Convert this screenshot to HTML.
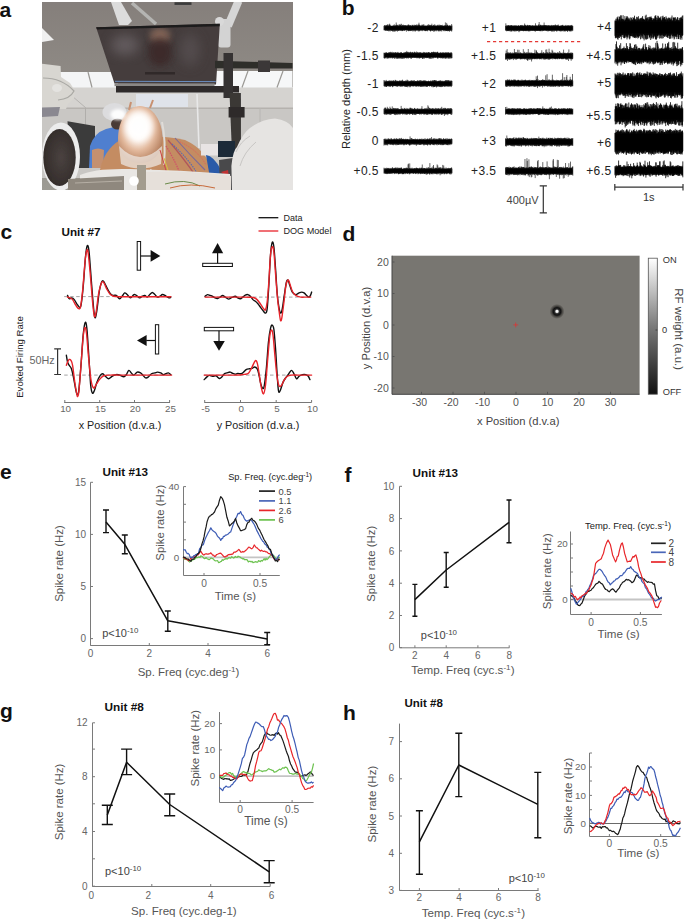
<!DOCTYPE html>
<html><head><meta charset="utf-8"><style>
html,body{margin:0;padding:0;background:#fff;}
body{width:685px;height:920px;overflow:hidden;position:relative;}
svg{position:absolute;left:0;top:0;}
text{font-family:"Liberation Sans", sans-serif;}
</style></head><body>
<svg width="685" height="920" viewBox="0 0 685 920">
<text x="-0.6" y="16.7" font-size="21" text-anchor="start" fill="#111" font-weight="bold" >a</text>
<text x="341.8" y="15" font-size="21" text-anchor="start" fill="#111" font-weight="bold" >b</text>
<text x="0.5" y="239" font-size="21" text-anchor="start" fill="#111" font-weight="bold" >c</text>
<text x="342.5" y="241" font-size="21" text-anchor="start" fill="#111" font-weight="bold" >d</text>
<text x="0" y="479" font-size="21" text-anchor="start" fill="#111" font-weight="bold" >e</text>
<text x="344.5" y="481.7" font-size="21" text-anchor="start" fill="#111" font-weight="bold" >f</text>
<text x="0" y="718" font-size="21" text-anchor="start" fill="#111" font-weight="bold" >g</text>
<text x="343" y="719.5" font-size="21" text-anchor="start" fill="#111" font-weight="bold" >h</text>
<defs>
<clipPath id="phc"><rect x="42" y="2" width="251" height="188"/></clipPath>
<filter id="bl1" x="-10%" y="-10%" width="120%" height="120%"><feGaussianBlur stdDeviation="0.6"/></filter>
<filter id="bl3" x="-50%" y="-50%" width="200%" height="200%"><feGaussianBlur stdDeviation="3"/></filter>
<filter id="bl2" x="-50%" y="-50%" width="200%" height="200%"><feGaussianBlur stdDeviation="1.6"/></filter>
<filter id="bl6" x="-50%" y="-50%" width="200%" height="200%"><feGaussianBlur stdDeviation="6"/></filter>
<linearGradient id="ceil" x1="0" y1="0" x2="0" y2="1">
 <stop offset="0" stop-color="#857f7b"/><stop offset="1" stop-color="#9d9b94"/>
</linearGradient>
<radialGradient id="headg" cx="0.45" cy="0.4" r="0.62">
 <stop offset="0" stop-color="#ffffff"/><stop offset="0.3" stop-color="#fdf6f0"/><stop offset="0.62" stop-color="#e2b89c"/><stop offset="1" stop-color="#b27c5a"/>
</radialGradient>
<radialGradient id="lampg" cx="0.55" cy="0.5" r="0.55">
 <stop offset="0" stop-color="#4a4240"/><stop offset="1" stop-color="#332c2a"/>
</radialGradient>
</defs>
<g clip-path="url(#phc)">
<g filter="url(#bl1)">
<rect x="42" y="2" width="251" height="188" fill="url(#ceil)"/>
<!-- lower ceiling / wall -->
<rect x="42" y="87" width="251" height="22" fill="#d5d3d0"/>
<rect x="42" y="108" width="251" height="70" fill="#c9c7c4"/>
<rect x="42" y="107.5" width="251" height="1.5" fill="#b5b2ae"/>
<line x1="85.5" y1="108" x2="85.5" y2="135" stroke="#b0aeab" stroke-width="1"/>
<line x1="72" y1="96" x2="86" y2="108" stroke="#b5b3b0" stroke-width="1"/>
<line x1="260" y1="108" x2="260" y2="140" stroke="#b8b6b3" stroke-width="1"/>
<!-- light panels -->
<polygon points="57,72 118,72 118,87.5 61,87.5" fill="#f4f5f6"/>
<polygon points="212,71 292.5,71 292.5,87.5 208,87.5" fill="#f6f7f8"/>
<line x1="248" y1="71" x2="242" y2="87.5" stroke="#9a9894" stroke-width="1.2"/>
<line x1="283" y1="71" x2="277" y2="87.5" stroke="#9a9894" stroke-width="1.2"/>
<line x1="88" y1="72" x2="92" y2="87.5" stroke="#9a9894" stroke-width="1.2"/>
<polygon points="42,28 54,40 42,42" fill="#f0f0f0"/>
<!-- ceiling arms -->
<path d="M111,2 L121,2 L132,21 L128,25 L119,25 Z" fill="#dcdcdc"/>
<line x1="132" y1="3" x2="156" y2="24" stroke="#b4b4b2" stroke-width="3.5"/>
<line x1="238.5" y1="1" x2="228" y2="26" stroke="#d6d6d6" stroke-width="8"/>
<rect x="218" y="19" width="12.5" height="28.5" rx="3" fill="#d3d3d3"/>
<circle cx="219.5" cy="21.5" r="4.5" fill="#d9d9d9"/>
<rect x="174.5" y="2.3" width="17" height="2.6" fill="#3a3a3a"/>
<!-- monitor -->
<polygon points="96.1,27.2 219.8,23.7 216,84.4 114.5,83.4" fill="#453d3d"/>
<polygon points="96.1,27.2 219.8,23.7 219.6,26.2 97,29.6" fill="#1d1b1b"/>
<line x1="115" y1="81.3" x2="215.8" y2="81.6" stroke="#6a8ec0" stroke-width="1"/>
<rect x="114.5" y="83.4" width="100" height="2.8" fill="#8a8886"/>
<!-- black arms -->
<rect x="116" y="86" width="123" height="6.5" fill="#2d2b2a"/>
<polygon points="215,60.7 292.5,63 292.5,68.5 215,68.3" fill="#2f2d2c"/>
<rect x="258" y="60.5" width="12" height="11.5" fill="#3a3837"/>
<rect x="223.5" y="53" width="9.5" height="45" fill="#353332"/>
<polygon points="229.5,93 240.9,93 241,153 232,153" fill="#3a3736"/>
<rect x="228.6" y="107" width="16" height="10.5" fill="#2e2c2b"/>
<!-- ceiling white box -->
<rect x="136" y="94" width="52" height="13" fill="#dfe3ea"/>
<line x1="197" y1="94" x2="199" y2="148" stroke="#e8e8e8" stroke-width="1.6"/>
<!-- left device -->
<path d="M42,63.8 L60.6,66 L61,77 L70,83 L75,91 L74,99 L68,104 L66,109 L42,109 Z" fill="#d8d6d1"/>
<path d="M43,78 Q62,78 74,91 Q70,99 58,100" stroke="#a9a8a4" stroke-width="1.2" fill="none"/>
<ellipse cx="57" cy="88" rx="5" ry="4" fill="#e4e3e0"/>
<path d="M42,107.5 L60,107 L58,116 L42,117 Z" fill="#8a8890"/>
<!-- dark panel -->
<polygon points="67.5,121.3 95,126 95,168 70,168" fill="#3b3a3a"/>
<!-- lamp -->
<ellipse cx="61" cy="156.5" rx="19" ry="34" fill="#ececec"/>
<ellipse cx="59.5" cy="157.5" rx="16.2" ry="28.5" fill="url(#lampg)"/>
<!-- blue shirt -->
<path d="M89,168 L90,146 Q94,133 106,129 L114,127 L121,130 L118,168 Z" fill="#4f7fcf"/>
<path d="M92,150 Q98,147 104,150 L103,168 L92,168 Z" fill="#c49070"/>
<!-- face/cap -->
<ellipse cx="114.5" cy="112" rx="12" ry="9" fill="#dcdcde"/>
<ellipse cx="117.5" cy="124" rx="6.5" ry="5.5" fill="#4a3a34"/>
<!-- skin torso -->
<path d="M100,170 Q104,150 120,140 Q155,133 185,140 Q207,150 212,172 L200,178 L100,178 Z" fill="#c48c62"/>
<!-- head -->
<path d="M140,106 C128,106 118,120 118,139 C118,153 126,163 140,163 C154,163 162.5,153 162.5,139 C162.5,120 152,106 140,106 Z" fill="url(#headg)"/>
<path d="M119,146 Q140,168 162,146 L161,164 Q140,173 121,164 Z" fill="#ece6e0" opacity="0.75"/>
<!-- electrodes -->
<path d="M129,110 L131,102 M150,108 L153,100" stroke="#c89070" stroke-width="2" fill="none"/>
<path d="M162,122 Q166,140 164,165" stroke="#e0dcd8" stroke-width="2" fill="none"/>
<path d="M168,140 Q185,160 195,175" stroke="#b0575a" stroke-width="1.3" fill="none"/>
<path d="M166,146 Q178,165 184,185" stroke="#d0506a" stroke-width="1.2" fill="none" stroke-dasharray="1.5,1"/>
<path d="M172,144 Q190,160 200,178" stroke="#5a6ab0" stroke-width="1.1" fill="none" stroke-dasharray="1.5,1"/>
<path d="M164,158 Q168,172 175,188" stroke="#d8c040" stroke-width="1" fill="none"/>
<path d="M180,142 Q198,150 206,165" stroke="#e06060" stroke-width="1" fill="none" stroke-dasharray="1.2,1"/>
<path d="M150,170 Q165,178 180,188" stroke="#e8e4e0" stroke-width="2" fill="none"/>
<path d="M175,138 Q190,155 205,170" stroke="#7a6a9a" stroke-width="1.1" fill="none"/>
<path d="M160,150 Q166,170 170,185" stroke="#c44" stroke-width="1" fill="none"/>
<!-- small monitor & devices -->
<rect x="201" y="144" width="17" height="11.5" fill="#e8e4e4"/>
<rect x="218" y="141" width="17" height="16" fill="#1f2a38"/>
<path d="M206,155 Q214,156 221,170 L220,180 L210,178 Z" fill="#2a5aa8"/>
<path d="M219,160 L233,158 L233,190 L220,190 Z" fill="#4a4a4c"/>
<path d="M221,172 L228,170 L229,178 Z" fill="#c03030"/>
<!-- white bag -->
<path d="M232,190 L231.4,166 Q233,150 237,147 Q243,133 250,128 Q262,119 275,118.5 Q288,120 293,128 L293,190 Z" fill="#e6e4e2"/>
<path d="M236,152 Q240,142 250,136" stroke="#c8c6c4" stroke-width="1" fill="none"/>
<path d="M240,166 Q244,152 256,142" stroke="#c8c6c4" stroke-width="1" fill="none"/>
<!-- table sheet / bottom -->
<path d="M80,175 Q95,168 130,169 Q180,170 230,174 L231,190 L80,190 Z" fill="#e9e7e4"/>
<path d="M145,172 Q190,170 231,176 L231,190 L145,190 Z" fill="#e6e0da"/>
<path d="M68,179 L124,176 L124,190 L68,190 Z" fill="#8f887e"/>
<path d="M75,183 L122,181" stroke="#b5aea4" stroke-width="1.2"/>
<rect x="137" y="165" width="9" height="25" fill="#a39c8e"/>
<circle cx="134" cy="181" r="4.8" fill="#ffffff"/>
<path d="M165,184 Q185,178 200,186" stroke="#6a8a4a" stroke-width="1" fill="none"/>
<path d="M170,188 Q190,182 215,188" stroke="#c86a3a" stroke-width="1" fill="none"/>
</g>
<!-- soft glows -->
<ellipse cx="139" cy="126" rx="14" ry="15" fill="#ffffff" filter="url(#bl3)" opacity="0.9"/>
<ellipse cx="118" cy="114.5" rx="7.5" ry="5.5" fill="#ffffff" filter="url(#bl2)" opacity="0.95"/>
<clipPath id="monc"><polygon points="97.5,29.8 218.5,26.3 215.2,80.8 115.5,80.6"/></clipPath>
<g clip-path="url(#monc)">
<ellipse cx="125" cy="45" rx="14" ry="10" fill="#6a6466" filter="url(#bl6)" opacity="0.8"/>
<ellipse cx="160" cy="36" rx="10" ry="8" fill="#8a6a5c" filter="url(#bl3)" opacity="0.9"/>
<ellipse cx="160" cy="52" rx="12" ry="14" fill="#3a2826" filter="url(#bl3)" opacity="0.8"/>
<ellipse cx="190" cy="50" rx="10" ry="16" fill="#5a5254" filter="url(#bl6)" opacity="0.7"/>
<rect x="145" y="72" width="30" height="2.5" fill="#2a2424" opacity="0.8"/>
</g>
</g>

<text x="378.8" y="32.2" font-size="12" text-anchor="end" fill="#222" font-weight="normal" letter-spacing="0.4">-2</text>
<text x="496.3" y="32.2" font-size="12" text-anchor="end" fill="#222" font-weight="normal" letter-spacing="0.4">+1</text>
<text x="378.8" y="59.5" font-size="12" text-anchor="end" fill="#222" font-weight="normal" letter-spacing="0.4">-1.5</text>
<text x="496.3" y="59.5" font-size="12" text-anchor="end" fill="#222" font-weight="normal" letter-spacing="0.4">+1.5</text>
<text x="378.8" y="87.8" font-size="12" text-anchor="end" fill="#222" font-weight="normal" letter-spacing="0.4">-1</text>
<text x="496.3" y="87.8" font-size="12" text-anchor="end" fill="#222" font-weight="normal" letter-spacing="0.4">+2</text>
<text x="378.8" y="115.60000000000001" font-size="12" text-anchor="end" fill="#222" font-weight="normal" letter-spacing="0.4">-0.5</text>
<text x="496.3" y="115.60000000000001" font-size="12" text-anchor="end" fill="#222" font-weight="normal" letter-spacing="0.4">+2.5</text>
<text x="378.8" y="145.2" font-size="12" text-anchor="end" fill="#222" font-weight="normal" letter-spacing="0.4">0</text>
<text x="496.3" y="145.2" font-size="12" text-anchor="end" fill="#222" font-weight="normal" letter-spacing="0.4">+3</text>
<text x="378.8" y="175.1" font-size="12" text-anchor="end" fill="#222" font-weight="normal" letter-spacing="0.4">+0.5</text>
<text x="496.3" y="175.1" font-size="12" text-anchor="end" fill="#222" font-weight="normal" letter-spacing="0.4">+3.5</text>
<text x="611.5" y="30.5" font-size="12" text-anchor="end" fill="#222" font-weight="normal" letter-spacing="0.4">+4</text>
<text x="611.5" y="60.3" font-size="12" text-anchor="end" fill="#222" font-weight="normal" letter-spacing="0.4">+4.5</text>
<text x="611.5" y="86.7" font-size="12" text-anchor="end" fill="#222" font-weight="normal" letter-spacing="0.4">+5</text>
<text x="611.5" y="119.8" font-size="12" text-anchor="end" fill="#222" font-weight="normal" letter-spacing="0.4">+5.5</text>
<text x="611.5" y="146.70000000000002" font-size="12" text-anchor="end" fill="#222" font-weight="normal" letter-spacing="0.4">+6</text>
<text x="611.5" y="174.8" font-size="12" text-anchor="end" fill="#222" font-weight="normal" letter-spacing="0.4">+6.5</text>
<rect x="384.6" y="26.2" width="66.8" height="3.5" rx="1.5" fill="#000"/><path d="M384.00,25.9V30.3M384.33,25.7V30.1M384.66,25.0V30.0M384.99,25.5V30.5M385.32,26.1V30.9M385.65,25.5V30.2M385.98,25.4V30.6M386.31,24.9V30.5M386.64,25.5V30.5M386.97,25.7V30.5M387.30,25.4V30.9M387.63,24.4V30.8M387.96,24.5V30.6M388.29,25.8V29.9M388.62,26.0V31.1M388.95,24.8V31.4M389.28,24.9V30.5M389.61,23.7V30.4M389.94,24.6V30.7M390.27,25.1V31.4M390.60,25.9V30.2M390.93,25.9V29.8M391.26,26.0V31.0M391.59,25.7V30.9M391.92,25.9V30.1M392.25,26.1V31.0M392.58,25.7V31.5M392.91,25.9V30.8M393.24,25.1V31.5M393.57,25.6V30.4M393.90,25.9V31.5M394.23,24.3V30.2M394.56,25.5V31.4M394.89,25.6V31.4M395.22,25.8V30.6M395.55,25.6V31.3M395.88,25.0V30.4M396.21,22.5V30.2M396.54,24.7V31.1M396.87,25.9V30.5M397.20,25.0V30.4M397.53,24.8V31.6M397.86,26.1V30.4M398.19,25.6V30.7M398.52,25.7V30.8M398.85,24.5V30.7M399.18,25.3V30.6M399.51,24.4V30.5M399.84,26.1V30.1M400.17,24.8V30.5M400.50,25.1V30.6M400.83,24.6V30.5M401.16,23.7V30.8M401.49,26.0V30.7M401.82,24.4V30.0M402.15,26.0V31.2M402.48,25.0V30.9M402.81,25.4V31.0M403.14,25.2V30.8M403.47,24.7V30.0M403.80,26.1V29.9M404.13,25.5V31.0M404.46,25.4V30.3M404.79,25.2V30.5M405.12,25.1V30.7M405.45,25.4V30.0M405.78,25.5V29.9M406.11,25.6V30.1M406.44,25.7V31.7M406.77,25.3V30.0M407.10,25.8V30.1M407.43,25.9V30.0M407.76,25.0V31.0M408.09,24.7V30.7M408.42,24.5V31.0M408.75,25.4V31.3M409.08,24.8V30.4M409.41,25.9V30.9M409.74,25.3V30.7M410.07,25.2V30.6M410.40,25.2V30.7M410.73,25.5V31.1M411.06,26.1V30.8M411.39,26.2V30.7M411.72,25.5V30.5M412.05,24.8V30.5M412.38,25.1V30.1M412.71,25.7V31.4M413.04,24.8V30.4M413.37,26.2V30.5M413.70,25.8V30.4M414.03,25.0V31.4M414.36,24.7V30.5M414.69,26.2V30.6M415.02,25.6V30.2M415.35,25.0V31.6M415.68,25.4V30.9M416.01,25.1V30.3M416.34,24.4V30.6M416.67,25.9V30.0M417.00,25.0V30.9M417.33,25.9V30.0M417.66,24.7V30.4M417.99,26.0V31.2M418.32,24.7V30.1M418.65,24.7V31.4M418.98,22.7V30.7M419.31,24.6V30.6M419.64,25.1V31.3M419.97,25.4V30.7M420.30,25.5V30.0M420.63,26.1V30.7M420.96,25.8V30.4M421.29,25.2V30.1M421.62,26.0V30.8M421.95,24.6V29.9M422.28,25.6V31.2M422.61,25.3V30.5M422.94,24.8V30.2M423.27,24.5V30.2M423.60,26.1V30.1M423.93,24.4V30.7M424.26,25.7V30.6M424.59,26.1V30.2M424.92,25.4V31.0M425.25,25.8V31.2M425.58,25.6V31.0M425.91,26.2V30.6M426.24,25.8V31.1M426.57,25.8V30.6M426.90,25.5V30.4M427.23,25.8V30.5M427.56,24.8V31.3M427.89,25.7V30.4M428.22,26.0V30.3M428.55,24.3V30.0M428.88,25.3V30.3M429.21,24.7V30.3M429.54,25.5V30.4M429.87,25.1V30.4M430.20,25.7V31.0M430.53,24.9V31.5M430.86,26.1V31.1M431.19,25.2V30.8M431.52,25.2V30.2M431.85,23.7V30.4M432.18,25.9V30.8M432.51,25.9V30.8M432.84,25.4V30.2M433.17,25.5V31.1M433.50,25.3V29.9M433.83,25.3V31.9M434.16,24.6V30.5M434.49,25.9V31.3M434.82,24.4V30.0M435.15,25.9V30.8M435.48,25.5V30.5M435.81,25.5V30.2M436.14,26.0V31.4M436.47,25.7V30.4M436.80,25.6V30.6M437.13,25.5V30.4M437.46,24.8V30.2M437.79,25.8V30.2M438.12,25.7V31.2M438.45,25.6V30.5M438.78,24.7V31.2M439.11,25.5V31.5M439.44,25.6V30.6M439.77,24.7V30.1M440.10,26.1V31.0M440.43,25.2V30.3M440.76,25.1V31.3M441.09,25.5V30.5M441.42,25.1V30.2M441.75,25.5V31.5M442.08,26.0V29.9M442.41,24.8V30.0M442.74,26.0V30.1M443.07,25.7V30.6M443.40,26.0V30.5M443.73,25.8V30.4M444.06,25.4V31.3M444.39,25.7V30.2M444.72,25.7V30.5M445.05,25.2V30.5M445.38,22.4V31.1M445.71,25.1V30.2M446.04,26.0V31.1M446.37,25.5V31.0M446.70,22.9V31.0M447.03,24.5V30.6M447.36,24.9V31.0M447.69,24.9V31.3M448.02,25.6V30.5M448.35,26.1V31.0M448.68,26.2V30.9M449.01,25.6V31.0M449.34,25.1V31.6M449.67,26.2V31.3M450.00,25.6V29.9M450.33,25.7V29.9M450.66,25.7V30.9M450.99,25.9V31.0M451.32,25.7V30.4M451.65,24.0V31.6M451.98,25.5V30.4" stroke="#000" stroke-width="0.6" fill="none"/>
<rect x="384.6" y="53.5" width="66.8" height="3.6" rx="1.5" fill="#000"/><path d="M384.00,52.6V58.0M384.33,53.0V58.4M384.66,52.9V58.4M384.99,53.3V58.4M385.32,52.7V57.9M385.65,52.7V57.4M385.98,52.8V58.3M386.31,52.1V57.4M386.64,52.7V57.4M386.97,53.1V58.4M387.30,52.7V58.6M387.63,53.0V57.7M387.96,53.2V58.4M388.29,53.1V57.9M388.62,52.6V58.0M388.95,52.0V58.6M389.28,52.9V57.6M389.61,52.3V57.6M389.94,52.5V57.9M390.27,52.8V57.9M390.60,51.8V57.6M390.93,52.5V58.5M391.26,52.6V57.9M391.59,52.5V57.3M391.92,52.8V57.9M392.25,51.8V57.7M392.58,53.3V58.6M392.91,52.9V58.1M393.24,52.5V57.8M393.57,52.3V57.6M393.90,53.3V57.9M394.23,52.8V58.3M394.56,52.8V58.8M394.89,52.2V57.1M395.22,53.2V57.4M395.55,52.3V57.8M395.88,52.2V58.7M396.21,52.5V58.0M396.54,53.1V57.6M396.87,53.0V58.9M397.20,52.6V58.6M397.53,52.7V58.2M397.86,51.9V58.5M398.19,52.8V58.3M398.52,52.8V58.3M398.85,52.7V58.0M399.18,52.9V58.7M399.51,53.0V57.9M399.84,52.7V58.3M400.17,53.4V58.4M400.50,52.2V58.2M400.83,52.8V58.0M401.16,53.3V58.8M401.49,52.0V57.7M401.82,52.9V58.7M402.15,53.4V58.3M402.48,53.2V58.7M402.81,53.1V57.7M403.14,52.8V58.4M403.47,53.4V57.8M403.80,52.6V58.6M404.13,52.3V58.6M404.46,52.9V57.8M404.79,52.5V58.2M405.12,52.7V58.1M405.45,52.6V57.9M405.78,51.9V57.8M406.11,52.0V57.9M406.44,52.8V58.5M406.77,50.9V57.9M407.10,52.1V57.8M407.43,52.3V58.3M407.76,52.5V57.7M408.09,51.8V57.9M408.42,53.2V58.6M408.75,52.0V57.8M409.08,52.7V57.7M409.41,52.7V57.9M409.74,52.3V57.5M410.07,52.8V57.8M410.40,51.7V58.0M410.73,52.0V58.6M411.06,53.3V57.3M411.39,52.4V58.9M411.72,53.1V58.0M412.05,52.1V57.8M412.38,52.6V57.3M412.71,51.9V58.0M413.04,52.7V58.0M413.37,52.7V57.8M413.70,53.0V57.4M414.03,52.7V57.3M414.36,51.8V57.9M414.69,51.8V58.0M415.02,52.5V57.4M415.35,53.0V58.0M415.68,52.3V57.5M416.01,52.7V57.9M416.34,52.9V57.5M416.67,51.5V57.9M417.00,52.7V58.5M417.33,53.2V58.0M417.66,52.1V57.8M417.99,52.2V57.3M418.32,52.9V57.9M418.65,52.9V57.9M418.98,52.6V58.3M419.31,52.4V58.5M419.64,52.6V58.2M419.97,52.7V57.9M420.30,52.5V58.2M420.63,52.3V58.0M420.96,52.6V57.3M421.29,53.4V57.8M421.62,52.6V57.7M421.95,53.4V57.9M422.28,53.1V58.5M422.61,52.8V58.9M422.94,52.4V58.5M423.27,53.1V58.6M423.60,51.9V57.6M423.93,53.0V57.9M424.26,52.7V57.2M424.59,52.1V58.7M424.92,52.8V57.8M425.25,52.8V57.9M425.58,52.6V57.8M425.91,52.9V57.6M426.24,52.9V57.5M426.57,52.3V58.2M426.90,52.6V58.0M427.23,52.9V58.0M427.56,52.7V58.0M427.89,52.4V57.3M428.22,53.1V58.2M428.55,52.0V57.5M428.88,52.1V58.2M429.21,52.5V58.4M429.54,52.8V58.3M429.87,52.7V58.7M430.20,52.8V57.9M430.53,53.0V58.7M430.86,53.1V57.8M431.19,52.5V58.7M431.52,52.1V57.1M431.85,51.9V58.7M432.18,52.7V57.9M432.51,52.5V57.5M432.84,52.0V58.3M433.17,52.5V58.4M433.50,51.8V57.6M433.83,51.7V58.1M434.16,52.7V57.4M434.49,52.0V57.6M434.82,52.6V57.3M435.15,52.9V58.0M435.48,51.9V57.9M435.81,52.8V57.3M436.14,52.1V57.2M436.47,52.7V57.4M436.80,52.8V57.8M437.13,51.9V58.0M437.46,51.8V58.4M437.79,51.9V58.6M438.12,52.8V58.3M438.45,53.2V57.5M438.78,53.0V57.8M439.11,52.5V57.5M439.44,53.3V57.9M439.77,53.2V57.8M440.10,52.8V58.1M440.43,52.2V57.6M440.76,52.8V58.4M441.09,52.9V57.9M441.42,52.5V58.1M441.75,53.1V58.2M442.08,52.9V57.8M442.41,53.1V57.9M442.74,52.0V58.8M443.07,52.8V57.9M443.40,52.8V58.0M443.73,52.3V58.4M444.06,53.2V57.6M444.39,52.9V58.3M444.72,52.5V57.4M445.05,53.2V58.4M445.38,52.5V58.3M445.71,52.6V58.6M446.04,52.4V58.5M446.37,52.6V57.9M446.70,52.7V57.7M447.03,52.8V58.5M447.36,53.2V57.5M447.69,52.3V57.4M448.02,52.5V58.4M448.35,52.3V58.3M448.68,52.6V58.6M449.01,53.1V57.3M449.34,53.1V57.8M449.67,53.4V58.7M450.00,52.2V57.6M450.33,53.1V58.5M450.66,52.8V57.4M450.99,52.6V57.9M451.32,52.5V58.5M451.65,52.6V57.9M451.98,53.3V58.2" stroke="#000" stroke-width="0.6" fill="none"/>
<rect x="384.6" y="81.8" width="66.8" height="3.6" rx="1.5" fill="#000"/><path d="M384.00,80.0V86.2M384.33,81.3V86.0M384.66,81.7V86.8M384.99,80.3V85.9M385.32,81.2V86.4M385.65,81.5V86.3M385.98,81.5V86.9M386.31,79.9V86.8M386.64,81.1V87.0M386.97,81.3V86.1M387.30,81.4V86.2M387.63,80.9V85.8M387.96,81.3V86.2M388.29,81.2V86.0M388.62,80.8V85.8M388.95,80.6V86.8M389.28,81.2V86.4M389.61,80.5V86.3M389.94,81.5V86.0M390.27,80.4V86.9M390.60,81.0V86.2M390.93,81.1V86.5M391.26,81.2V86.0M391.59,80.4V85.7M391.92,81.3V85.5M392.25,81.2V86.2M392.58,80.7V87.2M392.91,81.2V87.0M393.24,80.5V86.1M393.57,80.5V85.9M393.90,80.5V85.5M394.23,81.0V85.7M394.56,81.4V86.2M394.89,81.4V86.0M395.22,79.8V86.0M395.55,80.6V86.2M395.88,80.0V86.2M396.21,80.8V86.2M396.54,81.3V86.6M396.87,81.3V85.5M397.20,80.9V85.7M397.53,80.8V86.9M397.86,81.3V86.1M398.19,80.8V86.1M398.52,81.4V85.5M398.85,81.3V86.1M399.18,80.9V86.7M399.51,80.9V85.6M399.84,80.2V85.8M400.17,80.8V85.7M400.50,81.1V86.4M400.83,80.7V87.0M401.16,81.0V85.6M401.49,80.8V86.2M401.82,80.7V86.4M402.15,80.4V86.5M402.48,79.7V86.2M402.81,80.9V86.3M403.14,81.7V85.9M403.47,80.8V85.6M403.80,81.6V86.2M404.13,81.0V86.4M404.46,80.9V86.1M404.79,81.2V86.8M405.12,81.5V86.0M405.45,80.6V86.8M405.78,80.7V86.3M406.11,81.3V86.8M406.44,80.9V86.9M406.77,80.7V86.2M407.10,79.6V86.7M407.43,81.2V86.2M407.76,80.3V87.3M408.09,80.5V85.9M408.42,81.7V86.4M408.75,81.3V85.8M409.08,80.8V85.8M409.41,81.4V87.2M409.74,81.5V85.5M410.07,81.1V86.1M410.40,80.7V87.2M410.73,81.2V86.5M411.06,80.5V86.0M411.39,81.0V85.7M411.72,80.1V86.2M412.05,81.1V86.2M412.38,80.8V86.3M412.71,80.8V86.2M413.04,80.9V86.0M413.37,80.7V86.4M413.70,80.6V86.3M414.03,81.5V86.4M414.36,80.1V85.7M414.69,81.6V85.7M415.02,81.0V85.8M415.35,81.0V86.8M415.68,81.0V85.9M416.01,81.7V85.9M416.34,81.3V86.5M416.67,81.0V86.6M417.00,81.4V86.4M417.33,80.4V86.0M417.66,80.5V86.2M417.99,80.9V86.2M418.32,81.2V86.3M418.65,81.1V86.5M418.98,80.5V86.3M419.31,80.5V86.1M419.64,81.1V86.3M419.97,80.5V85.8M420.30,80.1V87.0M420.63,81.4V86.4M420.96,80.6V86.3M421.29,80.6V87.0M421.62,81.3V86.1M421.95,80.6V86.6M422.28,81.1V86.2M422.61,81.0V86.8M422.94,80.7V86.1M423.27,80.8V86.0M423.60,80.5V86.5M423.93,80.7V86.6M424.26,80.9V86.5M424.59,80.4V85.6M424.92,80.9V86.1M425.25,80.6V86.6M425.58,80.7V85.7M425.91,81.3V86.5M426.24,80.8V86.6M426.57,81.2V86.5M426.90,81.3V86.6M427.23,81.5V87.0M427.56,81.2V86.4M427.89,81.5V85.9M428.22,81.0V86.0M428.55,80.6V85.8M428.88,81.2V86.1M429.21,81.6V86.4M429.54,81.3V86.5M429.87,81.3V85.9M430.20,81.4V85.8M430.53,80.7V86.1M430.86,80.6V86.1M431.19,81.6V86.2M431.52,81.2V86.2M431.85,81.6V87.1M432.18,80.4V86.6M432.51,80.7V86.1M432.84,80.5V85.8M433.17,81.4V87.4M433.50,80.6V86.9M433.83,80.4V86.1M434.16,80.5V86.7M434.49,80.0V86.9M434.82,80.5V87.0M435.15,80.3V86.7M435.48,81.0V85.9M435.81,80.4V86.3M436.14,80.2V86.4M436.47,80.9V87.5M436.80,81.7V86.4M437.13,81.4V86.6M437.46,81.5V86.3M437.79,81.0V86.3M438.12,80.8V86.6M438.45,81.0V86.6M438.78,81.1V85.8M439.11,80.6V85.9M439.44,80.7V86.8M439.77,81.1V86.9M440.10,81.0V86.5M440.43,80.3V86.4M440.76,80.6V86.9M441.09,81.5V87.2M441.42,81.3V86.5M441.75,81.0V86.2M442.08,80.5V86.9M442.41,81.5V86.8M442.74,81.2V86.2M443.07,81.5V85.9M443.40,81.4V86.3M443.73,81.5V86.0M444.06,80.6V86.7M444.39,81.5V86.4M444.72,81.0V86.8M445.05,81.1V86.0M445.38,80.4V85.8M445.71,80.5V86.6M446.04,80.1V86.6M446.37,80.3V86.0M446.70,80.7V86.3M447.03,81.4V85.8M447.36,80.7V86.3M447.69,80.2V86.2M448.02,80.1V86.9M448.35,81.0V86.5M448.68,80.4V85.8M449.01,80.1V86.3M449.34,80.9V86.0M449.67,81.4V86.7M450.00,81.6V86.1M450.33,80.8V86.5M450.66,80.9V85.9M450.99,80.5V86.2M451.32,80.6V87.1M451.65,81.0V85.9M451.98,80.9V85.8" stroke="#000" stroke-width="0.6" fill="none"/>
<rect x="384.6" y="109.7" width="66.8" height="3.5" rx="1.5" fill="#000"/><path d="M384.00,108.7V113.9M384.33,109.3V114.3M384.66,107.8V114.5M384.99,108.6V114.3M385.32,107.4V114.1M385.65,108.0V113.5M385.98,108.6V115.0M386.31,109.0V113.8M386.64,109.5V114.6M386.97,108.5V114.4M387.30,106.8V113.9M387.63,109.3V114.3M387.96,108.1V114.2M388.29,108.7V113.8M388.62,108.7V114.4M388.95,109.1V113.8M389.28,108.8V114.1M389.61,109.2V114.6M389.94,106.7V114.5M390.27,109.0V113.3M390.60,108.0V114.8M390.93,108.8V114.5M391.26,109.0V113.6M391.59,109.0V114.3M391.92,108.6V113.8M392.25,106.4V114.0M392.58,109.3V113.8M392.91,108.4V113.5M393.24,109.0V113.6M393.57,107.9V113.7M393.90,108.5V113.9M394.23,108.0V114.6M394.56,109.1V114.7M394.89,108.3V114.3M395.22,109.1V113.6M395.55,108.1V115.1M395.88,109.1V113.3M396.21,108.5V114.8M396.54,108.6V114.0M396.87,108.8V114.2M397.20,108.2V114.9M397.53,108.3V113.3M397.86,109.1V114.4M398.19,109.3V113.9M398.52,108.3V114.3M398.85,109.4V113.2M399.18,109.1V114.6M399.51,109.5V113.7M399.84,109.1V114.1M400.17,108.9V114.7M400.50,109.5V113.9M400.83,109.1V113.3M401.16,105.9V113.3M401.49,108.6V113.8M401.82,108.9V113.4M402.15,108.5V113.4M402.48,108.7V114.6M402.81,108.9V113.5M403.14,109.1V113.7M403.47,109.3V113.5M403.80,109.2V114.2M404.13,107.9V114.4M404.46,108.5V113.3M404.79,108.5V113.6M405.12,108.9V114.5M405.45,109.0V113.5M405.78,109.1V114.1M406.11,107.9V114.7M406.44,109.4V114.7M406.77,109.2V113.4M407.10,108.6V113.7M407.43,108.8V114.3M407.76,108.5V114.6M408.09,108.7V113.7M408.42,109.3V113.8M408.75,108.8V113.8M409.08,108.9V113.7M409.41,109.5V113.9M409.74,108.3V115.0M410.07,107.6V113.9M410.40,107.9V114.0M410.73,108.7V113.4M411.06,107.9V114.0M411.39,109.1V113.8M411.72,108.5V114.0M412.05,108.2V113.6M412.38,109.1V114.8M412.71,108.8V114.7M413.04,108.8V114.5M413.37,109.3V113.2M413.70,109.0V114.4M414.03,109.2V113.5M414.36,108.1V114.7M414.69,107.9V114.2M415.02,108.4V114.9M415.35,109.1V114.6M415.68,109.1V113.5M416.01,109.6V115.1M416.34,109.0V113.9M416.67,109.5V113.9M417.00,108.2V113.9M417.33,109.2V114.0M417.66,108.6V113.8M417.99,108.2V113.9M418.32,109.2V113.9M418.65,109.3V114.0M418.98,109.0V114.0M419.31,108.9V114.1M419.64,108.6V114.6M419.97,109.2V113.7M420.30,109.1V114.4M420.63,109.4V114.0M420.96,108.4V113.3M421.29,108.7V113.5M421.62,108.8V114.6M421.95,106.2V113.8M422.28,109.1V113.8M422.61,108.7V113.5M422.94,109.4V113.8M423.27,109.0V113.9M423.60,109.1V113.4M423.93,108.6V114.9M424.26,109.0V114.3M424.59,108.3V114.2M424.92,109.0V114.0M425.25,108.7V113.5M425.58,108.4V114.0M425.91,108.7V114.7M426.24,109.1V113.5M426.57,108.7V114.7M426.90,107.8V114.5M427.23,108.9V113.8M427.56,108.8V114.8M427.89,105.3V114.3M428.22,109.1V114.6M428.55,106.6V113.5M428.88,109.6V113.8M429.21,107.8V114.0M429.54,108.2V114.4M429.87,108.2V114.0M430.20,109.0V113.7M430.53,108.4V113.8M430.86,109.3V114.5M431.19,108.6V113.9M431.52,109.0V114.8M431.85,108.6V113.8M432.18,108.3V114.4M432.51,108.4V114.8M432.84,109.5V114.6M433.17,108.1V113.6M433.50,108.7V113.5M433.83,109.3V113.4M434.16,109.3V113.6M434.49,108.9V114.5M434.82,108.4V113.9M435.15,109.6V114.5M435.48,107.9V114.3M435.81,109.2V113.8M436.14,109.5V113.9M436.47,108.1V114.7M436.80,109.1V113.3M437.13,109.1V113.7M437.46,108.5V113.6M437.79,108.7V114.2M438.12,108.5V114.9M438.45,108.1V114.3M438.78,108.9V113.3M439.11,109.4V114.0M439.44,108.9V114.5M439.77,108.7V113.9M440.10,108.2V113.7M440.43,108.8V113.3M440.76,109.4V113.4M441.09,107.8V114.7M441.42,109.2V114.7M441.75,106.8V114.9M442.08,108.9V113.7M442.41,108.5V114.2M442.74,109.2V114.6M443.07,109.4V113.5M443.40,108.5V113.6M443.73,108.2V113.9M444.06,107.9V113.6M444.39,109.1V116.0M444.72,108.6V114.4M445.05,107.8V113.8M445.38,108.1V114.7M445.71,108.6V114.0M446.04,109.1V113.9M446.37,108.7V114.7M446.70,108.9V113.8M447.03,108.6V113.9M447.36,109.1V113.8M447.69,108.2V115.2M448.02,108.2V114.5M448.35,109.2V113.8M448.68,108.4V113.8M449.01,108.5V113.6M449.34,109.0V113.9M449.67,108.2V113.4M450.00,109.1V113.5M450.33,108.9V114.0M450.66,108.0V114.1M450.99,108.4V114.5M451.32,108.3V115.0M451.65,108.9V113.3M451.98,109.2V114.4" stroke="#000" stroke-width="0.6" fill="none"/>
<rect x="384.6" y="140.0" width="66.8" height="3.6" rx="1.5" fill="#000"/><path d="M384.00,139.0V145.6M384.33,138.9V144.3M384.66,139.7V144.7M384.99,138.5V144.6M385.32,139.1V145.1M385.65,139.9V144.2M385.98,138.6V145.3M386.31,139.4V144.0M386.64,139.5V145.1M386.97,139.9V144.7M387.30,138.7V144.3M387.63,139.4V145.5M387.96,139.7V144.6M388.29,138.6V144.2M388.62,138.6V143.9M388.95,138.6V144.2M389.28,139.1V143.6M389.61,139.2V144.4M389.94,139.4V144.4M390.27,139.2V145.0M390.60,139.7V144.4M390.93,138.4V143.9M391.26,138.5V144.0M391.59,138.6V144.4M391.92,139.7V145.0M392.25,139.1V145.0M392.58,139.6V144.4M392.91,139.1V144.1M393.24,139.8V145.3M393.57,139.1V144.5M393.90,138.6V144.7M394.23,139.1V144.7M394.56,138.5V143.9M394.89,139.1V144.5M395.22,138.8V143.7M395.55,139.4V145.1M395.88,139.5V143.9M396.21,138.6V145.3M396.54,138.3V144.2M396.87,139.4V144.6M397.20,139.1V144.7M397.53,138.9V145.1M397.86,138.8V144.1M398.19,138.9V144.3M398.52,139.5V145.0M398.85,138.7V144.8M399.18,139.7V144.9M399.51,138.3V144.1M399.84,139.0V144.1M400.17,138.3V144.7M400.50,139.1V143.9M400.83,138.7V144.7M401.16,139.6V144.7M401.49,137.9V144.2M401.82,139.0V144.2M402.15,139.3V144.8M402.48,139.0V143.9M402.81,139.0V143.8M403.14,138.6V145.0M403.47,139.2V143.9M403.80,138.9V145.3M404.13,139.2V145.2M404.46,139.3V144.7M404.79,139.5V143.8M405.12,139.3V144.2M405.45,139.1V144.5M405.78,138.7V144.2M406.11,139.7V144.7M406.44,139.3V144.9M406.77,139.0V144.0M407.10,139.3V144.7M407.43,138.9V143.8M407.76,139.0V144.1M408.09,139.3V144.2M408.42,139.4V144.1M408.75,139.7V144.7M409.08,139.4V144.9M409.41,139.3V145.3M409.74,139.5V145.6M410.07,136.4V144.8M410.40,138.6V145.1M410.73,139.7V143.9M411.06,139.8V144.0M411.39,138.0V144.9M411.72,138.5V143.8M412.05,138.5V144.5M412.38,139.5V144.6M412.71,139.0V144.1M413.04,139.2V144.0M413.37,139.0V144.0M413.70,139.2V144.9M414.03,139.3V144.5M414.36,139.1V144.3M414.69,139.6V144.4M415.02,138.9V144.6M415.35,138.6V144.6M415.68,139.8V144.4M416.01,139.0V143.8M416.34,139.1V145.9M416.67,139.8V144.8M417.00,139.2V144.3M417.33,139.3V144.3M417.66,138.7V144.7M417.99,139.8V143.9M418.32,139.3V144.8M418.65,139.8V143.9M418.98,139.1V144.5M419.31,139.4V144.9M419.64,138.8V144.7M419.97,138.9V144.7M420.30,139.2V144.3M420.63,139.2V144.8M420.96,139.7V145.0M421.29,138.8V144.0M421.62,139.7V144.3M421.95,138.6V144.5M422.28,139.2V144.0M422.61,139.6V144.2M422.94,139.5V144.6M423.27,138.8V143.9M423.60,139.2V144.8M423.93,139.2V145.5M424.26,139.6V145.1M424.59,139.4V144.4M424.92,138.2V144.1M425.25,139.9V144.3M425.58,139.5V144.8M425.91,138.7V144.5M426.24,139.2V144.9M426.57,139.5V144.4M426.90,139.4V144.7M427.23,139.1V144.5M427.56,138.5V145.6M427.89,138.7V145.1M428.22,139.5V144.4M428.55,139.4V144.2M428.88,138.9V144.2M429.21,139.3V144.7M429.54,139.1V144.1M429.87,138.1V145.0M430.20,138.2V145.3M430.53,139.4V144.8M430.86,139.4V144.3M431.19,139.8V144.3M431.52,137.1V144.2M431.85,138.9V143.9M432.18,139.8V144.5M432.51,139.6V144.7M432.84,138.9V144.4M433.17,138.6V144.3M433.50,139.1V145.0M433.83,138.3V144.3M434.16,139.7V145.3M434.49,138.4V144.4M434.82,139.3V144.4M435.15,139.8V144.3M435.48,138.7V144.2M435.81,139.5V144.1M436.14,138.6V144.8M436.47,139.3V144.6M436.80,139.1V143.9M437.13,138.7V145.4M437.46,139.5V144.1M437.79,139.3V144.3M438.12,138.8V144.3M438.45,139.4V145.0M438.78,138.2V144.4M439.11,138.8V144.4M439.44,138.7V144.4M439.77,138.2V144.5M440.10,138.2V143.9M440.43,139.4V145.1M440.76,139.0V144.6M441.09,138.3V144.5M441.42,138.8V144.3M441.75,139.8V145.2M442.08,139.1V144.4M442.41,139.7V144.7M442.74,139.5V145.2M443.07,139.2V144.7M443.40,138.5V145.1M443.73,138.2V144.6M444.06,139.3V144.3M444.39,139.1V144.9M444.72,139.2V143.9M445.05,139.3V144.0M445.38,139.1V144.4M445.71,138.4V144.3M446.04,138.9V145.1M446.37,139.6V144.0M446.70,139.5V145.0M447.03,138.1V144.5M447.36,139.7V144.9M447.69,138.8V144.9M448.02,139.2V145.4M448.35,139.4V144.4M448.68,138.8V144.4M449.01,139.0V144.4M449.34,138.7V144.6M449.67,138.9V144.2M450.00,139.3V145.2M450.33,139.6V144.2M450.66,138.9V144.2M450.99,139.0V144.1M451.32,138.4V144.2M451.65,138.8V144.5M451.98,139.1V143.7" stroke="#000" stroke-width="0.6" fill="none"/>
<rect x="384.6" y="169.2" width="66.8" height="3.5" rx="1.5" fill="#000"/><path d="M384.00,167.7V173.5M384.33,168.6V173.3M384.66,168.7V173.5M384.99,168.5V173.1M385.32,168.9V173.7M385.65,168.3V173.9M385.98,168.3V173.2M386.31,167.7V173.7M386.64,168.8V173.8M386.97,168.8V174.2M387.30,168.4V173.6M387.63,168.1V173.8M387.96,167.8V173.7M388.29,168.4V173.3M388.62,168.4V173.5M388.95,168.1V173.9M389.28,168.8V173.4M389.61,168.8V173.6M389.94,167.9V173.8M390.27,168.5V173.7M390.60,168.5V173.1M390.93,168.8V173.8M391.26,168.2V173.6M391.59,169.0V173.3M391.92,167.9V173.5M392.25,167.8V173.2M392.58,167.2V172.9M392.91,168.8V174.1M393.24,168.1V172.9M393.57,168.3V172.9M393.90,168.8V172.9M394.23,168.3V173.4M394.56,167.8V174.1M394.89,168.0V173.3M395.22,168.0V173.1M395.55,167.4V173.4M395.88,168.5V173.5M396.21,168.1V173.4M396.54,167.6V173.6M396.87,168.9V172.8M397.20,168.7V173.3M397.53,167.6V172.9M397.86,168.2V173.6M398.19,167.6V174.1M398.52,168.4V174.2M398.85,168.0V174.1M399.18,168.7V173.4M399.51,167.8V173.6M399.84,168.0V173.9M400.17,167.9V174.0M400.50,168.4V173.1M400.83,168.1V173.5M401.16,167.2V173.4M401.49,167.8V173.1M401.82,168.1V174.1M402.15,168.9V173.5M402.48,169.1V174.2M402.81,168.9V174.0M403.14,168.7V174.2M403.47,168.8V174.0M403.80,167.9V174.1M404.13,168.4V173.5M404.46,168.6V173.3M404.79,168.1V173.0M405.12,168.1V174.2M405.45,168.3V172.9M405.78,168.8V173.8M406.11,167.7V173.7M406.44,167.8V173.0M406.77,168.4V172.9M407.10,167.8V173.6M407.43,168.1V173.9M407.76,168.5V173.5M408.09,164.4V173.4M408.42,163.6V173.1M408.75,168.5V172.9M409.08,168.8V174.1M409.41,168.0V174.3M409.74,163.4V173.1M410.07,167.8V174.1M410.40,168.5V173.1M410.73,168.9V173.5M411.06,168.4V173.4M411.39,168.3V173.1M411.72,168.9V173.3M412.05,167.6V173.2M412.38,168.5V173.2M412.71,168.9V173.1M413.04,168.4V173.8M413.37,168.3V173.9M413.70,168.9V173.6M414.03,168.6V173.0M414.36,168.4V173.0M414.69,168.0V173.1M415.02,168.0V174.0M415.35,169.1V172.9M415.68,168.3V174.1M416.01,167.9V173.9M416.34,167.8V172.9M416.67,167.7V173.4M417.00,168.4V173.4M417.33,168.3V173.4M417.66,168.0V172.8M417.99,168.3V174.3M418.32,168.5V173.0M418.65,168.8V174.0M418.98,168.2V173.5M419.31,168.7V173.1M419.64,167.9V173.0M419.97,167.6V174.0M420.30,168.9V173.5M420.63,168.3V174.2M420.96,168.2V173.5M421.29,168.1V173.5M421.62,167.5V173.7M421.95,168.0V173.1M422.28,164.5V174.0M422.61,168.2V173.5M422.94,169.0V173.8M423.27,168.4V172.8M423.60,167.9V173.3M423.93,168.4V174.1M424.26,168.1V173.9M424.59,168.2V174.0M424.92,168.0V173.6M425.25,168.1V173.6M425.58,169.1V173.3M425.91,168.8V174.3M426.24,168.3V174.2M426.57,168.5V173.0M426.90,167.4V174.9M427.23,168.6V173.6M427.56,168.1V174.0M427.89,168.9V173.6M428.22,167.5V173.7M428.55,167.3V172.7M428.88,168.7V173.5M429.21,168.8V174.0M429.54,167.9V174.6M429.87,163.1V173.5M430.20,168.4V174.3M430.53,168.0V173.0M430.86,168.3V173.6M431.19,168.4V173.4M431.52,167.5V173.9M431.85,168.6V174.3M432.18,168.2V174.1M432.51,168.6V173.2M432.84,166.4V173.5M433.17,168.9V174.3M433.50,165.0V173.4M433.83,167.4V172.8M434.16,168.6V173.6M434.49,168.7V173.4M434.82,168.4V174.1M435.15,168.4V173.4M435.48,168.1V173.5M435.81,167.6V173.9M436.14,167.9V173.6M436.47,168.1V174.2M436.80,168.4V173.3M437.13,164.4V174.5M437.46,168.6V173.6M437.79,165.4V173.7M438.12,168.0V172.9M438.45,168.2V173.4M438.78,167.3V174.2M439.11,168.1V173.8M439.44,168.0V172.9M439.77,167.3V173.3M440.10,167.7V175.3M440.43,167.5V173.2M440.76,168.9V173.7M441.09,167.4V174.4M441.42,168.4V173.2M441.75,168.8V173.9M442.08,168.3V173.8M442.41,167.9V173.8M442.74,164.9V172.9M443.07,168.6V174.2M443.40,168.4V172.9M443.73,165.5V173.3M444.06,167.7V173.7M444.39,168.9V174.3M444.72,168.3V174.1M445.05,168.7V172.8M445.38,168.6V172.9M445.71,168.8V173.9M446.04,167.4V173.2M446.37,168.3V173.8M446.70,169.1V174.3M447.03,168.5V173.0M447.36,168.2V173.5M447.69,168.7V173.6M448.02,168.3V173.6M448.35,168.5V172.9M448.68,167.8V173.2M449.01,168.7V173.3M449.34,168.4V173.6M449.67,168.5V174.1M450.00,168.0V174.4M450.33,168.4V173.1M450.66,168.4V173.6M450.99,168.1V174.5M451.32,167.5V173.6M451.65,167.6V173.3M451.98,168.7V173.3" stroke="#000" stroke-width="0.6" fill="none"/>
<rect x="506.1" y="26.2" width="66.3" height="3.9" rx="1.5" fill="#000"/><path d="M505.50,25.9V30.3M505.83,23.3V30.5M506.16,25.8V30.9M506.49,26.2V30.5M506.82,25.2V31.4M507.15,25.4V30.9M507.48,25.7V30.9M507.81,25.8V31.0M508.14,25.4V30.9M508.47,25.1V30.9M508.80,25.3V31.2M509.13,25.8V31.0M509.46,25.8V30.6M509.79,25.3V31.3M510.12,25.5V30.4M510.45,25.5V30.6M510.78,25.4V31.7M511.11,25.7V30.9M511.44,25.1V31.1M511.77,25.2V31.6M512.10,25.6V31.2M512.43,26.0V30.2M512.76,25.5V30.5M513.09,25.5V31.0M513.42,26.1V30.8M513.75,25.5V31.4M514.08,25.7V30.4M514.41,25.5V30.9M514.74,25.5V31.5M515.07,25.9V31.2M515.40,25.6V30.3M515.73,25.6V31.3M516.06,25.3V30.9M516.39,25.7V30.7M516.72,25.7V31.3M517.05,25.9V30.9M517.38,25.7V31.0M517.71,26.0V30.7M518.04,25.7V30.8M518.37,25.3V30.3M518.70,25.4V31.3M519.03,25.7V32.2M519.36,25.7V30.9M519.69,26.2V31.1M520.02,26.0V31.2M520.35,25.2V30.8M520.68,25.1V30.5M521.01,25.5V30.8M521.34,25.1V30.9M521.67,25.9V30.6M522.00,24.9V30.9M522.33,25.8V30.8M522.66,25.2V30.9M522.99,25.8V30.8M523.32,25.7V31.2M523.65,26.0V31.2M523.98,25.3V31.0M524.31,25.6V31.0M524.64,23.5V30.8M524.97,24.7V30.8M525.30,25.1V31.2M525.63,25.3V31.0M525.96,25.5V31.0M526.29,26.0V31.0M526.62,25.6V31.2M526.95,25.7V30.4M527.28,24.9V30.6M527.61,24.9V31.0M527.94,25.5V31.2M528.27,25.7V31.1M528.60,25.3V31.3M528.93,25.9V30.8M529.26,25.0V31.4M529.59,25.2V30.8M529.92,25.0V31.2M530.25,25.9V31.1M530.58,25.4V30.8M530.91,25.5V30.3M531.24,25.9V31.0M531.57,25.6V30.6M531.90,25.7V30.7M532.23,25.8V30.9M532.56,25.2V30.6M532.89,25.6V31.0M533.22,25.3V30.9M533.55,26.1V30.7M533.88,25.9V30.4M534.21,25.4V31.0M534.54,25.8V31.2M534.87,25.6V31.1M535.20,26.0V30.7M535.53,23.3V31.6M535.86,25.1V30.9M536.19,25.7V30.9M536.52,25.6V31.0M536.85,25.6V30.5M537.18,26.0V31.0M537.51,26.2V31.0M537.84,25.3V30.8M538.17,25.1V30.6M538.50,25.3V31.0M538.83,24.1V30.6M539.16,22.0V31.0M539.49,25.5V31.1M539.82,25.8V30.8M540.15,25.2V31.1M540.48,24.9V31.2M540.81,24.7V31.0M541.14,25.3V31.1M541.47,25.5V30.4M541.80,25.5V30.4M542.13,25.5V31.4M542.46,25.6V30.8M542.79,25.3V30.5M543.12,24.9V30.8M543.45,25.5V30.7M543.78,25.3V30.7M544.11,22.5V31.0M544.44,25.0V30.3M544.77,25.2V30.3M545.10,25.3V30.6M545.43,25.4V30.6M545.76,25.0V30.7M546.09,25.5V30.6M546.42,25.3V30.9M546.75,25.5V30.8M547.08,25.4V31.2M547.41,25.4V30.7M547.74,26.2V30.5M548.07,25.3V31.6M548.40,25.1V30.7M548.73,25.7V31.0M549.06,25.5V31.0M549.39,25.4V30.7M549.72,25.8V31.1M550.05,25.3V30.5M550.38,25.9V31.0M550.71,25.5V30.6M551.04,25.8V31.0M551.37,25.7V31.5M551.70,24.9V30.8M552.03,25.4V31.5M552.36,25.3V30.9M552.69,26.0V31.5M553.02,25.5V30.7M553.35,25.8V30.3M553.68,25.0V31.0M554.01,25.1V31.9M554.34,25.6V31.1M554.67,25.5V30.6M555.00,25.3V30.5M555.33,24.4V30.6M555.66,25.5V30.8M555.99,25.0V30.9M556.32,25.3V30.7M556.65,25.6V31.5M556.98,25.8V31.4M557.31,25.7V30.9M557.64,25.1V30.5M557.97,24.8V30.4M558.30,24.6V30.4M558.63,26.1V31.0M558.96,25.9V30.3M559.29,25.6V31.3M559.62,26.2V31.0M559.95,26.2V30.7M560.28,25.8V31.0M560.61,25.7V31.5M560.94,25.3V30.7M561.27,25.9V31.4M561.60,25.4V30.8M561.93,25.3V30.8M562.26,25.7V31.2M562.59,24.9V30.7M562.92,24.9V30.5M563.25,25.7V31.4M563.58,25.9V30.2M563.91,25.8V30.9M564.24,26.0V31.4M564.57,25.6V31.0M564.90,26.1V31.3M565.23,25.4V31.4M565.56,26.0V30.6M565.89,24.9V31.2M566.22,25.3V30.8M566.55,26.0V30.7M566.88,26.0V31.0M567.21,25.6V30.7M567.54,25.6V32.0M567.87,25.3V31.0M568.20,25.3V30.6M568.53,25.8V30.5M568.86,25.2V30.6M569.19,25.9V31.3M569.52,25.8V31.2M569.85,25.2V31.1M570.18,26.1V31.2M570.51,25.3V31.4M570.84,25.8V30.6M571.17,25.5V31.2M571.50,25.3V30.4M571.83,24.9V31.4M572.16,26.0V30.2M572.49,25.7V30.6M572.82,25.9V30.7" stroke="#000" stroke-width="0.6" fill="none"/>
<rect x="506.1" y="53.9" width="66.3" height="4.2" rx="1.5" fill="#000"/><path d="M505.50,53.7V59.5M505.83,53.2V59.6M506.16,50.5V58.9M506.49,53.2V59.5M506.82,53.2V58.7M507.15,49.1V58.9M507.48,52.6V61.0M507.81,52.6V58.3M508.14,53.2V59.6M508.47,52.5V58.8M508.80,53.7V59.1M509.13,52.5V59.5M509.46,53.2V58.9M509.79,53.1V60.0M510.12,52.7V58.7M510.45,52.3V59.2M510.78,53.5V59.2M511.11,53.5V58.8M511.44,53.1V59.2M511.77,53.7V58.8M512.10,52.4V59.2M512.43,53.7V58.5M512.76,52.8V58.6M513.09,52.9V58.2M513.42,53.6V60.1M513.75,52.8V58.7M514.08,53.2V58.6M514.41,49.0V58.4M514.74,52.5V59.1M515.07,52.9V59.2M515.40,52.4V58.5M515.73,52.7V59.6M516.06,52.3V58.4M516.39,52.2V59.6M516.72,53.3V58.8M517.05,53.3V59.2M517.38,52.9V58.8M517.71,49.7V58.8M518.04,52.6V58.9M518.37,52.9V58.6M518.70,53.3V58.7M519.03,49.8V58.2M519.36,53.3V58.1M519.69,53.3V59.0M520.02,52.5V59.0M520.35,52.4V59.6M520.68,53.2V59.0M521.01,52.7V59.0M521.34,53.1V59.0M521.67,53.3V59.3M522.00,53.6V58.6M522.33,53.5V58.5M522.66,53.3V59.2M522.99,53.3V59.0M523.32,49.2V58.8M523.65,53.1V58.5M523.98,53.7V59.1M524.31,52.6V59.0M524.64,51.7V59.5M524.97,53.6V58.7M525.30,52.7V58.7M525.63,53.1V59.1M525.96,53.4V58.8M526.29,53.3V59.5M526.62,52.2V58.5M526.95,53.3V59.7M527.28,53.3V59.8M527.61,52.3V60.8M527.94,53.6V60.4M528.27,49.0V59.0M528.60,53.0V59.2M528.93,52.6V59.1M529.26,52.7V59.6M529.59,53.0V58.5M529.92,52.7V59.6M530.25,53.5V59.7M530.58,53.1V58.8M530.91,52.4V59.0M531.24,52.9V58.9M531.57,52.8V61.5M531.90,52.9V59.7M532.23,52.9V59.1M532.56,53.3V58.9M532.89,52.9V59.0M533.22,53.3V59.1M533.55,53.2V58.3M533.88,53.2V59.0M534.21,53.0V58.9M534.54,52.9V58.9M534.87,49.6V59.4M535.20,52.6V59.0M535.53,53.8V58.7M535.86,53.4V58.9M536.19,50.2V58.8M536.52,50.7V58.5M536.85,52.2V59.3M537.18,53.0V59.2M537.51,52.3V58.7M537.84,52.9V58.6M538.17,53.2V58.6M538.50,53.6V58.6M538.83,52.9V58.6M539.16,53.6V59.1M539.49,53.3V59.3M539.82,53.5V58.6M540.15,53.2V58.6M540.48,53.2V59.2M540.81,52.9V59.0M541.14,52.5V58.7M541.47,53.2V58.6M541.80,50.2V59.5M542.13,53.2V58.2M542.46,53.2V58.5M542.79,53.8V58.5M543.12,52.4V58.4M543.45,52.7V59.4M543.78,52.2V59.2M544.11,53.4V58.2M544.44,53.4V59.6M544.77,53.4V59.2M545.10,53.0V58.9M545.43,52.9V59.4M545.76,49.7V59.3M546.09,53.7V58.6M546.42,52.5V59.0M546.75,49.4V59.1M547.08,52.6V59.3M547.41,52.5V58.3M547.74,52.9V58.9M548.07,52.5V59.5M548.40,53.4V58.8M548.73,53.3V59.6M549.06,48.7V59.4M549.39,53.3V58.9M549.72,52.1V59.7M550.05,52.2V58.8M550.38,53.5V58.6M550.71,53.1V59.0M551.04,53.2V59.1M551.37,52.7V58.5M551.70,53.1V58.5M552.03,49.7V58.5M552.36,53.5V58.3M552.69,50.7V59.4M553.02,52.9V58.2M553.35,52.9V58.4M553.68,52.6V58.6M554.01,53.1V59.0M554.34,52.7V58.6M554.67,53.0V58.9M555.00,52.3V58.9M555.33,52.9V59.4M555.66,53.0V59.0M555.99,53.0V58.6M556.32,53.4V58.9M556.65,53.3V58.4M556.98,53.3V59.0M557.31,52.1V59.4M557.64,53.2V58.9M557.97,53.1V58.7M558.30,52.4V58.2M558.63,52.9V58.3M558.96,53.8V59.2M559.29,53.3V58.9M559.62,51.0V59.1M559.95,53.5V58.8M560.28,53.0V58.6M560.61,52.5V58.4M560.94,52.7V58.6M561.27,53.0V59.0M561.60,53.2V58.9M561.93,53.6V59.4M562.26,53.1V58.9M562.59,53.8V59.1M562.92,52.4V58.4M563.25,53.1V58.8M563.58,49.6V59.2M563.91,53.5V58.8M564.24,52.9V58.5M564.57,52.9V58.4M564.90,53.0V58.7M565.23,52.7V58.7M565.56,53.3V59.5M565.89,53.3V59.1M566.22,53.3V59.1M566.55,53.2V59.5M566.88,53.3V59.4M567.21,52.8V59.4M567.54,52.6V59.4M567.87,53.2V59.0M568.20,52.8V58.4M568.53,53.1V61.0M568.86,49.4V58.2M569.19,53.3V58.7M569.52,53.0V58.4M569.85,53.1V59.0M570.18,53.4V59.4M570.51,52.8V58.8M570.84,52.5V58.7M571.17,53.4V60.8M571.50,53.3V59.2M571.83,52.4V58.9M572.16,53.0V59.2M572.49,52.9V59.2M572.82,53.3V58.6" stroke="#000" stroke-width="0.6" fill="none"/>
<rect x="506.1" y="81.1" width="66.3" height="4.2" rx="1.5" fill="#000"/><path d="M505.50,80.4V85.8M505.83,80.4V86.7M506.16,79.8V86.4M506.49,80.8V86.5M506.82,80.2V86.6M507.15,80.7V86.8M507.48,79.3V85.8M507.81,80.3V86.3M508.14,79.9V85.6M508.47,80.2V86.1M508.80,80.4V86.3M509.13,79.4V85.4M509.46,80.1V86.7M509.79,79.6V85.8M510.12,80.8V86.2M510.45,80.5V86.6M510.78,80.7V86.2M511.11,80.4V86.3M511.44,79.7V86.0M511.77,80.3V86.1M512.10,79.9V86.4M512.43,80.2V85.7M512.76,80.8V86.4M513.09,80.1V85.4M513.42,80.4V86.4M513.75,79.4V85.9M514.08,80.0V86.3M514.41,79.6V86.4M514.74,80.2V86.6M515.07,79.8V85.8M515.40,79.7V86.2M515.73,80.3V86.0M516.06,80.4V86.4M516.39,80.7V86.4M516.72,80.9V86.0M517.05,80.1V86.2M517.38,80.5V86.4M517.71,80.3V86.4M518.04,79.7V86.0M518.37,80.0V86.2M518.70,79.9V86.4M519.03,80.0V87.1M519.36,80.7V85.9M519.69,80.9V86.0M520.02,80.3V86.1M520.35,80.6V86.1M520.68,80.6V86.4M521.01,80.6V86.5M521.34,79.6V86.2M521.67,81.0V86.3M522.00,80.2V86.0M522.33,80.7V86.1M522.66,79.7V86.0M522.99,80.9V86.2M523.32,80.4V85.6M523.65,80.1V86.3M523.98,80.9V85.9M524.31,80.4V86.7M524.64,80.1V85.7M524.97,80.1V86.4M525.30,79.5V85.7M525.63,80.2V85.5M525.96,80.2V85.6M526.29,80.5V86.8M526.62,80.7V86.0M526.95,80.4V85.9M527.28,80.3V86.3M527.61,80.5V86.2M527.94,80.4V85.8M528.27,80.7V85.8M528.60,80.1V86.6M528.93,80.4V87.0M529.26,79.8V86.1M529.59,80.6V86.6M529.92,79.9V86.4M530.25,80.8V86.5M530.58,80.9V86.0M530.91,79.9V85.8M531.24,80.3V86.2M531.57,80.5V86.4M531.90,80.2V85.7M532.23,80.5V86.5M532.56,80.3V86.0M532.89,80.2V85.7M533.22,79.9V85.7M533.55,80.4V86.3M533.88,81.1V86.8M534.21,80.9V86.4M534.54,79.9V86.2M534.87,80.6V86.8M535.20,80.1V87.0M535.53,80.2V86.3M535.86,80.4V85.6M536.19,76.3V86.0M536.52,79.3V86.5M536.85,79.5V86.1M537.18,80.8V86.0M537.51,75.6V88.1M537.84,80.1V86.3M538.17,79.3V86.0M538.50,80.8V86.1M538.83,80.9V86.1M539.16,80.2V86.8M539.49,80.3V86.5M539.82,80.2V85.5M540.15,80.7V85.9M540.48,80.4V86.5M540.81,80.7V85.5M541.14,80.3V86.1M541.47,80.0V86.0M541.80,80.2V85.5M542.13,80.0V85.6M542.46,79.4V87.6M542.79,79.7V85.5M543.12,80.7V85.5M543.45,79.9V85.5M543.78,79.9V85.9M544.11,79.9V86.4M544.44,80.0V86.4M544.77,80.0V85.6M545.10,80.6V86.2M545.43,80.4V85.5M545.76,75.3V85.9M546.09,80.2V85.6M546.42,80.7V86.1M546.75,80.1V85.4M547.08,74.2V86.0M547.41,80.9V86.7M547.74,79.8V85.5M548.07,80.9V86.6M548.40,80.3V86.0M548.73,80.0V85.9M549.06,79.2V86.5M549.39,79.8V86.2M549.72,80.8V85.5M550.05,80.0V86.5M550.38,80.9V85.8M550.71,80.1V86.9M551.04,79.9V86.1M551.37,81.0V86.5M551.70,80.4V86.0M552.03,79.7V86.6M552.36,74.7V86.6M552.69,80.2V85.8M553.02,80.2V86.2M553.35,79.6V86.2M553.68,80.7V86.8M554.01,80.4V86.5M554.34,80.6V86.0M554.67,80.7V86.3M555.00,80.0V86.1M555.33,80.4V86.6M555.66,80.9V86.4M555.99,80.6V86.5M556.32,80.8V86.1M556.65,79.7V85.9M556.98,80.4V85.6M557.31,80.7V85.9M557.64,80.1V85.7M557.97,80.3V87.1M558.30,80.3V86.2M558.63,80.6V85.9M558.96,80.1V86.3M559.29,80.9V86.4M559.62,80.7V86.8M559.95,80.6V86.3M560.28,80.2V86.1M560.61,80.3V85.4M560.94,79.7V86.1M561.27,80.5V85.7M561.60,80.1V86.5M561.93,79.3V86.2M562.26,80.8V86.3M562.59,73.2V86.5M562.92,80.4V85.9M563.25,80.2V85.8M563.58,80.7V86.5M563.91,80.5V85.6M564.24,77.1V85.5M564.57,80.0V85.9M564.90,80.5V86.2M565.23,80.6V86.1M565.56,79.9V86.0M565.89,80.2V86.2M566.22,76.9V85.9M566.55,80.8V85.9M566.88,75.0V86.3M567.21,79.8V86.0M567.54,80.4V85.8M567.87,79.8V86.4M568.20,80.8V86.0M568.53,80.8V86.7M568.86,80.4V86.1M569.19,79.5V85.4M569.52,80.1V85.9M569.85,80.2V86.1M570.18,76.8V86.7M570.51,79.2V85.8M570.84,80.6V87.1M571.17,80.5V86.3M571.50,79.9V85.8M571.83,79.6V86.6M572.16,79.7V85.9M572.49,74.0V86.2M572.82,80.6V86.2" stroke="#000" stroke-width="0.6" fill="none"/>
<rect x="506.1" y="109.5" width="66.3" height="4.1" rx="1.5" fill="#000"/><path d="M505.50,107.0V114.7M505.83,109.2V114.1M506.16,109.3V114.2M506.49,108.9V113.9M506.82,106.8V113.6M507.15,109.2V114.4M507.48,108.7V114.4M507.81,108.8V114.0M508.14,108.7V113.8M508.47,108.4V114.8M508.80,108.7V114.2M509.13,108.6V114.1M509.46,109.0V114.5M509.79,108.2V114.7M510.12,108.4V113.6M510.45,109.1V114.5M510.78,109.2V114.3M511.11,109.1V114.3M511.44,109.1V114.5M511.77,108.0V114.8M512.10,108.5V114.4M512.43,108.5V114.0M512.76,108.6V114.8M513.09,108.0V114.8M513.42,109.0V115.1M513.75,108.6V114.2M514.08,108.6V114.2M514.41,108.8V114.5M514.74,108.2V114.8M515.07,109.1V114.7M515.40,108.9V113.7M515.73,108.5V114.3M516.06,108.9V115.0M516.39,109.3V114.5M516.72,108.9V114.3M517.05,108.2V114.5M517.38,108.1V114.4M517.71,109.4V114.2M518.04,108.9V114.5M518.37,108.6V114.4M518.70,108.8V114.2M519.03,108.2V113.7M519.36,108.4V115.2M519.69,108.8V114.3M520.02,108.8V113.9M520.35,108.3V114.7M520.68,108.6V113.8M521.01,109.0V114.6M521.34,108.7V114.1M521.67,109.3V114.1M522.00,109.4V114.5M522.33,108.9V113.7M522.66,109.4V114.1M522.99,109.2V114.5M523.32,108.4V114.5M523.65,108.9V114.5M523.98,108.3V113.9M524.31,108.6V114.6M524.64,108.6V114.1M524.97,108.3V114.5M525.30,108.9V114.3M525.63,109.2V114.8M525.96,109.0V114.8M526.29,109.3V114.3M526.62,108.4V115.0M526.95,109.2V114.4M527.28,108.7V114.3M527.61,109.0V114.1M527.94,109.1V114.1M528.27,108.9V114.5M528.60,108.6V114.2M528.93,108.4V114.3M529.26,109.1V114.3M529.59,108.7V114.5M529.92,108.3V114.5M530.25,108.1V114.0M530.58,108.5V114.6M530.91,109.2V114.1M531.24,108.9V113.8M531.57,108.0V114.0M531.90,108.6V114.2M532.23,109.0V114.5M532.56,108.6V114.1M532.89,109.1V113.7M533.22,109.1V114.3M533.55,108.3V114.3M533.88,108.3V113.8M534.21,108.5V114.1M534.54,108.6V113.8M534.87,109.0V114.2M535.20,109.3V113.6M535.53,108.4V114.2M535.86,109.2V113.7M536.19,109.0V114.0M536.52,108.3V114.0M536.85,109.0V113.7M537.18,108.1V113.8M537.51,108.2V114.2M537.84,108.2V113.7M538.17,108.3V114.5M538.50,109.2V115.1M538.83,108.2V114.5M539.16,108.3V114.4M539.49,108.4V114.5M539.82,108.8V114.9M540.15,108.6V114.4M540.48,108.3V113.6M540.81,108.6V114.0M541.14,109.1V114.3M541.47,108.9V114.2M541.80,109.2V113.7M542.13,108.3V113.8M542.46,108.7V113.8M542.79,106.4V114.3M543.12,108.9V114.1M543.45,108.5V114.2M543.78,108.7V114.7M544.11,108.5V114.2M544.44,108.5V114.5M544.77,108.6V113.6M545.10,108.6V114.5M545.43,109.2V114.7M545.76,109.1V114.3M546.09,108.9V114.9M546.42,108.7V114.4M546.75,108.9V113.9M547.08,108.7V114.3M547.41,108.9V114.6M547.74,108.9V114.9M548.07,109.1V114.7M548.40,109.0V114.8M548.73,109.2V114.8M549.06,108.2V114.5M549.39,108.3V114.2M549.72,109.2V114.3M550.05,107.1V114.0M550.38,108.3V114.1M550.71,108.2V114.2M551.04,108.9V115.0M551.37,106.5V113.9M551.70,109.4V114.2M552.03,109.0V114.0M552.36,108.9V114.4M552.69,108.3V114.3M553.02,108.7V114.5M553.35,109.0V113.5M553.68,109.1V114.6M554.01,109.0V114.5M554.34,108.5V113.6M554.67,108.6V114.6M555.00,108.3V114.5M555.33,108.8V114.2M555.66,108.4V115.2M555.99,108.6V114.0M556.32,108.3V114.2M556.65,109.4V114.2M556.98,109.0V114.3M557.31,109.0V114.3M557.64,109.3V115.1M557.97,109.0V114.9M558.30,108.0V114.1M558.63,108.6V114.3M558.96,109.2V114.6M559.29,108.7V114.4M559.62,109.1V114.2M559.95,108.3V114.1M560.28,109.1V114.3M560.61,108.9V113.9M560.94,109.1V114.4M561.27,108.7V114.1M561.60,108.2V114.0M561.93,109.2V114.5M562.26,108.9V114.3M562.59,108.9V114.4M562.92,108.1V114.4M563.25,108.7V114.0M563.58,108.6V113.9M563.91,108.2V113.8M564.24,108.9V114.4M564.57,108.6V113.6M564.90,108.4V114.4M565.23,108.3V114.5M565.56,109.2V113.9M565.89,109.0V114.2M566.22,108.7V114.4M566.55,108.8V114.4M566.88,109.3V114.6M567.21,108.8V114.2M567.54,108.1V114.5M567.87,108.4V115.1M568.20,109.3V114.1M568.53,108.7V114.5M568.86,108.9V113.8M569.19,108.2V114.1M569.52,108.3V114.6M569.85,108.9V113.8M570.18,108.0V114.0M570.51,108.9V114.2M570.84,108.9V114.7M571.17,108.5V114.4M571.50,108.5V114.2M571.83,108.8V114.0M572.16,108.9V114.4M572.49,109.3V114.4M572.82,108.7V114.3" stroke="#000" stroke-width="0.6" fill="none"/>
<rect x="506.1" y="139.5" width="66.3" height="5.0" rx="1.5" fill="#000"/><path d="M505.50,138.3V146.3M505.83,138.7V146.0M506.16,139.0V144.9M506.49,139.0V146.6M506.82,135.5V145.3M507.15,138.4V145.7M507.48,137.9V145.1M507.81,138.9V145.4M508.14,138.6V145.5M508.47,139.1V144.8M508.80,138.2V145.7M509.13,138.3V144.8M509.46,138.3V145.1M509.79,138.4V144.9M510.12,137.9V145.3M510.45,138.4V145.5M510.78,138.5V145.6M511.11,138.7V145.3M511.44,138.9V145.9M511.77,138.3V145.3M512.10,138.1V146.3M512.43,139.3V145.9M512.76,138.4V145.0M513.09,138.0V146.1M513.42,137.6V146.3M513.75,138.7V145.2M514.08,137.3V145.2M514.41,139.2V146.5M514.74,138.9V145.5M515.07,138.8V145.7M515.40,138.9V145.1M515.73,137.6V145.4M516.06,138.0V144.9M516.39,138.5V145.5M516.72,137.6V145.5M517.05,138.9V145.5M517.38,138.1V145.7M517.71,139.1V145.6M518.04,138.2V145.2M518.37,138.4V146.1M518.70,137.7V145.2M519.03,137.4V146.1M519.36,138.7V144.6M519.69,138.0V146.0M520.02,138.8V146.2M520.35,138.6V145.6M520.68,137.8V144.8M521.01,137.7V145.1M521.34,138.2V146.7M521.67,137.9V146.1M522.00,138.9V145.5M522.33,138.9V145.0M522.66,138.5V144.6M522.99,137.3V145.8M523.32,137.3V145.1M523.65,137.5V145.2M523.98,138.0V145.6M524.31,138.1V145.2M524.64,138.9V145.3M524.97,138.2V144.9M525.30,138.0V145.7M525.63,138.8V146.5M525.96,138.7V145.8M526.29,138.9V144.7M526.62,139.3V145.7M526.95,137.8V145.4M527.28,138.3V145.5M527.61,138.5V145.1M527.94,138.3V145.4M528.27,138.7V145.3M528.60,139.3V146.4M528.93,139.3V144.5M529.26,139.4V144.9M529.59,138.6V145.3M529.92,138.1V145.2M530.25,138.8V145.9M530.58,138.6V145.6M530.91,138.9V145.4M531.24,138.9V144.7M531.57,137.8V145.9M531.90,138.5V145.1M532.23,138.7V146.5M532.56,138.5V145.2M532.89,138.6V145.9M533.22,138.9V144.8M533.55,138.3V144.9M533.88,137.9V145.8M534.21,138.9V145.6M534.54,138.1V145.7M534.87,139.1V146.1M535.20,138.0V145.9M535.53,138.6V145.8M535.86,138.0V145.0M536.19,138.1V146.2M536.52,138.3V145.8M536.85,138.7V146.2M537.18,138.7V145.4M537.51,138.3V144.6M537.84,139.1V146.0M538.17,138.8V145.7M538.50,138.6V146.1M538.83,136.6V146.0M539.16,139.0V145.9M539.49,138.2V146.2M539.82,139.1V145.1M540.15,138.3V145.0M540.48,138.5V145.3M540.81,138.0V144.6M541.14,138.6V145.6M541.47,138.8V144.7M541.80,139.1V145.3M542.13,137.8V146.3M542.46,138.8V146.2M542.79,138.2V145.2M543.12,137.7V146.0M543.45,138.7V145.7M543.78,139.1V145.5M544.11,138.7V147.2M544.44,138.2V145.6M544.77,139.0V145.7M545.10,139.0V145.4M545.43,138.7V146.4M545.76,139.1V145.0M546.09,138.1V145.4M546.42,139.2V145.5M546.75,137.5V146.4M547.08,139.3V144.7M547.41,139.2V145.6M547.74,138.7V145.1M548.07,138.2V145.8M548.40,138.0V144.7M548.73,138.1V145.2M549.06,137.7V145.7M549.39,138.8V145.1M549.72,138.7V144.8M550.05,139.0V146.3M550.38,138.2V145.6M550.71,137.8V145.4M551.04,138.1V145.8M551.37,138.0V146.1M551.70,138.6V145.0M552.03,139.2V146.6M552.36,137.8V146.0M552.69,138.3V144.9M553.02,138.6V144.9M553.35,139.1V145.1M553.68,138.8V144.9M554.01,138.8V144.8M554.34,138.9V146.1M554.67,137.6V145.7M555.00,139.3V144.9M555.33,138.3V145.4M555.66,138.4V145.8M555.99,138.4V144.9M556.32,138.8V145.3M556.65,138.5V146.6M556.98,138.5V146.1M557.31,138.3V146.3M557.64,137.8V145.3M557.97,138.8V145.3M558.30,138.2V145.7M558.63,137.8V145.3M558.96,138.8V146.5M559.29,138.2V146.6M559.62,138.0V145.3M559.95,138.4V145.6M560.28,138.7V144.9M560.61,137.8V145.3M560.94,138.6V146.1M561.27,138.5V144.9M561.60,137.9V145.9M561.93,138.8V145.9M562.26,138.8V145.3M562.59,138.2V145.5M562.92,139.3V145.2M563.25,138.0V144.7M563.58,138.6V145.9M563.91,138.2V144.7M564.24,138.5V145.3M564.57,137.7V145.4M564.90,138.3V145.8M565.23,137.9V145.4M565.56,139.0V145.3M565.89,138.3V145.5M566.22,137.7V145.9M566.55,139.2V144.6M566.88,138.7V145.3M567.21,138.9V145.5M567.54,138.9V145.2M567.87,137.5V146.3M568.20,139.1V146.7M568.53,138.5V145.3M568.86,137.9V146.0M569.19,139.2V146.1M569.52,138.3V146.3M569.85,139.3V145.8M570.18,138.5V145.6M570.51,139.0V145.2M570.84,139.1V145.4M571.17,138.5V145.8M571.50,138.2V144.6M571.83,138.9V145.2M572.16,138.8V145.6M572.49,138.4V145.5M572.82,138.1V145.8" stroke="#000" stroke-width="0.6" fill="none"/>
<rect x="506.1" y="168.5" width="66.3" height="5.0" rx="1.5" fill="#000"/><path d="M505.50,168.0V174.3M505.83,167.1V174.9M506.16,166.9V173.9M506.49,167.8V174.9M506.82,167.4V175.0M507.15,167.1V173.9M507.48,167.0V175.2M507.81,168.0V173.5M508.14,167.7V174.1M508.47,167.3V174.2M508.80,167.7V175.5M509.13,166.6V174.8M509.46,167.7V174.1M509.79,168.1V175.2M510.12,168.0V174.0M510.45,167.2V174.3M510.78,167.2V173.7M511.11,167.5V174.9M511.44,168.1V174.0M511.77,167.9V174.3M512.10,167.8V174.4M512.43,167.7V173.6M512.76,166.9V173.9M513.09,167.1V174.7M513.42,168.4V174.4M513.75,167.0V175.1M514.08,166.3V174.5M514.41,168.0V174.6M514.74,168.4V174.6M515.07,167.7V174.9M515.40,167.4V174.7M515.73,168.3V174.3M516.06,167.8V174.6M516.39,167.7V174.5M516.72,168.0V175.0M517.05,167.2V173.9M517.38,168.4V174.4M517.71,168.0V175.5M518.04,168.2V174.7M518.37,167.0V174.8M518.70,166.9V173.9M519.03,167.4V174.9M519.36,167.8V174.2M519.69,166.4V173.6M520.02,168.1V175.3M520.35,168.1V174.3M520.68,167.5V173.9M521.01,166.5V173.7M521.34,167.3V174.8M521.67,166.6V174.9M522.00,167.3V174.5M522.33,167.5V174.4M522.66,167.3V175.1M522.99,167.1V173.9M523.32,166.9V174.1M523.65,167.1V174.8M523.98,167.8V175.4M524.31,167.1V174.6M524.64,168.0V174.5M524.97,159.0V175.1M525.30,168.4V175.3M525.63,168.2V175.3M525.96,167.2V174.2M526.29,167.4V174.2M526.62,168.0V174.1M526.95,158.2V173.9M527.28,160.9V174.0M527.61,168.0V173.7M527.94,167.2V175.6M528.27,167.9V175.0M528.60,167.6V175.4M528.93,159.3V173.9M529.26,167.1V177.1M529.59,167.2V174.2M529.92,166.9V175.2M530.25,166.8V174.1M530.58,167.9V175.1M530.91,167.2V174.4M531.24,166.5V177.4M531.57,166.5V173.7M531.90,167.4V176.9M532.23,167.4V173.7M532.56,167.2V174.6M532.89,167.6V174.5M533.22,167.9V174.6M533.55,168.1V174.0M533.88,166.8V174.1M534.21,167.9V175.2M534.54,167.1V174.8M534.87,167.7V174.1M535.20,168.0V178.1M535.53,167.0V173.9M535.86,167.2V174.4M536.19,168.3V173.8M536.52,167.3V174.8M536.85,168.2V174.6M537.18,167.1V175.6M537.51,161.2V174.3M537.84,167.2V175.6M538.17,160.0V175.2M538.50,168.1V174.2M538.83,168.0V174.7M539.16,167.6V174.6M539.49,166.9V174.4M539.82,167.5V174.8M540.15,168.0V174.6M540.48,166.5V174.5M540.81,167.1V175.2M541.14,167.3V174.9M541.47,167.4V175.2M541.80,167.3V173.9M542.13,167.8V175.0M542.46,167.1V173.8M542.79,162.1V174.5M543.12,167.9V174.0M543.45,167.5V173.7M543.78,167.3V174.5M544.11,167.2V174.3M544.44,167.9V174.8M544.77,167.9V174.7M545.10,167.2V174.4M545.43,167.2V174.8M545.76,167.5V174.5M546.09,167.0V174.6M546.42,167.1V175.2M546.75,167.7V174.4M547.08,161.4V174.5M547.41,167.9V174.1M547.74,167.4V174.3M548.07,168.1V174.5M548.40,166.5V174.4M548.73,168.0V174.2M549.06,167.1V175.2M549.39,167.1V179.2M549.72,167.8V174.4M550.05,167.4V174.8M550.38,167.4V174.2M550.71,168.0V174.3M551.04,167.8V175.2M551.37,167.8V173.6M551.70,167.6V173.6M552.03,167.6V174.3M552.36,168.0V174.0M552.69,167.5V174.1M553.02,160.4V174.9M553.35,159.0V174.8M553.68,166.4V174.4M554.01,168.0V173.9M554.34,167.4V174.4M554.67,166.5V173.9M555.00,167.1V173.7M555.33,167.4V174.4M555.66,166.9V174.3M555.99,167.4V174.1M556.32,167.2V177.0M556.65,167.5V174.2M556.98,167.5V174.6M557.31,159.8V174.5M557.64,166.5V174.3M557.97,167.9V174.9M558.30,160.1V174.1M558.63,168.0V173.9M558.96,168.0V175.3M559.29,167.2V175.0M559.62,167.1V178.7M559.95,167.0V174.7M560.28,168.4V173.8M560.61,166.9V174.9M560.94,167.5V175.0M561.27,167.9V174.0M561.60,167.3V175.3M561.93,166.9V174.2M562.26,167.4V174.9M562.59,167.9V174.9M562.92,168.0V174.0M563.25,167.7V178.5M563.58,166.6V174.7M563.91,168.3V174.3M564.24,168.2V178.1M564.57,167.8V174.2M564.90,167.6V174.8M565.23,167.4V175.1M565.56,163.0V174.3M565.89,167.8V174.4M566.22,167.3V175.5M566.55,167.6V174.2M566.88,167.5V173.6M567.21,167.1V173.8M567.54,167.1V174.5M567.87,168.2V174.9M568.20,167.9V176.8M568.53,168.3V174.3M568.86,163.2V175.1M569.19,168.1V175.3M569.52,167.5V174.4M569.85,167.7V174.8M570.18,167.6V174.8M570.51,161.6V174.1M570.84,168.0V175.1M571.17,167.9V174.7M571.50,168.0V174.3M571.83,167.1V175.0M572.16,168.0V175.0M572.49,166.6V174.2M572.82,166.5V175.7" stroke="#000" stroke-width="0.6" fill="none"/>
<rect x="615.6" y="21.9" width="66.8" height="11.2" rx="1.5" fill="#000"/><path d="M615.00,20.4V35.8M615.30,21.3V37.8M615.60,20.7V38.3M615.90,18.7V36.9M616.20,21.0V35.2M616.50,20.8V37.6M616.80,19.2V38.1M617.10,17.3V35.3M617.40,17.6V37.2M617.70,18.9V39.0M618.00,16.4V39.8M618.30,19.6V37.6M618.60,21.0V37.6M618.90,20.3V36.1M619.20,19.0V35.2M619.50,16.7V38.0M619.80,19.2V35.5M620.10,16.6V36.6M620.40,20.5V36.1M620.70,15.3V36.8M621.00,20.2V35.7M621.30,15.4V39.4M621.60,19.0V34.8M621.90,18.3V34.8M622.20,19.2V36.8M622.50,19.2V35.0M622.80,21.1V34.4M623.10,15.2V34.5M623.40,20.1V34.7M623.70,19.2V38.0M624.00,19.5V36.8M624.30,20.6V38.3M624.60,20.9V37.8M624.90,16.1V37.6M625.20,20.3V37.5M625.50,19.8V34.6M625.80,19.2V35.7M626.10,17.9V35.7M626.40,17.9V37.3M626.70,16.3V35.4M627.00,18.9V39.4M627.30,16.3V35.5M627.60,19.5V37.7M627.90,17.3V36.9M628.20,17.9V35.5M628.50,19.3V34.5M628.80,19.7V34.4M629.10,19.9V38.4M629.40,18.4V35.2M629.70,21.1V39.4M630.00,19.8V38.3M630.30,17.4V36.2M630.60,20.8V36.0M630.90,20.8V35.7M631.20,21.3V36.1M631.50,17.7V36.2M631.80,19.8V33.9M632.10,19.3V33.2M632.40,20.2V36.4M632.70,19.6V36.1M633.00,17.0V37.3M633.30,20.7V37.5M633.60,18.1V35.5M633.90,18.0V36.9M634.20,19.2V36.2M634.50,15.7V38.0M634.80,19.7V37.4M635.10,19.8V34.6M635.40,20.4V37.0M635.70,19.2V38.2M636.00,18.6V36.7M636.30,20.6V37.9M636.60,16.8V34.6M636.90,20.7V35.7M637.20,20.7V36.8M637.50,17.3V36.3M637.80,19.6V38.5M638.10,20.1V36.9M638.40,16.2V36.4M638.70,18.9V38.0M639.00,21.0V37.1M639.30,18.5V35.8M639.60,20.0V36.0M639.90,19.3V33.6M640.20,20.8V34.8M640.50,18.6V39.3M640.80,18.2V34.0M641.10,17.9V35.5M641.40,20.3V34.9M641.70,18.4V36.7M642.00,17.4V38.7M642.30,18.9V37.8M642.60,16.1V35.8M642.90,18.7V33.9M643.20,19.6V34.5M643.50,18.8V34.2M643.80,19.8V38.9M644.10,19.5V40.4M644.40,19.9V35.0M644.70,19.9V35.0M645.00,19.2V35.9M645.30,15.6V37.8M645.60,20.9V39.3M645.90,18.2V34.8M646.20,14.7V39.5M646.50,19.1V34.9M646.80,17.9V39.4M647.10,18.3V38.8M647.40,21.0V35.1M647.70,17.3V38.8M648.00,18.9V35.1M648.30,17.1V35.3M648.60,20.4V34.0M648.90,20.2V35.3M649.20,19.4V38.4M649.50,16.8V37.0M649.80,19.2V37.3M650.10,18.1V36.2M650.40,17.4V35.3M650.70,17.2V40.0M651.00,16.3V34.5M651.30,18.1V38.1M651.60,17.7V36.5M651.90,18.0V38.6M652.20,19.8V33.3M652.50,20.2V34.5M652.80,20.3V37.2M653.10,18.4V38.5M653.40,18.6V36.9M653.70,19.2V38.5M654.00,20.6V34.8M654.30,18.3V35.0M654.60,19.3V36.0M654.90,16.4V36.9M655.20,15.7V37.4M655.50,16.5V39.4M655.80,15.2V39.2M656.10,20.1V34.6M656.40,17.5V39.7M656.70,20.3V38.7M657.00,20.5V35.1M657.30,18.1V35.6M657.60,19.6V36.3M657.90,15.7V37.8M658.20,16.1V35.8M658.50,19.2V34.8M658.80,17.1V33.8M659.10,18.1V34.5M659.40,17.8V34.8M659.70,19.3V38.7M660.00,18.0V35.7M660.30,18.6V38.2M660.60,16.6V34.9M660.90,18.8V36.2M661.20,20.1V35.0M661.50,20.5V34.6M661.80,20.9V38.4M662.10,16.1V38.5M662.40,19.3V34.2M662.70,17.8V35.1M663.00,15.7V35.7M663.30,17.4V38.2M663.60,18.2V36.1M663.90,20.6V35.4M664.20,18.7V34.0M664.50,17.0V36.8M664.80,17.5V35.7M665.10,19.2V36.8M665.40,19.5V35.7M665.70,19.7V34.8M666.00,16.3V35.4M666.30,21.5V34.0M666.60,17.7V37.1M666.90,19.8V34.3M667.20,20.4V36.2M667.50,18.4V37.6M667.80,20.3V37.7M668.10,19.1V35.5M668.40,17.5V35.7M668.70,21.0V34.3M669.00,18.0V38.1M669.30,18.6V36.0M669.60,17.7V39.0M669.90,20.3V35.5M670.20,20.1V34.0M670.50,19.5V38.7M670.80,18.4V36.2M671.10,17.3V35.2M671.40,19.3V34.6M671.70,21.2V33.7M672.00,15.5V38.5M672.30,20.4V34.2M672.60,20.6V36.2M672.90,20.7V36.2M673.20,17.6V37.5M673.50,17.9V35.0M673.80,17.4V36.1M674.10,20.6V39.5M674.40,17.6V35.9M674.70,18.2V38.7M675.00,21.0V35.4M675.30,17.1V35.6M675.60,21.0V36.3M675.90,18.3V37.0M676.20,19.8V36.7M676.50,19.4V35.2M676.80,20.8V39.1M677.10,19.8V37.1M677.40,17.4V33.9M677.70,17.2V34.3M678.00,20.5V35.2M678.30,20.3V39.0M678.60,20.6V38.8M678.90,19.9V39.2M679.20,17.9V34.9M679.50,21.3V35.1M679.80,19.7V34.5M680.10,17.9V36.9M680.40,20.1V39.6M680.70,17.6V37.4M681.00,17.3V35.4M681.30,18.5V35.5M681.60,17.4V37.8M681.90,19.1V39.7M682.20,15.9V34.9M682.50,19.0V35.9M682.80,15.4V35.2" stroke="#000" stroke-width="0.8" fill="none"/>
<rect x="615.6" y="51.1" width="66.8" height="8.7" rx="1.5" fill="#000"/><path d="M615.00,49.2V63.3M615.30,49.7V61.9M615.60,49.9V60.8M615.90,44.1V61.3M616.20,50.3V64.3M616.50,41.4V61.7M616.80,46.4V62.3M617.10,47.0V63.2M617.40,50.0V63.4M617.70,48.3V65.7M618.00,49.3V62.2M618.30,49.1V60.7M618.60,48.1V62.2M618.90,50.5V63.3M619.20,48.9V60.5M619.50,45.3V61.5M619.80,49.7V62.3M620.10,48.6V62.1M620.40,49.8V61.2M620.70,43.2V61.3M621.00,49.3V65.3M621.30,48.7V61.3M621.60,50.0V61.8M621.90,48.8V63.5M622.20,49.0V62.3M622.50,48.9V60.7M622.80,48.0V62.0M623.10,48.7V62.9M623.40,47.9V61.0M623.70,49.6V60.9M624.00,46.5V62.1M624.30,47.9V64.0M624.60,50.0V63.9M624.90,49.3V62.4M625.20,48.5V62.0M625.50,48.1V61.7M625.80,48.9V60.1M626.10,48.7V61.9M626.40,43.2V63.2M626.70,50.0V61.4M627.00,48.6V62.3M627.30,46.0V60.5M627.60,47.7V61.1M627.90,49.2V60.4M628.20,49.4V62.6M628.50,50.6V61.0M628.80,49.3V60.5M629.10,48.9V62.2M629.40,47.0V61.9M629.70,49.1V61.3M630.00,43.0V61.2M630.30,43.8V62.0M630.60,50.8V62.1M630.90,46.4V61.8M631.20,47.9V60.9M631.50,50.2V62.1M631.80,47.8V60.9M632.10,48.2V63.3M632.40,50.6V63.3M632.70,48.3V61.8M633.00,48.6V62.7M633.30,49.4V62.6M633.60,47.4V63.9M633.90,49.0V64.2M634.20,50.7V64.0M634.50,45.0V62.8M634.80,48.9V61.8M635.10,44.3V64.8M635.40,49.1V60.3M635.70,49.2V65.1M636.00,44.4V61.5M636.30,50.0V62.7M636.60,46.9V61.6M636.90,46.2V60.3M637.20,49.5V61.6M637.50,50.4V64.0M637.80,49.2V60.9M638.10,48.2V63.1M638.40,50.7V62.9M638.70,47.9V63.4M639.00,49.5V60.8M639.30,47.9V61.8M639.60,48.3V63.4M639.90,50.9V64.1M640.20,48.8V63.2M640.50,50.4V61.4M640.80,50.3V61.9M641.10,48.5V61.9M641.40,50.4V62.6M641.70,49.2V64.2M642.00,48.3V61.3M642.30,49.0V60.2M642.60,47.4V62.3M642.90,50.9V61.6M643.20,45.6V63.1M643.50,47.7V61.9M643.80,44.1V62.9M644.10,49.2V61.2M644.40,50.7V60.9M644.70,49.5V61.6M645.00,49.1V61.9M645.30,50.2V61.3M645.60,43.6V62.3M645.90,46.9V61.2M646.20,48.5V60.5M646.50,47.1V61.4M646.80,49.2V62.6M647.10,49.7V63.5M647.40,50.4V61.8M647.70,49.8V62.4M648.00,50.1V63.1M648.30,47.1V62.3M648.60,48.7V60.8M648.90,45.1V61.6M649.20,49.4V64.3M649.50,47.9V60.5M649.80,48.5V61.8M650.10,45.8V63.3M650.40,49.0V63.4M650.70,50.2V60.8M651.00,47.8V60.4M651.30,50.0V61.8M651.60,49.1V61.4M651.90,48.8V61.5M652.20,50.3V63.8M652.50,50.3V62.5M652.80,48.0V60.6M653.10,47.5V62.0M653.40,49.2V64.5M653.70,49.7V62.7M654.00,47.5V64.2M654.30,48.2V61.2M654.60,49.0V63.8M654.90,49.4V61.5M655.20,47.5V62.4M655.50,48.3V63.5M655.80,42.8V62.4M656.10,50.5V62.3M656.40,50.9V60.8M656.70,48.7V61.1M657.00,40.9V61.9M657.30,49.9V62.5M657.60,43.0V62.7M657.90,44.4V63.4M658.20,46.6V60.6M658.50,49.4V62.2M658.80,50.2V62.7M659.10,48.7V62.3M659.40,50.4V62.2M659.70,48.4V61.3M660.00,49.2V65.1M660.30,49.2V61.1M660.60,48.3V63.1M660.90,49.5V64.9M661.20,49.0V63.3M661.50,47.8V62.0M661.80,48.6V63.0M662.10,48.8V62.4M662.40,49.3V64.8M662.70,43.4V61.0M663.00,48.9V60.8M663.30,48.6V60.2M663.60,48.8V61.0M663.90,50.3V62.6M664.20,50.6V63.3M664.50,48.9V63.7M664.80,47.6V60.2M665.10,47.8V60.4M665.40,43.8V62.5M665.70,48.4V62.9M666.00,49.7V62.6M666.30,48.8V60.9M666.60,47.9V61.5M666.90,46.6V62.7M667.20,46.4V61.8M667.50,43.3V63.5M667.80,49.7V64.3M668.10,43.3V63.4M668.40,47.4V62.3M668.70,41.8V63.3M669.00,48.2V61.6M669.30,47.6V63.7M669.60,50.0V62.5M669.90,49.9V61.5M670.20,48.5V63.3M670.50,47.8V61.8M670.80,50.1V60.9M671.10,50.0V62.6M671.40,49.0V64.5M671.70,47.2V61.2M672.00,48.6V62.4M672.30,51.0V62.3M672.60,49.1V61.2M672.90,42.3V63.8M673.20,48.9V65.6M673.50,48.4V61.8M673.80,41.9V64.3M674.10,50.3V62.3M674.40,48.2V63.2M674.70,42.5V63.0M675.00,49.6V60.7M675.30,46.0V61.7M675.60,47.4V61.4M675.90,47.7V61.2M676.20,47.9V63.9M676.50,48.9V61.2M676.80,50.4V66.2M677.10,48.8V63.9M677.40,49.1V61.4M677.70,42.7V65.8M678.00,48.8V62.6M678.30,48.9V61.8M678.60,49.7V65.0M678.90,50.4V64.1M679.20,49.2V61.0M679.50,50.9V60.9M679.80,48.3V60.2M680.10,49.3V61.0M680.40,49.8V64.2M680.70,48.5V66.4M681.00,49.2V61.8M681.30,48.5V64.3M681.60,50.0V62.6M681.90,49.1V65.1M682.20,47.5V63.0M682.50,47.1V61.9M682.80,50.2V63.0" stroke="#000" stroke-width="0.8" fill="none"/>
<rect x="615.6" y="78.0" width="66.8" height="14.0" rx="1.5" fill="#000"/><path d="M615.00,73.5V93.7M615.30,77.8V95.4M615.60,74.8V93.9M615.90,73.8V97.7M616.20,75.5V94.2M616.50,75.7V98.3M616.80,74.6V93.0M617.10,77.3V97.7M617.40,72.8V95.6M617.70,74.9V94.2M618.00,76.5V95.3M618.30,75.6V98.2M618.60,73.4V94.5M618.90,76.2V93.9M619.20,72.6V93.2M619.50,73.7V94.6M619.80,75.9V95.2M620.10,77.1V95.3M620.40,73.0V93.9M620.70,74.1V94.5M621.00,74.8V94.0M621.30,77.4V92.3M621.60,74.3V92.9M621.90,74.4V94.5M622.20,76.2V93.3M622.50,75.5V94.5M622.80,73.6V94.1M623.10,72.4V96.0M623.40,75.4V93.4M623.70,75.6V95.2M624.00,75.8V95.9M624.30,75.6V94.4M624.60,74.8V95.2M624.90,74.6V95.3M625.20,73.4V98.0M625.50,74.7V94.0M625.80,76.1V96.4M626.10,75.4V93.9M626.40,76.8V93.7M626.70,75.1V94.2M627.00,74.8V96.1M627.30,74.7V95.3M627.60,73.3V93.8M627.90,73.1V96.4M628.20,76.7V93.8M628.50,73.0V93.0M628.80,73.8V96.9M629.10,75.6V95.2M629.40,75.9V94.6M629.70,76.0V92.8M630.00,73.3V95.2M630.30,75.2V93.4M630.60,73.7V95.0M630.90,73.3V96.6M631.20,73.2V92.6M631.50,74.1V94.2M631.80,76.3V94.1M632.10,75.6V97.2M632.40,76.2V96.6M632.70,72.3V97.7M633.00,73.4V95.9M633.30,75.9V95.6M633.60,76.5V94.5M633.90,77.1V98.1M634.20,76.3V92.7M634.50,76.3V95.1M634.80,73.6V96.6M635.10,75.6V94.2M635.40,75.4V96.4M635.70,76.7V93.3M636.00,76.2V96.8M636.30,74.4V95.5M636.60,72.9V94.7M636.90,73.1V93.2M637.20,76.0V94.8M637.50,72.4V92.4M637.80,75.3V94.5M638.10,72.9V93.2M638.40,74.6V96.9M638.70,77.6V96.8M639.00,76.7V93.5M639.30,72.9V97.0M639.60,73.8V93.8M639.90,72.3V94.4M640.20,74.5V94.3M640.50,74.8V92.7M640.80,75.0V97.0M641.10,75.2V94.0M641.40,74.7V94.4M641.70,73.2V97.3M642.00,75.9V94.7M642.30,75.5V96.1M642.60,75.0V94.0M642.90,74.8V96.2M643.20,75.0V94.2M643.50,73.6V94.5M643.80,73.9V94.1M644.10,75.5V94.9M644.40,73.2V93.7M644.70,74.9V95.2M645.00,73.8V94.7M645.30,74.3V96.7M645.60,73.4V94.0M645.90,74.1V95.4M646.20,76.2V93.6M646.50,73.8V94.0M646.80,76.4V97.4M647.10,71.5V96.8M647.40,74.6V95.4M647.70,74.4V92.5M648.00,72.3V95.0M648.30,77.7V97.1M648.60,76.0V96.9M648.90,76.2V92.6M649.20,74.9V94.0M649.50,72.9V95.4M649.80,74.3V95.0M650.10,72.2V94.1M650.40,73.4V95.0M650.70,76.8V97.1M651.00,73.2V93.2M651.30,76.6V95.9M651.60,74.1V97.4M651.90,75.5V92.7M652.20,74.6V95.7M652.50,75.0V93.4M652.80,77.1V95.2M653.10,72.3V95.6M653.40,74.8V96.1M653.70,73.6V94.9M654.00,75.7V93.6M654.30,73.6V95.4M654.60,74.8V96.3M654.90,75.2V94.5M655.20,73.3V95.0M655.50,76.2V93.7M655.80,73.7V97.4M656.10,74.3V98.4M656.40,76.8V92.9M656.70,73.9V96.3M657.00,74.1V95.9M657.30,74.3V96.3M657.60,77.0V96.8M657.90,76.0V97.2M658.20,75.0V96.2M658.50,74.7V97.9M658.80,75.9V96.8M659.10,75.1V92.1M659.40,74.5V93.2M659.70,73.2V96.8M660.00,75.9V94.9M660.30,73.7V95.3M660.60,75.8V96.6M660.90,76.4V96.6M661.20,75.9V94.4M661.50,74.1V96.2M661.80,75.8V95.3M662.10,74.0V94.6M662.40,74.8V94.6M662.70,74.5V95.8M663.00,75.3V93.4M663.30,76.5V95.0M663.60,75.9V94.1M663.90,75.4V94.0M664.20,74.9V96.7M664.50,74.3V95.0M664.80,74.3V97.9M665.10,74.7V97.0M665.40,72.9V94.6M665.70,76.6V94.5M666.00,76.3V95.9M666.30,74.0V94.3M666.60,75.9V93.6M666.90,76.0V94.9M667.20,76.4V96.0M667.50,75.1V92.6M667.80,74.1V94.9M668.10,75.1V97.4M668.40,76.0V96.0M668.70,73.1V93.6M669.00,73.1V95.7M669.30,75.0V96.0M669.60,74.3V95.7M669.90,72.9V95.0M670.20,76.7V92.6M670.50,72.5V97.9M670.80,77.1V94.7M671.10,74.6V96.5M671.40,75.3V98.4M671.70,76.1V94.3M672.00,76.9V96.1M672.30,74.2V96.6M672.60,76.0V95.7M672.90,75.5V94.9M673.20,73.2V95.8M673.50,76.3V96.1M673.80,74.4V96.0M674.10,73.5V92.7M674.40,73.3V97.6M674.70,74.8V93.9M675.00,77.7V92.4M675.30,76.0V97.7M675.60,75.8V95.3M675.90,75.9V94.4M676.20,77.0V93.1M676.50,72.2V94.6M676.80,77.4V95.4M677.10,77.0V97.8M677.40,75.9V95.8M677.70,76.2V97.0M678.00,77.1V95.1M678.30,74.0V94.9M678.60,75.1V93.0M678.90,74.4V94.3M679.20,74.6V94.3M679.50,76.2V95.5M679.80,73.6V94.9M680.10,73.9V92.9M680.40,73.4V94.9M680.70,77.5V94.2M681.00,73.3V96.6M681.30,71.6V98.9M681.60,74.5V95.7M681.90,74.9V98.0M682.20,76.3V95.9M682.50,76.6V98.4M682.80,73.3V96.1" stroke="#000" stroke-width="0.8" fill="none"/>
<rect x="615.6" y="109.6" width="66.8" height="9.8" rx="1.5" fill="#000"/><path d="M615.00,109.2V121.4M615.30,106.1V124.4M615.60,106.5V120.9M615.90,103.7V124.1M616.20,107.6V121.8M616.50,106.2V122.5M616.80,106.1V124.2M617.10,107.5V121.2M617.40,108.3V121.7M617.70,103.1V122.7M618.00,104.2V121.9M618.30,107.6V121.3M618.60,103.5V120.8M618.90,104.1V121.9M619.20,107.2V124.2M619.50,107.2V124.3M619.80,106.7V122.0M620.10,109.2V120.0M620.40,103.6V123.5M620.70,104.9V123.8M621.00,103.4V121.4M621.30,104.9V122.0M621.60,104.9V120.7M621.90,108.5V120.5M622.20,109.0V124.9M622.50,104.7V121.9M622.80,107.9V122.6M623.10,108.2V120.1M623.40,105.5V122.0M623.70,107.7V122.4M624.00,105.5V121.7M624.30,107.7V123.9M624.60,107.6V121.4M624.90,105.4V120.8M625.20,104.4V127.4M625.50,103.4V120.5M625.80,108.6V125.9M626.10,103.4V121.4M626.40,107.0V125.8M626.70,107.6V123.4M627.00,103.7V123.2M627.30,106.8V120.4M627.60,107.4V124.8M627.90,109.2V121.9M628.20,106.5V124.2M628.50,107.7V122.5M628.80,102.5V121.6M629.10,108.5V120.2M629.40,107.3V120.9M629.70,108.4V122.6M630.00,108.1V123.7M630.30,106.7V121.4M630.60,104.9V123.5M630.90,109.4V119.9M631.20,104.1V120.2M631.50,103.2V120.7M631.80,108.5V120.8M632.10,105.3V120.6M632.40,107.8V120.7M632.70,104.4V124.3M633.00,104.7V125.7M633.30,106.7V121.6M633.60,107.7V121.0M633.90,108.6V121.2M634.20,104.6V124.9M634.50,109.5V124.7M634.80,104.7V126.2M635.10,104.2V123.2M635.40,105.7V120.6M635.70,105.0V121.0M636.00,107.3V123.2M636.30,108.5V122.5M636.60,107.9V121.9M636.90,103.0V124.5M637.20,109.0V123.0M637.50,104.1V124.3M637.80,105.7V122.0M638.10,106.0V122.9M638.40,109.4V126.0M638.70,108.4V123.3M639.00,104.6V123.0M639.30,107.3V122.8M639.60,106.1V120.7M639.90,105.0V120.5M640.20,108.0V121.3M640.50,107.5V124.2M640.80,106.8V125.3M641.10,107.4V121.9M641.40,109.2V121.0M641.70,106.9V121.5M642.00,105.1V121.9M642.30,108.4V124.9M642.60,108.2V121.7M642.90,107.1V123.0M643.20,107.3V123.1M643.50,108.0V121.4M643.80,104.3V121.1M644.10,109.5V125.8M644.40,105.5V125.6M644.70,108.5V123.7M645.00,105.3V122.3M645.30,103.2V123.0M645.60,103.3V121.6M645.90,106.0V122.8M646.20,104.0V124.8M646.50,109.1V122.6M646.80,102.5V125.7M647.10,107.5V121.1M647.40,108.1V123.5M647.70,102.3V121.4M648.00,105.2V121.3M648.30,106.8V121.5M648.60,106.6V122.6M648.90,104.3V121.8M649.20,107.5V120.2M649.50,106.3V121.9M649.80,107.5V120.6M650.10,107.6V124.2M650.40,109.0V125.5M650.70,104.0V122.5M651.00,106.7V125.9M651.30,104.8V120.9M651.60,106.4V121.2M651.90,107.8V124.4M652.20,104.0V125.2M652.50,106.5V122.1M652.80,105.4V121.3M653.10,108.0V124.5M653.40,102.9V120.1M653.70,104.1V121.6M654.00,105.7V121.3M654.30,104.0V125.9M654.60,108.5V120.3M654.90,105.9V122.9M655.20,109.3V123.1M655.50,104.8V121.3M655.80,108.3V122.4M656.10,106.3V123.2M656.40,102.1V120.9M656.70,105.5V124.0M657.00,106.5V122.0M657.30,108.3V125.3M657.60,107.4V123.0M657.90,103.6V123.1M658.20,109.0V120.0M658.50,108.4V119.5M658.80,108.3V121.6M659.10,105.8V124.9M659.40,105.2V123.1M659.70,105.0V121.6M660.00,107.6V124.6M660.30,103.7V120.4M660.60,103.4V121.7M660.90,106.8V123.7M661.20,105.2V121.2M661.50,104.6V120.8M661.80,105.1V121.3M662.10,108.3V124.7M662.40,107.4V120.8M662.70,108.2V123.3M663.00,106.5V123.4M663.30,108.7V121.4M663.60,108.7V121.1M663.90,104.5V121.4M664.20,105.0V122.5M664.50,109.2V121.2M664.80,106.0V123.4M665.10,107.1V120.2M665.40,104.9V122.8M665.70,104.7V126.1M666.00,104.7V123.0M666.30,102.6V122.0M666.60,104.7V121.2M666.90,107.0V122.3M667.20,105.3V121.4M667.50,108.1V124.7M667.80,106.3V124.5M668.10,105.8V122.9M668.40,107.7V125.7M668.70,108.5V122.3M669.00,108.2V122.6M669.30,106.1V124.1M669.60,104.6V124.1M669.90,107.7V120.8M670.20,106.1V121.5M670.50,102.2V123.5M670.80,105.5V124.1M671.10,105.3V121.8M671.40,106.1V124.4M671.70,108.7V121.3M672.00,104.6V119.9M672.30,106.6V123.1M672.60,108.2V124.0M672.90,106.5V121.3M673.20,107.6V124.0M673.50,108.2V121.5M673.80,108.3V120.8M674.10,107.5V120.2M674.40,104.4V124.2M674.70,104.7V122.9M675.00,105.9V124.6M675.30,108.4V122.0M675.60,103.8V124.5M675.90,103.8V125.0M676.20,107.6V123.8M676.50,105.8V119.9M676.80,107.6V120.3M677.10,103.7V123.4M677.40,107.8V122.2M677.70,106.8V120.1M678.00,108.2V122.0M678.30,105.7V121.3M678.60,107.4V125.3M678.90,108.3V121.3M679.20,105.1V125.7M679.50,106.5V121.5M679.80,107.7V125.4M680.10,106.2V122.0M680.40,108.9V122.5M680.70,108.2V122.2M681.00,108.3V125.5M681.30,104.8V120.2M681.60,108.4V122.2M681.90,101.2V125.0M682.20,107.4V126.7M682.50,109.0V125.3M682.80,108.3V121.6" stroke="#000" stroke-width="0.8" fill="none"/>
<rect x="615.6" y="133.9" width="66.8" height="16.1" rx="1.5" fill="#000"/><path d="M615.00,133.0V152.2M615.30,132.6V150.7M615.60,133.1V153.6M615.90,129.6V151.9M616.20,132.4V151.1M616.50,132.0V154.5M616.80,133.5V151.3M617.10,130.0V153.3M617.40,131.3V153.6M617.70,131.3V151.7M618.00,130.8V154.2M618.30,129.8V154.5M618.60,132.2V151.4M618.90,130.8V151.4M619.20,132.4V153.2M619.50,131.6V151.3M619.80,131.6V152.9M620.10,131.8V151.3M620.40,130.7V151.6M620.70,130.5V151.2M621.00,131.9V151.8M621.30,130.1V153.4M621.60,131.3V151.1M621.90,133.8V151.8M622.20,129.2V151.7M622.50,132.6V153.0M622.80,130.3V152.5M623.10,132.2V152.4M623.40,132.9V153.7M623.70,130.0V153.4M624.00,131.2V152.1M624.30,131.7V151.9M624.60,132.9V150.6M624.90,132.0V153.1M625.20,133.4V151.6M625.50,132.7V150.8M625.80,130.6V151.6M626.10,131.5V154.5M626.40,130.1V154.9M626.70,129.1V152.4M627.00,129.4V152.9M627.30,130.7V152.2M627.60,132.4V151.7M627.90,132.1V153.2M628.20,130.5V153.2M628.50,131.9V152.8M628.80,131.6V152.5M629.10,132.2V154.0M629.40,133.5V152.6M629.70,129.4V151.4M630.00,133.2V150.9M630.30,133.2V153.6M630.60,132.1V152.4M630.90,133.2V151.5M631.20,132.3V153.8M631.50,130.8V154.6M631.80,130.5V151.6M632.10,133.1V153.6M632.40,131.3V153.1M632.70,132.3V153.9M633.00,132.0V152.0M633.30,130.0V152.3M633.60,130.0V150.5M633.90,130.9V153.4M634.20,128.9V154.3M634.50,131.0V151.2M634.80,132.1V152.7M635.10,132.5V152.3M635.40,130.8V152.3M635.70,131.9V152.1M636.00,131.6V151.3M636.30,133.7V151.4M636.60,129.7V153.3M636.90,132.7V152.4M637.20,131.4V154.0M637.50,131.5V154.0M637.80,133.5V153.9M638.10,130.5V153.8M638.40,132.2V151.1M638.70,130.7V153.1M639.00,129.9V150.9M639.30,130.8V152.0M639.60,130.1V155.0M639.90,131.3V152.9M640.20,129.5V152.3M640.50,130.2V151.9M640.80,131.8V151.0M641.10,132.2V151.6M641.40,129.9V153.3M641.70,131.0V153.4M642.00,132.7V151.5M642.30,131.4V152.8M642.60,132.6V154.0M642.90,131.2V151.9M643.20,133.0V152.3M643.50,129.9V153.3M643.80,128.7V152.5M644.10,132.1V153.6M644.40,129.3V151.7M644.70,130.5V151.0M645.00,130.5V152.9M645.30,132.4V154.0M645.60,133.3V150.9M645.90,132.6V150.2M646.20,130.4V151.7M646.50,130.6V152.7M646.80,131.8V152.0M647.10,132.6V151.4M647.40,131.9V152.3M647.70,130.6V152.1M648.00,130.3V152.2M648.30,130.8V151.6M648.60,130.8V154.2M648.90,133.6V153.1M649.20,132.1V154.3M649.50,129.8V152.1M649.80,130.5V152.6M650.10,133.2V151.9M650.40,130.1V153.0M650.70,131.6V154.0M651.00,131.3V151.0M651.30,132.0V155.2M651.60,132.0V152.7M651.90,131.2V153.6M652.20,132.2V152.5M652.50,131.7V153.8M652.80,129.7V154.0M653.10,133.2V152.6M653.40,129.3V154.5M653.70,131.8V151.5M654.00,131.5V151.2M654.30,131.1V154.5M654.60,131.0V152.5M654.90,130.0V151.1M655.20,129.0V153.6M655.50,131.6V151.9M655.80,131.5V153.8M656.10,133.6V153.2M656.40,129.7V150.4M656.70,133.4V152.1M657.00,130.6V150.3M657.30,133.4V153.1M657.60,133.1V152.4M657.90,130.4V152.1M658.20,131.7V153.8M658.50,132.2V151.4M658.80,132.6V151.9M659.10,132.2V153.3M659.40,130.1V151.5M659.70,128.8V150.6M660.00,132.3V151.9M660.30,129.3V153.6M660.60,133.0V152.2M660.90,132.1V152.2M661.20,130.8V152.2M661.50,131.0V153.0M661.80,129.0V152.9M662.10,131.7V153.1M662.40,131.4V152.0M662.70,129.6V150.9M663.00,132.1V153.4M663.30,130.3V153.5M663.60,132.8V154.4M663.90,132.1V151.7M664.20,132.2V153.2M664.50,132.0V153.6M664.80,131.8V154.0M665.10,131.7V152.8M665.40,133.5V152.8M665.70,129.5V153.7M666.00,132.5V152.7M666.30,130.8V153.5M666.60,130.7V152.1M666.90,131.7V153.0M667.20,133.6V151.4M667.50,129.8V151.8M667.80,131.9V153.6M668.10,130.1V154.1M668.40,130.9V153.0M668.70,130.6V151.9M669.00,130.9V150.9M669.30,130.3V151.8M669.60,129.8V151.0M669.90,129.2V151.1M670.20,130.2V151.8M670.50,129.3V154.4M670.80,133.1V151.7M671.10,132.1V152.3M671.40,130.0V155.0M671.70,132.2V152.4M672.00,133.6V152.5M672.30,130.6V150.4M672.60,131.0V154.9M672.90,132.0V150.9M673.20,132.5V152.4M673.50,130.4V153.9M673.80,132.9V154.1M674.10,130.6V152.5M674.40,130.6V150.4M674.70,130.6V152.0M675.00,131.3V153.2M675.30,128.9V153.0M675.60,133.0V151.6M675.90,130.9V151.4M676.20,132.5V151.7M676.50,130.3V153.8M676.80,129.7V151.4M677.10,130.6V154.5M677.40,130.8V154.1M677.70,132.6V150.6M678.00,133.0V151.4M678.30,130.2V153.6M678.60,131.7V150.5M678.90,132.2V153.8M679.20,133.0V152.1M679.50,130.0V154.0M679.80,132.1V152.5M680.10,129.3V152.3M680.40,132.8V153.1M680.70,129.8V154.3M681.00,131.7V154.3M681.30,132.0V153.7M681.60,131.5V152.7M681.90,131.3V152.8M682.20,130.7V154.5M682.50,130.7V152.1M682.80,132.4V151.2" stroke="#000" stroke-width="0.8" fill="none"/>
<rect x="615.6" y="167.8" width="66.8" height="5.3" rx="1.5" fill="#000"/><path d="M615.00,166.4V175.3M615.30,166.0V174.6M615.60,167.6V177.8M615.90,167.5V173.3M616.20,165.2V174.4M616.50,166.8V175.6M616.80,165.8V175.4M617.10,166.1V174.1M617.40,166.4V175.2M617.70,167.0V174.7M618.00,165.9V174.3M618.30,165.3V175.3M618.60,160.5V175.0M618.90,165.6V175.3M619.20,166.1V174.5M619.50,166.1V174.1M619.80,165.0V175.0M620.10,164.9V175.2M620.40,166.9V173.9M620.70,165.2V174.0M621.00,166.7V173.9M621.30,167.3V174.6M621.60,167.2V175.1M621.90,166.8V175.3M622.20,166.6V174.2M622.50,167.1V174.9M622.80,166.8V174.9M623.10,166.7V176.2M623.40,167.4V175.3M623.70,165.1V174.0M624.00,166.3V175.6M624.30,167.0V173.8M624.60,165.4V175.1M624.90,167.0V175.1M625.20,165.7V174.5M625.50,166.8V175.0M625.80,166.8V175.3M626.10,167.1V174.1M626.40,166.8V175.5M626.70,166.2V174.7M627.00,161.5V174.1M627.30,166.6V175.8M627.60,166.1V173.8M627.90,166.7V173.8M628.20,164.0V176.2M628.50,166.3V173.6M628.80,167.1V174.1M629.10,166.3V173.7M629.40,166.4V173.7M629.70,166.0V177.5M630.00,166.2V175.6M630.30,166.4V175.3M630.60,163.8V174.9M630.90,167.2V174.2M631.20,167.3V174.1M631.50,166.2V175.3M631.80,166.6V178.3M632.10,166.5V174.9M632.40,167.1V175.8M632.70,167.1V175.5M633.00,166.7V174.6M633.30,166.0V173.8M633.60,163.1V173.4M633.90,166.6V175.1M634.20,167.2V174.4M634.50,165.7V174.4M634.80,165.6V176.0M635.10,166.9V173.8M635.40,167.2V174.2M635.70,167.1V175.9M636.00,166.1V173.9M636.30,166.7V173.6M636.60,165.7V175.1M636.90,167.2V174.8M637.20,162.6V175.1M637.50,165.1V173.7M637.80,165.5V174.4M638.10,166.7V174.2M638.40,166.5V173.4M638.70,167.3V173.2M639.00,166.8V175.4M639.30,165.9V173.4M639.60,166.7V174.4M639.90,161.8V174.1M640.20,166.7V176.1M640.50,162.8V174.8M640.80,165.5V175.5M641.10,166.6V175.0M641.40,165.5V174.0M641.70,167.1V173.7M642.00,165.8V175.6M642.30,166.8V173.9M642.60,166.5V174.6M642.90,167.5V174.8M643.20,167.0V173.6M643.50,167.4V176.5M643.80,164.1V174.7M644.10,165.5V175.4M644.40,165.4V174.1M644.70,165.5V173.9M645.00,160.7V175.0M645.30,166.2V175.0M645.60,165.6V175.1M645.90,167.6V177.6M646.20,167.0V175.0M646.50,166.9V175.2M646.80,167.6V174.3M647.10,166.7V174.6M647.40,165.7V175.1M647.70,162.3V174.3M648.00,166.7V174.2M648.30,165.3V173.6M648.60,165.2V175.1M648.90,166.0V174.2M649.20,165.4V175.9M649.50,161.3V174.7M649.80,166.4V174.8M650.10,165.8V176.9M650.40,165.2V173.2M650.70,166.9V174.3M651.00,165.8V175.5M651.30,166.1V173.9M651.60,165.8V174.3M651.90,167.5V173.9M652.20,166.4V175.6M652.50,167.0V174.7M652.80,167.3V175.3M653.10,166.2V174.1M653.40,167.1V174.9M653.70,166.6V174.5M654.00,166.3V174.5M654.30,165.8V174.0M654.60,167.8V175.1M654.90,166.7V174.2M655.20,166.5V173.5M655.50,166.5V174.6M655.80,162.3V175.4M656.10,162.5V176.7M656.40,167.4V174.7M656.70,166.7V174.9M657.00,166.9V174.4M657.30,165.3V174.2M657.60,165.3V173.8M657.90,166.1V174.9M658.20,165.6V174.8M658.50,165.1V175.6M658.80,167.0V175.1M659.10,165.8V173.3M659.40,165.4V175.2M659.70,161.5V174.5M660.00,161.3V174.1M660.30,166.5V174.6M660.60,166.9V174.7M660.90,167.5V173.6M661.20,167.0V175.0M661.50,167.5V174.6M661.80,167.6V173.9M662.10,166.3V174.9M662.40,167.1V174.3M662.70,165.2V175.6M663.00,167.2V175.8M663.30,161.3V174.5M663.60,166.9V174.0M663.90,166.5V173.3M664.20,160.4V174.4M664.50,167.6V175.5M664.80,164.8V174.3M665.10,165.5V174.5M665.40,164.8V174.9M665.70,167.2V178.2M666.00,166.3V175.3M666.30,166.0V174.8M666.60,167.4V174.4M666.90,166.6V176.5M667.20,166.5V173.7M667.50,166.6V175.1M667.80,165.8V174.6M668.10,166.1V177.2M668.40,167.2V174.2M668.70,166.0V173.2M669.00,167.4V173.9M669.30,167.3V175.1M669.60,166.7V174.8M669.90,165.7V173.9M670.20,161.3V175.9M670.50,167.2V175.0M670.80,162.3V174.1M671.10,166.2V174.2M671.40,166.5V174.8M671.70,167.3V173.6M672.00,165.8V175.5M672.30,165.7V176.0M672.60,166.2V175.8M672.90,166.6V174.1M673.20,165.3V175.7M673.50,166.5V175.8M673.80,167.4V174.9M674.10,166.8V175.2M674.40,166.6V175.2M674.70,166.4V173.7M675.00,166.8V174.1M675.30,167.7V174.3M675.60,165.8V174.6M675.90,167.3V173.6M676.20,166.2V175.1M676.50,166.2V174.3M676.80,166.2V175.0M677.10,165.3V174.6M677.40,166.9V174.1M677.70,165.3V175.6M678.00,166.2V174.7M678.30,166.9V175.9M678.60,165.3V174.1M678.90,167.6V175.7M679.20,167.2V175.7M679.50,166.0V175.3M679.80,165.8V173.4M680.10,166.4V175.6M680.40,166.2V173.8M680.70,166.8V173.5M681.00,166.7V174.0M681.30,166.9V173.9M681.60,166.3V175.4M681.90,166.9V174.3M682.20,165.7V175.4M682.50,166.8V175.5M682.80,161.4V177.3" stroke="#000" stroke-width="0.8" fill="none"/>
<line x1="487" y1="41.7" x2="580.6" y2="41.7" stroke="#e53935" stroke-width="1.2" stroke-dasharray="3.2,2.8"/>
<path d="M539.7,185.8H546.9M543.3,185.8V212.8M539.7,212.8H546.9" stroke="#333" stroke-width="1.2" fill="none"/>
<text x="538.6" y="204.3" font-size="11" text-anchor="end" fill="#444" font-weight="normal" >400µV</text>
<path d="M614.8,187.2H683M614.8,184V190.6M683,184V190.6" stroke="#333" stroke-width="1.2" fill="none"/>
<text x="648.8" y="200.5" font-size="11" text-anchor="middle" fill="#333" font-weight="normal" >1s</text>
<text x="0" y="0" font-size="11.1" text-anchor="middle" fill="#222" transform="translate(349.6,99.1) rotate(-90)">Relative depth (mm)</text>
<text x="61.5" y="236.3" font-size="11.7" text-anchor="start" fill="#111" font-weight="bold" >Unit #7</text>
<line x1="258.5" y1="217.7" x2="278.3" y2="217.7" stroke="#111" stroke-width="1.3"/>
<line x1="258.5" y1="231" x2="278.3" y2="231" stroke="#e8232a" stroke-width="1.3"/>
<text x="283.4" y="220.8" font-size="9" text-anchor="start" fill="#222" font-weight="normal" >Data</text>
<text x="283.4" y="233.8" font-size="9.1" text-anchor="start" fill="#222" font-weight="normal" >DOG Model</text>
<line x1="64.2" y1="296.6" x2="171.5" y2="296.6" stroke="#999" stroke-width="0.9" stroke-dasharray="3.5,2.5"/>
<line x1="64.2" y1="375.1" x2="171.5" y2="375.1" stroke="#999" stroke-width="0.9" stroke-dasharray="3.5,2.5"/>
<line x1="205" y1="297.1" x2="312.5" y2="297.1" stroke="#999" stroke-width="0.9" stroke-dasharray="3.5,2.5"/>
<line x1="204" y1="375.1" x2="311.6" y2="375.1" stroke="#999" stroke-width="0.9" stroke-dasharray="3.5,2.5"/>
<path d="M67.55,295.40 C67.83,295.96 68.53,298.33 69.23,298.75 C69.93,299.17 70.91,297.78 71.75,297.92 C72.59,298.05 73.43,298.61 74.27,299.59 C75.11,300.57 75.95,302.53 76.79,303.79 C77.63,305.05 78.61,306.87 79.31,307.15 C80.00,307.43 80.34,308.83 80.98,305.47 C81.63,302.11 82.41,295.12 83.17,287.00 C83.92,278.89 84.84,263.64 85.52,256.79 C86.19,249.93 86.64,246.99 87.19,245.88 C87.75,244.76 88.31,246.02 88.87,250.07 C89.43,254.13 89.88,261.82 90.55,270.22 C91.22,278.61 92.20,292.60 92.90,300.43 C93.60,308.27 94.13,315.26 94.75,317.22 C95.36,319.18 95.81,316.66 96.60,312.18 C97.38,307.71 98.61,295.40 99.45,290.36 C100.29,285.32 100.99,283.51 101.63,281.97 C102.28,280.43 102.69,280.71 103.31,281.13 C103.93,281.55 104.43,282.81 105.32,284.49 C106.22,286.16 107.70,289.52 108.68,291.20 C109.66,292.88 110.36,293.86 111.20,294.56 C112.04,295.26 112.88,295.26 113.72,295.40 C114.56,295.54 115.26,294.84 116.24,295.40 C117.22,295.96 118.61,298.61 119.59,298.75 C120.57,298.89 121.27,297.22 122.11,296.24 C122.95,295.26 123.79,293.16 124.63,292.88 C125.47,292.60 126.17,293.72 127.15,294.56 C128.13,295.40 129.39,297.92 130.51,297.92 C131.62,297.92 132.88,294.98 133.86,294.56 C134.84,294.14 135.40,294.84 136.38,295.40 C137.36,295.96 138.76,297.78 139.74,297.92 C140.72,298.05 141.42,296.66 142.26,296.24 C143.10,295.82 143.93,295.26 144.77,295.40 C145.61,295.54 146.45,297.22 147.29,297.08 C148.13,296.94 148.97,295.31 149.81,294.56 C150.65,293.80 151.49,292.54 152.33,292.54 C153.17,292.54 154.01,293.80 154.85,294.56 C155.69,295.31 156.53,296.80 157.36,297.08 C158.20,297.36 159.04,296.66 159.88,296.24 C160.72,295.82 161.56,294.70 162.40,294.56 C163.24,294.42 164.08,294.98 164.92,295.40 C165.76,295.82 166.60,296.66 167.44,297.08 C168.28,297.50 169.40,297.92 169.95,297.92 C170.51,297.92 170.65,297.22 170.79,297.08" stroke="#111" stroke-width="1.4" fill="none" stroke-linejoin="round" stroke-linecap="round"/>
<path d="M67.55,297.08 C67.97,297.22 69.23,297.50 70.07,297.92 C70.91,298.33 71.61,298.33 72.59,299.59 C73.57,300.85 74.97,303.99 75.95,305.47 C76.93,306.95 77.71,308.27 78.47,308.49 C79.22,308.71 79.78,309.83 80.48,306.81 C81.18,303.79 81.88,298.14 82.66,290.36 C83.45,282.58 84.48,266.86 85.18,260.14 C85.88,253.43 86.36,251.19 86.86,250.07 C87.36,248.95 87.64,249.51 88.20,253.43 C88.76,257.35 89.46,265.18 90.22,273.57 C90.97,281.97 92.04,296.66 92.73,303.79 C93.43,310.92 93.85,314.98 94.41,316.38 C94.97,317.78 95.39,315.96 96.09,312.18 C96.79,308.41 97.77,298.47 98.61,293.72 C99.45,288.96 100.43,285.66 101.13,283.65 C101.83,281.63 102.25,281.58 102.81,281.63 C103.37,281.69 103.79,282.67 104.49,283.98 C105.18,285.30 106.02,287.76 107.00,289.52 C107.98,291.28 109.24,293.44 110.36,294.56 C111.48,295.68 112.32,295.87 113.72,296.24 C115.12,296.60 116.52,296.66 118.75,296.74 C120.99,296.82 123.51,296.74 127.15,296.74 C130.79,296.74 136.10,296.74 140.58,296.74 C145.05,296.74 148.97,296.74 154.01,296.74 C159.04,296.74 168.00,296.74 170.79,296.74" stroke="#e8232a" stroke-width="1.4" fill="none" stroke-linejoin="round" stroke-linecap="round"/>
<path d="M66.38,355.29 C66.57,356.41 67.08,360.32 67.55,362.00 C68.03,363.68 68.59,364.24 69.23,365.36 C69.88,366.48 70.72,366.76 71.42,368.72 C72.11,370.68 72.67,373.47 73.43,377.11 C74.18,380.75 75.30,387.60 75.95,390.54 C76.59,393.48 76.81,394.74 77.29,394.74 C77.77,394.74 78.19,395.44 78.80,390.54 C79.42,385.65 80.26,374.59 80.98,365.36 C81.71,356.13 82.47,342.28 83.17,335.14 C83.87,328.01 84.56,323.67 85.18,322.55 C85.80,321.44 86.24,322.69 86.86,328.43 C87.47,334.17 88.23,347.45 88.87,356.97 C89.52,366.48 90.13,379.49 90.72,385.51 C91.31,391.52 91.78,392.22 92.40,393.06 C93.01,393.90 93.66,392.36 94.41,390.54 C95.17,388.72 95.95,384.67 96.93,382.15 C97.91,379.63 99.31,376.83 100.29,375.43 C101.27,374.03 101.97,373.61 102.81,373.75 C103.65,373.89 104.35,375.43 105.32,376.27 C106.30,377.11 107.56,378.79 108.68,378.79 C109.80,378.79 110.78,376.97 112.04,376.27 C113.30,375.57 114.98,374.79 116.24,374.59 C117.50,374.40 118.33,374.73 119.59,375.10 C120.85,375.46 122.67,376.86 123.79,376.78 C124.91,376.69 125.47,375.66 126.31,374.59 C127.15,373.53 127.99,370.68 128.83,370.40 C129.67,370.12 130.51,372.13 131.34,372.92 C132.18,373.70 132.88,375.24 133.86,375.10 C134.84,374.96 136.10,372.44 137.22,372.08 C138.34,371.71 139.60,372.36 140.58,372.92 C141.56,373.47 142.26,374.59 143.10,375.43 C143.93,376.27 144.77,377.67 145.61,377.95 C146.45,378.23 147.15,377.81 148.13,377.11 C149.11,376.41 150.37,374.45 151.49,373.75 C152.61,373.05 153.87,373.19 154.85,372.92 C155.83,372.64 156.39,372.08 157.36,372.08 C158.34,372.08 159.74,372.50 160.72,372.92 C161.70,373.33 162.40,374.45 163.24,374.59 C164.08,374.73 164.92,374.03 165.76,373.75 C166.60,373.47 167.44,372.78 168.28,372.92 C169.12,373.05 170.37,374.31 170.79,374.59" stroke="#111" stroke-width="1.4" fill="none" stroke-linejoin="round" stroke-linecap="round"/>
<path d="M66.38,365.36 C66.57,364.80 67.08,362.98 67.55,362.00 C68.03,361.02 68.67,359.77 69.23,359.49 C69.79,359.21 70.35,359.35 70.91,360.32 C71.47,361.30 71.95,361.72 72.59,365.36 C73.23,369.00 74.07,377.39 74.77,382.15 C75.47,386.90 76.31,391.52 76.79,393.90 C77.26,396.28 77.29,396.70 77.63,396.42 C77.96,396.14 78.24,397.40 78.80,392.22 C79.36,387.04 80.26,374.59 80.98,365.36 C81.71,356.13 82.52,343.12 83.17,336.82 C83.81,330.53 84.29,328.15 84.84,327.59 C85.40,327.03 85.91,328.57 86.52,333.47 C87.14,338.36 87.78,349.13 88.54,356.97 C89.29,364.80 90.22,375.29 91.06,380.47 C91.90,385.65 92.73,387.32 93.57,388.02 C94.41,388.72 95.11,386.06 96.09,384.67 C97.07,383.27 98.19,381.11 99.45,379.63 C100.71,378.15 101.83,376.52 103.65,375.77 C105.46,375.01 107.84,375.21 110.36,375.10 C112.88,374.99 115.40,375.10 118.75,375.10 C122.11,375.10 126.31,375.10 130.51,375.10 C134.70,375.10 139.46,375.10 143.93,375.10 C148.41,375.10 152.75,375.10 157.36,375.10 C161.98,375.10 169.26,375.10 171.63,375.10" stroke="#e8232a" stroke-width="1.4" fill="none" stroke-linejoin="round" stroke-linecap="round"/>
<path d="M205.04,296.27 C205.46,295.99 206.71,294.73 207.55,294.59 C208.39,294.45 209.23,295.15 210.07,295.43 C210.91,295.71 211.75,295.85 212.59,296.27 C213.43,296.69 214.27,297.59 215.11,297.95 C215.95,298.31 216.79,298.59 217.63,298.45 C218.47,298.31 219.31,297.62 220.14,297.11 C220.98,296.61 221.82,295.43 222.66,295.43 C223.50,295.43 224.20,296.50 225.18,297.11 C226.16,297.73 227.42,299.07 228.54,299.13 C229.66,299.18 230.78,297.92 231.90,297.45 C233.01,296.97 234.27,296.19 235.25,296.27 C236.23,296.36 236.93,297.53 237.77,297.95 C238.61,298.37 239.45,298.93 240.29,298.79 C241.13,298.65 241.97,297.73 242.81,297.11 C243.65,296.50 244.49,295.52 245.32,295.10 C246.16,294.68 247.00,294.40 247.84,294.59 C248.68,294.79 249.52,295.43 250.36,296.27 C251.20,297.11 252.04,298.79 252.88,299.63 C253.72,300.47 254.56,300.61 255.40,301.31 C256.24,302.01 257.08,302.85 257.92,303.83 C258.75,304.81 259.59,306.06 260.43,307.18 C261.27,308.30 262.11,309.56 262.95,310.54 C263.79,311.52 264.77,313.34 265.47,313.06 C266.17,312.78 266.59,313.48 267.15,308.86 C267.71,304.25 268.27,294.31 268.83,285.36 C269.39,276.41 269.95,262.28 270.51,255.14 C271.06,248.01 271.62,243.95 272.18,242.55 C272.74,241.16 273.30,242.41 273.86,246.75 C274.42,251.09 274.98,260.74 275.54,268.57 C276.10,276.41 276.66,287.32 277.22,293.75 C277.78,300.19 278.34,303.97 278.90,307.18 C279.46,310.40 280.02,312.78 280.58,313.06 C281.14,313.34 281.64,311.80 282.26,308.86 C282.87,305.92 283.57,299.91 284.27,295.43 C284.97,290.96 285.81,284.52 286.45,282.00 C287.10,279.49 287.57,279.77 288.13,280.32 C288.69,280.88 289.11,283.40 289.81,285.36 C290.51,287.32 291.35,290.54 292.33,292.08 C293.31,293.61 294.57,294.45 295.69,294.59 C296.80,294.73 298.06,293.33 299.04,292.92 C300.02,292.50 300.72,292.08 301.56,292.08 C302.40,292.08 303.24,292.36 304.08,292.92 C304.92,293.47 305.76,294.73 306.60,295.43 C307.44,296.13 308.42,297.25 309.12,297.11 C309.81,296.97 310.37,295.43 310.79,294.59 C311.21,293.75 311.49,292.50 311.63,292.08" stroke="#111" stroke-width="1.4" fill="none" stroke-linejoin="round" stroke-linecap="round"/>
<path d="M205.04,297.11 C206.99,297.11 212.59,297.11 216.79,297.11 C220.98,297.11 226.02,297.11 230.22,297.11 C234.41,297.11 238.61,297.08 241.97,297.11 C245.32,297.14 248.35,297.17 250.36,297.28 C252.38,297.39 252.93,297.39 254.05,297.78 C255.17,298.17 256.01,298.62 257.08,299.63 C258.14,300.64 259.31,302.29 260.43,303.83 C261.55,305.37 262.95,307.88 263.79,308.86 C264.63,309.84 264.91,310.82 265.47,309.70 C266.03,308.58 266.59,306.76 267.15,302.15 C267.71,297.53 268.27,289.84 268.83,282.00 C269.39,274.17 269.95,261.02 270.51,255.14 C271.06,249.27 271.62,247.31 272.18,246.75 C272.74,246.19 273.30,247.31 273.86,251.79 C274.42,256.26 274.93,265.78 275.54,273.61 C276.16,281.44 276.94,292.36 277.56,298.79 C278.17,305.23 278.73,308.58 279.23,312.22 C279.74,315.86 280.13,319.77 280.58,320.61 C281.03,321.45 281.36,320.33 281.92,317.26 C282.48,314.18 283.26,307.46 283.93,302.15 C284.61,296.83 285.25,289.05 285.95,285.36 C286.65,281.67 287.49,280.27 288.13,279.99 C288.78,279.71 289.11,281.81 289.81,283.68 C290.51,285.56 291.35,289.28 292.33,291.24 C293.31,293.19 294.29,294.45 295.69,295.43 C297.08,296.41 299.04,296.83 300.72,297.11 C302.40,297.39 304.08,297.11 305.76,297.11 C307.44,297.11 309.95,297.11 310.79,297.11" stroke="#e8232a" stroke-width="1.4" fill="none" stroke-linejoin="round" stroke-linecap="round"/>
<path d="M204.20,379.63 C204.62,379.21 205.88,377.81 206.71,377.11 C207.55,376.41 208.25,375.57 209.23,375.43 C210.21,375.29 211.47,376.22 212.59,376.27 C213.71,376.33 214.83,375.41 215.95,375.77 C217.07,376.13 218.33,378.23 219.31,378.45 C220.28,378.68 220.98,377.90 221.82,377.11 C222.66,376.33 223.50,374.45 224.34,373.75 C225.18,373.05 225.88,373.19 226.86,372.92 C227.84,372.64 229.24,371.99 230.22,372.08 C231.20,372.16 231.90,373.08 232.73,373.42 C233.57,373.75 234.41,374.09 235.25,374.09 C236.09,374.09 236.79,373.47 237.77,373.42 C238.75,373.36 240.15,373.98 241.13,373.75 C242.11,373.53 242.81,372.78 243.65,372.08 C244.49,371.38 245.18,370.12 246.16,369.56 C247.14,369.00 248.54,368.91 249.52,368.72 C250.50,368.52 251.20,368.66 252.04,368.38 C252.88,368.10 253.72,366.98 254.56,367.04 C255.40,367.10 256.38,367.60 257.08,368.72 C257.78,369.84 258.14,371.24 258.75,373.75 C259.37,376.27 260.15,381.45 260.77,383.83 C261.38,386.20 261.89,387.60 262.45,388.02 C263.01,388.44 263.48,389.56 264.13,386.34 C264.77,383.13 265.58,376.13 266.31,368.72 C267.04,361.30 267.79,348.57 268.49,341.86 C269.19,335.14 269.89,331.23 270.51,328.43 C271.12,325.63 271.62,324.93 272.18,325.07 C272.74,325.21 273.30,325.35 273.86,329.27 C274.42,333.19 275.04,341.72 275.54,348.57 C276.04,355.43 276.46,363.96 276.88,370.40 C277.30,376.83 277.72,383.55 278.06,387.18 C278.40,390.82 278.48,391.80 278.90,392.22 C279.32,392.64 279.88,391.38 280.58,389.70 C281.28,388.02 282.26,384.11 283.10,382.15 C283.93,380.19 284.77,379.21 285.61,377.95 C286.45,376.69 287.15,375.85 288.13,374.59 C289.11,373.33 290.51,370.54 291.49,370.40 C292.47,370.26 293.17,372.36 294.01,373.75 C294.85,375.15 295.69,378.37 296.53,378.79 C297.36,379.21 298.06,376.97 299.04,376.27 C300.02,375.57 301.28,374.87 302.40,374.59 C303.52,374.31 304.78,374.31 305.76,374.59 C306.74,374.87 307.58,375.43 308.28,376.27 C308.98,377.11 309.67,379.07 309.95,379.63" stroke="#111" stroke-width="1.4" fill="none" stroke-linejoin="round" stroke-linecap="round"/>
<path d="M204.20,375.10 C206.30,375.10 212.45,375.10 216.79,375.10 C221.12,375.10 226.30,375.13 230.22,375.10 C234.13,375.07 237.91,375.04 240.29,374.93 C242.67,374.82 243.09,374.76 244.49,374.43 C245.88,374.09 247.42,374.15 248.68,372.92 C249.94,371.68 250.92,369.08 252.04,367.04 C253.16,365.00 254.50,361.22 255.40,360.66 C256.29,360.10 256.80,361.50 257.41,363.68 C258.03,365.86 258.45,369.84 259.09,373.75 C259.73,377.67 260.55,383.83 261.27,387.18 C262.00,390.54 262.76,394.18 263.45,393.90 C264.15,393.62 264.80,390.82 265.47,385.51 C266.14,380.19 266.78,370.12 267.48,362.00 C268.18,353.89 269.02,342.14 269.67,336.82 C270.31,331.51 270.79,330.39 271.34,330.11 C271.90,329.83 272.41,330.67 273.02,335.14 C273.64,339.62 274.39,350.25 275.04,356.97 C275.68,363.68 276.24,370.68 276.88,375.43 C277.53,380.19 278.14,383.83 278.90,385.51 C279.65,387.18 280.58,386.34 281.42,385.51 C282.26,384.67 282.96,382.01 283.93,380.47 C284.91,378.93 286.03,377.17 287.29,376.27 C288.55,375.38 289.81,375.29 291.49,375.10 C293.17,374.90 295.27,375.10 297.36,375.10 C299.46,375.10 301.70,375.10 304.08,375.10 C306.46,375.10 310.37,375.10 311.63,375.10" stroke="#e8232a" stroke-width="1.4" fill="none" stroke-linejoin="round" stroke-linecap="round"/>
<rect x="137.2" y="241.5" width="3.4" height="28.7" fill="#fff" stroke="#111" stroke-width="1"/><line x1="140.6" y1="256" x2="151" y2="256" stroke="#111" stroke-width="1.2"/><polygon points="150.6,250 150.6,261.8 160.3,256" fill="#111"/>
<rect x="202.7" y="263.3" width="29.7" height="3.2" fill="#fff" stroke="#111" stroke-width="1"/><line x1="217.6" y1="253" x2="217.6" y2="263.3" stroke="#111" stroke-width="1.2"/><polygon points="212,253.3 223.2,253.3 217.6,243" fill="#111"/>
<rect x="155.4" y="324.7" width="3.3" height="29.3" fill="#fff" stroke="#111" stroke-width="1"/><line x1="146.2" y1="340.5" x2="155.4" y2="340.5" stroke="#111" stroke-width="1.2"/><polygon points="137,340.5 146.6,335 146.6,346.1" fill="#111"/>
<rect x="204.3" y="327.4" width="29.3" height="3.4" fill="#fff" stroke="#111" stroke-width="1"/><line x1="219" y1="330.8" x2="219" y2="341.2" stroke="#111" stroke-width="1.2"/><polygon points="213.3,341 224.8,341 219,350.7" fill="#111"/>
<line x1="64.2" y1="402.5" x2="170" y2="402.5" stroke="#777" stroke-width="1"/><line x1="64.8" y1="402.5" x2="64.8" y2="400.0" stroke="#777" stroke-width="1"/><text x="65.6" y="411.8" font-size="9.8" text-anchor="middle" fill="#666" font-weight="normal" >10</text><line x1="99.7" y1="402.5" x2="99.7" y2="400.0" stroke="#777" stroke-width="1"/><text x="100.5" y="411.8" font-size="9.8" text-anchor="middle" fill="#666" font-weight="normal" >15</text><line x1="134.5" y1="402.5" x2="134.5" y2="400.0" stroke="#777" stroke-width="1"/><text x="135.3" y="411.8" font-size="9.8" text-anchor="middle" fill="#666" font-weight="normal" >20</text><line x1="169.6" y1="402.5" x2="169.6" y2="400.0" stroke="#777" stroke-width="1"/><text x="170.4" y="411.8" font-size="9.8" text-anchor="middle" fill="#666" font-weight="normal" >25</text>
<line x1="204.3" y1="402.5" x2="311.6" y2="402.5" stroke="#777" stroke-width="1"/><line x1="204.7" y1="402.5" x2="204.7" y2="400.0" stroke="#777" stroke-width="1"/><text x="205.5" y="411.8" font-size="9.8" text-anchor="middle" fill="#666" font-weight="normal" >-5</text><line x1="240.5" y1="402.5" x2="240.5" y2="400.0" stroke="#777" stroke-width="1"/><text x="241.3" y="411.8" font-size="9.8" text-anchor="middle" fill="#666" font-weight="normal" >0</text><line x1="276.2" y1="402.5" x2="276.2" y2="400.0" stroke="#777" stroke-width="1"/><text x="277.0" y="411.8" font-size="9.8" text-anchor="middle" fill="#666" font-weight="normal" >5</text><line x1="311.6" y1="402.5" x2="311.6" y2="400.0" stroke="#777" stroke-width="1"/><text x="312.40000000000003" y="411.8" font-size="9.8" text-anchor="middle" fill="#666" font-weight="normal" >10</text>
<text x="120" y="428.6" font-size="10.8" text-anchor="middle" fill="#222" font-weight="normal" >x Position (d.v.a.)</text>
<text x="258" y="428.6" font-size="10.8" text-anchor="middle" fill="#222" font-weight="normal" >y Position (d.v.a.)</text>
<text x="0" y="0" font-size="9.6" text-anchor="middle" fill="#222" transform="translate(22.8,357) rotate(-90)">Evoked Firing Rate</text>
<path d="M54.2,348.8H61M57.6,348.8V374.5M54.2,374.5H61" stroke="#333" stroke-width="1.2" fill="none"/>
<text x="54.6" y="364.4" font-size="10.8" text-anchor="end" fill="#666" font-weight="normal" >50Hz</text>
<defs>
<radialGradient id="rfspot" cx="0.5" cy="0.5" r="0.5">
 <stop offset="0" stop-color="#ffffff"/>
 <stop offset="0.14" stop-color="#f4f4f4"/>
 <stop offset="0.3" stop-color="#303030"/>
 <stop offset="0.5" stop-color="#111111"/>
 <stop offset="0.72" stop-color="#4a4844"/>
 <stop offset="1" stop-color="#787671"/>
</radialGradient>
<linearGradient id="cbar" x1="0" y1="0" x2="0" y2="1">
 <stop offset="0" stop-color="#ffffff"/>
 <stop offset="0.5" stop-color="#7a7a7a"/>
 <stop offset="1" stop-color="#111111"/>
</linearGradient>
</defs>
<rect x="392" y="255.7" width="247.6" height="138.6" fill="#787671"/>
<circle cx="557" cy="311.4" r="7.5" fill="url(#rfspot)"/>
<path d="M513.3,324.9H518.1M515.7,322.5V327.3" stroke="#d33" stroke-width="0.8"/>
<line x1="392" y1="255.7" x2="392" y2="394.3" stroke="#444" stroke-width="1"/>
<line x1="392" y1="394.3" x2="639.6" y2="394.3" stroke="#444" stroke-width="1"/>
<line x1="392" y1="262" x2="394.5" y2="262" stroke="#555" stroke-width="1"/>
<text x="388.8" y="265.8" font-size="10.5" text-anchor="end" fill="#555" font-weight="normal" >20</text>
<line x1="392" y1="293.5" x2="394.5" y2="293.5" stroke="#555" stroke-width="1"/>
<text x="388.8" y="297.3" font-size="10.5" text-anchor="end" fill="#555" font-weight="normal" >10</text>
<line x1="392" y1="325" x2="394.5" y2="325" stroke="#555" stroke-width="1"/>
<text x="388.8" y="328.8" font-size="10.5" text-anchor="end" fill="#555" font-weight="normal" >0</text>
<line x1="392" y1="356.5" x2="394.5" y2="356.5" stroke="#555" stroke-width="1"/>
<text x="388.8" y="360.3" font-size="10.5" text-anchor="end" fill="#555" font-weight="normal" >-10</text>
<line x1="392" y1="388" x2="394.5" y2="388" stroke="#555" stroke-width="1"/>
<text x="388.8" y="391.8" font-size="10.5" text-anchor="end" fill="#555" font-weight="normal" >-20</text>
<line x1="421.5" y1="394.3" x2="421.5" y2="391.8" stroke="#555" stroke-width="1"/>
<text x="419.5" y="406.2" font-size="10.5" text-anchor="middle" fill="#555" font-weight="normal" >-30</text>
<line x1="453" y1="394.3" x2="453" y2="391.8" stroke="#555" stroke-width="1"/>
<text x="451" y="406.2" font-size="10.5" text-anchor="middle" fill="#555" font-weight="normal" >-20</text>
<line x1="484.5" y1="394.3" x2="484.5" y2="391.8" stroke="#555" stroke-width="1"/>
<text x="482.5" y="406.2" font-size="10.5" text-anchor="middle" fill="#555" font-weight="normal" >-10</text>
<line x1="516" y1="394.3" x2="516" y2="391.8" stroke="#555" stroke-width="1"/>
<text x="516" y="406.2" font-size="10.5" text-anchor="middle" fill="#555" font-weight="normal" >0</text>
<line x1="547.5" y1="394.3" x2="547.5" y2="391.8" stroke="#555" stroke-width="1"/>
<text x="547.5" y="406.2" font-size="10.5" text-anchor="middle" fill="#555" font-weight="normal" >10</text>
<line x1="579" y1="394.3" x2="579" y2="391.8" stroke="#555" stroke-width="1"/>
<text x="579" y="406.2" font-size="10.5" text-anchor="middle" fill="#555" font-weight="normal" >20</text>
<line x1="610.5" y1="394.3" x2="610.5" y2="391.8" stroke="#555" stroke-width="1"/>
<text x="610.5" y="406.2" font-size="10.5" text-anchor="middle" fill="#555" font-weight="normal" >30</text>
<text x="0" y="0" font-size="11.2" text-anchor="middle" fill="#444" transform="translate(369.5,328) rotate(-90)">y Position (d.v.a)</text>
<text x="518.2" y="424.5" font-size="11.2" text-anchor="middle" fill="#444" font-weight="normal" >x Position (d.v.a)</text>
<rect x="648.3" y="258.2" width="9" height="136" fill="url(#cbar)" stroke="#555" stroke-width="0.8"/>
<line x1="655.5" y1="330" x2="657.3" y2="330" stroke="#333" stroke-width="0.8"/>
<text x="662.7" y="263.2" font-size="9.3" text-anchor="start" fill="#333" font-weight="normal" >ON</text>
<text x="662" y="333.2" font-size="9.3" text-anchor="start" fill="#333" font-weight="normal" >0</text>
<text x="662.7" y="394.6" font-size="9.3" text-anchor="start" fill="#333" font-weight="normal" >OFF</text>
<text x="0" y="0" font-size="11.5" text-anchor="middle" fill="#444" transform="translate(675.2,329.2) rotate(90)">RF weight (a.u.)</text>
<text x="102.5" y="476" font-size="11.7" text-anchor="start" fill="#111" font-weight="bold" >Unit #13</text>
<line x1="90.5" y1="482.3" x2="90.5" y2="645.5" stroke="#7a7a7a" stroke-width="1"/><line x1="90.5" y1="482.3" x2="93.0" y2="482.3" stroke="#7a7a7a" stroke-width="1"/><text x="86" y="485.90000000000003" font-size="10" text-anchor="end" fill="#666" font-weight="normal" >15</text><line x1="90.5" y1="534.4" x2="93.0" y2="534.4" stroke="#7a7a7a" stroke-width="1"/><text x="86" y="538.0" font-size="10" text-anchor="end" fill="#666" font-weight="normal" >10</text><line x1="90.5" y1="586.5" x2="93.0" y2="586.5" stroke="#7a7a7a" stroke-width="1"/><text x="86" y="590.1" font-size="10" text-anchor="end" fill="#666" font-weight="normal" >5</text><line x1="90.5" y1="638.6" x2="93.0" y2="638.6" stroke="#7a7a7a" stroke-width="1"/><text x="86" y="642.2" font-size="10" text-anchor="end" fill="#666" font-weight="normal" >0</text>
<line x1="90.5" y1="645.5" x2="269.9" y2="645.5" stroke="#7a7a7a" stroke-width="1"/><line x1="90.5" y1="645.5" x2="90.5" y2="643.0" stroke="#7a7a7a" stroke-width="1"/><text x="90.5" y="657.4" font-size="10" text-anchor="middle" fill="#666" font-weight="normal" >0</text><line x1="149.3" y1="645.5" x2="149.3" y2="643.0" stroke="#7a7a7a" stroke-width="1"/><text x="149.3" y="657.4" font-size="10" text-anchor="middle" fill="#666" font-weight="normal" >2</text><line x1="208" y1="645.5" x2="208" y2="643.0" stroke="#7a7a7a" stroke-width="1"/><text x="208" y="657.4" font-size="10" text-anchor="middle" fill="#666" font-weight="normal" >4</text><line x1="267.2" y1="645.5" x2="267.2" y2="643.0" stroke="#7a7a7a" stroke-width="1"/><text x="267.2" y="657.4" font-size="10" text-anchor="middle" fill="#666" font-weight="normal" >6</text>
<path d="M106.00,522.00 L124.80,544.30 L167.80,620.80 L267.20,638.90" stroke="#111" stroke-width="1.5" fill="none" stroke-linejoin="round"/>
<path d="M106,510V532.6M103.0,510H109.0M103.0,532.6H109.0" stroke="#111" stroke-width="1.4" fill="none"/>
<path d="M124.8,535V553.7M121.8,535H127.8M121.8,553.7H127.8" stroke="#111" stroke-width="1.4" fill="none"/>
<path d="M167.8,611V631.2M164.8,611H170.8M164.8,631.2H170.8" stroke="#111" stroke-width="1.4" fill="none"/>
<path d="M267.2,632.5V644.6M264.2,632.5H270.2M264.2,644.6H270.2" stroke="#111" stroke-width="1.4" fill="none"/>
<text x="102.2" y="636.7" font-size="11" fill="#444">p&lt;10<tspan font-size="7.9" dy="-4">-10</tspan></text>
<text x="0" y="0" font-size="11.5" text-anchor="middle" fill="#555" transform="translate(62.5,563.5) rotate(-90)">Spike rate (Hz)</text>
<text x="188.5" y="676" font-size="11.5" text-anchor="middle" fill="#555">Sp. Freq (cyc.deg<tspan font-size="8.0" dy="-4">-1</tspan><tspan dy="4">)</tspan></text>
<line x1="183.3" y1="557.4" x2="279.6" y2="557.4" stroke="#c4c4c4" stroke-width="1.8"/>
<line x1="183.5" y1="486.6" x2="183.5" y2="575.5" stroke="#7a7a7a" stroke-width="1"/><line x1="183.5" y1="486.6" x2="186.0" y2="486.6" stroke="#7a7a7a" stroke-width="1"/><text x="179.3" y="490.0" font-size="9.8" text-anchor="end" fill="#666" font-weight="normal" >40</text><line x1="183.5" y1="504.3" x2="186.0" y2="504.3" stroke="#7a7a7a" stroke-width="1"/><line x1="183.5" y1="522.1" x2="186.0" y2="522.1" stroke="#7a7a7a" stroke-width="1"/><line x1="183.5" y1="539.8" x2="186.0" y2="539.8" stroke="#7a7a7a" stroke-width="1"/><line x1="183.5" y1="557.4" x2="186.0" y2="557.4" stroke="#7a7a7a" stroke-width="1"/><text x="179.3" y="560.8" font-size="9.8" text-anchor="end" fill="#666" font-weight="normal" >0</text>
<line x1="183.5" y1="575.5" x2="279.8" y2="575.5" stroke="#7a7a7a" stroke-width="1"/><line x1="204" y1="575.5" x2="204" y2="573.0" stroke="#7a7a7a" stroke-width="1"/><text x="204" y="586.6" font-size="10.2" text-anchor="middle" fill="#666" font-weight="normal" >0</text><line x1="260" y1="575.5" x2="260" y2="573.0" stroke="#7a7a7a" stroke-width="1"/><text x="260" y="586.6" font-size="10.2" text-anchor="middle" fill="#666" font-weight="normal" >0.5</text>
<text x="235.3" y="600.4" font-size="11.4" text-anchor="middle" fill="#555" font-weight="normal" >Time (s)</text>
<text x="0" y="0" font-size="11.4" text-anchor="middle" fill="#555" transform="translate(163.8,522.7) rotate(-90)">Spike rate (Hz)</text>
<text x="228.2" y="479.9" font-size="9.2" fill="#222">Sp. Freq. (cyc.deg<tspan font-size="6.5" dy="-3">-1</tspan><tspan dy="3">)</tspan></text>
<line x1="259" y1="491.1" x2="275" y2="491.1" stroke="#222" stroke-width="1.7"/>
<text x="278.6" y="494.5" font-size="9.3" text-anchor="start" fill="#444" font-weight="normal" >0.5</text>
<line x1="259" y1="500.9" x2="275" y2="500.9" stroke="#4a66b8" stroke-width="1.7"/>
<text x="278.6" y="504.29999999999995" font-size="9.3" text-anchor="start" fill="#444" font-weight="normal" >1.1</text>
<line x1="259" y1="510.4" x2="275" y2="510.4" stroke="#e8262a" stroke-width="1.7"/>
<text x="278.6" y="513.8" font-size="9.3" text-anchor="start" fill="#444" font-weight="normal" >2.6</text>
<line x1="259" y1="519.9" x2="275" y2="519.9" stroke="#6cc24f" stroke-width="1.7"/>
<text x="278.6" y="523.3" font-size="9.3" text-anchor="start" fill="#444" font-weight="normal" >6</text>
<path d="M183.01,557.61 L184.00,558.66 L184.99,559.51 L185.99,559.25 L186.92,559.67 L187.85,560.29 L188.78,561.38 L189.71,562.02 L190.64,560.72 L191.57,560.98 L192.50,559.57 L193.43,559.68 L194.36,559.53 L195.29,558.57 L196.22,557.39 L197.15,557.75 L198.08,557.30 L199.01,556.93 L199.95,557.34 L200.88,555.67 L202.12,556.43 L203.36,557.61 L204.29,558.60 L205.22,558.45 L206.15,557.53 L207.08,558.71 L208.07,559.08 L209.07,559.75 L210.06,558.93 L211.05,557.99 L212.04,558.59 L212.97,558.66 L213.91,559.72 L214.84,560.66 L215.77,560.88 L216.70,560.75 L217.63,560.71 L218.56,562.60 L219.49,562.47 L220.42,561.56 L221.35,561.42 L222.28,559.62 L223.21,560.39 L224.14,559.41 L225.07,559.21 L226.00,558.31 L226.93,559.18 L227.86,558.57 L228.80,557.55 L229.73,557.92 L230.66,558.24 L231.59,556.72 L232.52,557.36 L233.45,558.04 L234.38,557.59 L235.31,556.42 L236.24,557.22 L237.17,557.31 L238.10,556.18 L239.03,556.81 L239.96,556.88 L240.89,557.91 L241.82,558.20 L242.76,558.94 L243.69,558.65 L244.62,559.76 L245.55,559.67 L246.48,559.56 L247.41,560.13 L248.34,561.95 L249.27,561.34 L250.20,561.31 L251.13,561.97 L252.06,561.32 L252.99,562.69 L253.92,562.21 L254.85,562.05 L255.78,561.61 L256.72,562.27 L257.65,562.11 L258.58,560.60 L259.51,561.16 L260.44,561.60 L261.37,560.44 L262.30,561.02 L263.23,559.90 L264.16,558.68 L265.09,560.19 L266.02,558.28 L266.95,559.66 L267.88,558.82 L268.81,557.48 L269.74,556.29 L270.68,555.60 L271.61,554.15 L272.85,555.01 L274.09,556.02 L275.33,557.98 L276.57,558.98 L277.64,558.33 L278.72,557.34 L279.80,557.32" stroke="#6cc24f" stroke-width="1.2" fill="none" stroke-linejoin="round"/>
<path d="M183.01,557.33 L184.00,557.89 L184.99,558.43 L185.99,559.02 L186.92,559.41 L187.85,560.03 L188.78,560.80 L189.71,560.13 L190.64,558.34 L191.57,558.17 L192.50,557.10 L193.43,557.26 L194.36,556.99 L195.29,556.35 L196.22,555.76 L197.15,554.70 L198.08,554.86 L199.01,553.68 L199.95,551.99 L200.88,551.21 L202.12,553.52 L203.36,554.92 L204.29,554.80 L205.22,554.07 L206.15,553.68 L207.08,554.10 L208.01,554.14 L208.94,553.81 L209.87,553.77 L210.80,552.78 L211.73,553.80 L212.66,555.23 L213.59,555.20 L214.53,556.43 L215.52,556.07 L216.51,554.55 L217.50,554.28 L218.58,553.82 L219.65,553.38 L220.73,553.13 L221.66,554.10 L222.59,555.09 L223.52,556.31 L224.45,556.86 L225.38,556.84 L226.31,555.92 L227.24,556.06 L228.18,554.53 L229.11,554.81 L230.04,554.23 L230.97,554.63 L231.90,554.09 L232.83,554.09 L233.76,552.35 L234.69,552.04 L235.62,552.03 L236.70,551.26 L237.77,550.42 L238.85,549.35 L239.84,550.70 L240.83,552.10 L241.82,552.21 L242.76,551.48 L243.69,552.06 L244.62,551.49 L245.55,550.45 L246.62,549.68 L247.70,548.47 L248.77,547.00 L249.77,547.49 L250.76,548.25 L251.75,548.85 L252.99,547.64 L254.23,544.94 L255.23,546.25 L256.22,547.59 L257.21,547.87 L258.29,549.13 L259.36,550.00 L260.44,551.08 L261.51,550.22 L262.59,550.99 L263.66,551.52 L264.66,551.02 L265.65,551.86 L266.64,551.81 L267.88,552.89 L269.12,553.70 L270.12,553.85 L271.11,554.74 L272.10,555.55 L273.18,557.32 L274.25,559.30 L275.33,559.72 L276.57,559.81 L277.81,559.08 L278.80,559.75 L279.80,559.80" stroke="#e8262a" stroke-width="1.2" fill="none" stroke-linejoin="round"/>
<path d="M183.01,549.64 L184.12,549.89 L185.24,549.78 L186.23,552.24 L187.23,553.58 L188.16,553.37 L189.09,554.30 L190.02,556.73 L190.95,557.72 L191.88,557.02 L192.81,557.43 L193.74,555.69 L194.67,555.60 L195.60,554.65 L196.53,554.45 L197.46,553.87 L198.39,553.32 L199.64,548.67 L200.88,547.40 L202.12,545.07 L203.36,544.64 L204.60,540.50 L205.84,537.44 L207.08,534.98 L208.32,532.45 L209.56,530.52 L210.80,527.75 L212.04,529.84 L213.28,531.03 L215.02,532.14 L216.26,533.67 L217.50,536.32 L218.58,537.30 L219.65,538.26 L220.73,540.35 L221.66,538.61 L222.59,538.53 L223.52,536.36 L224.45,536.35 L225.38,535.22 L226.31,535.14 L227.24,534.44 L228.18,534.02 L229.42,532.57 L230.66,531.98 L231.90,528.42 L233.14,524.80 L234.38,521.51 L235.62,518.48 L236.86,516.33 L238.10,513.31 L239.34,513.69 L240.58,511.60 L241.82,514.44 L243.07,515.50 L244.31,518.51 L245.55,520.29 L246.79,521.25 L248.03,520.56 L249.27,519.99 L250.51,519.49 L251.75,520.56 L252.99,522.56 L254.23,524.47 L255.47,527.30 L256.72,530.39 L257.96,532.62 L258.89,534.52 L259.82,536.14 L260.75,538.24 L261.68,539.56 L262.61,541.25 L263.54,541.73 L264.47,543.48 L265.40,544.54 L266.33,545.28 L267.26,547.30 L268.19,547.60 L269.12,548.79 L270.36,550.81 L271.61,554.78 L272.85,554.87 L274.09,558.23 L275.33,559.03 L276.57,559.62 L277.64,557.62 L278.72,555.55 L279.80,554.84" stroke="#3d5cb5" stroke-width="1.2" fill="none" stroke-linejoin="round"/>
<path d="M183.01,556.75 L184.06,557.45 L185.12,557.66 L186.17,558.47 L187.23,559.00 L188.16,558.93 L189.09,560.04 L190.02,560.60 L190.95,561.34 L191.88,559.32 L192.81,559.11 L193.74,559.14 L194.67,557.49 L195.66,556.93 L196.66,555.46 L197.65,553.93 L198.64,553.20 L199.64,552.00 L200.75,548.77 L201.87,544.08 L202.99,540.96 L204.10,536.71 L205.09,531.23 L206.09,526.98 L207.08,521.74 L208.32,518.15 L209.56,516.00 L210.49,516.00 L211.42,514.67 L212.35,514.35 L213.28,513.47 L214.53,511.99 L215.77,508.88 L217.01,506.94 L218.25,505.12 L219.49,500.19 L220.73,496.57 L222.47,498.70 L223.46,501.32 L224.45,504.67 L225.69,510.78 L226.93,517.27 L228.18,520.97 L229.42,525.92 L230.49,525.04 L231.57,523.83 L232.64,523.04 L233.64,522.00 L234.63,520.62 L235.62,518.50 L236.86,523.33 L238.10,525.89 L239.34,528.09 L240.58,530.67 L241.82,530.56 L243.07,529.93 L244.31,529.56 L245.55,528.83 L246.79,524.64 L248.03,522.31 L248.96,522.12 L249.89,520.31 L250.82,519.19 L251.75,518.27 L252.99,520.20 L254.23,520.88 L255.47,522.22 L256.72,524.37 L257.65,526.61 L258.58,528.74 L259.51,529.70 L260.44,531.84 L261.37,533.72 L262.30,535.54 L263.23,537.85 L264.16,539.78 L265.40,541.62 L266.64,543.78 L267.88,545.82 L269.12,548.93 L270.36,549.30 L271.61,553.06 L272.85,556.31 L274.09,558.25 L275.33,560.91 L276.57,560.46 L277.64,561.51 L278.72,559.08 L279.80,559.31" stroke="#1a1a1a" stroke-width="1.2" fill="none" stroke-linejoin="round"/>
<text x="412.6" y="476.6" font-size="11.7" text-anchor="start" fill="#111" font-weight="bold" >Unit #13</text>
<line x1="399.5" y1="486.3" x2="399.5" y2="647.8" stroke="#7a7a7a" stroke-width="1"/><line x1="399.5" y1="486.3" x2="402.0" y2="486.3" stroke="#7a7a7a" stroke-width="1"/><text x="394.3" y="489.90000000000003" font-size="10" text-anchor="end" fill="#666" font-weight="normal" >10</text><line x1="399.5" y1="518.6" x2="402.0" y2="518.6" stroke="#7a7a7a" stroke-width="1"/><text x="394.3" y="522.2" font-size="10" text-anchor="end" fill="#666" font-weight="normal" >8</text><line x1="399.5" y1="550.9" x2="402.0" y2="550.9" stroke="#7a7a7a" stroke-width="1"/><text x="394.3" y="554.5" font-size="10" text-anchor="end" fill="#666" font-weight="normal" >6</text><line x1="399.5" y1="583.2" x2="402.0" y2="583.2" stroke="#7a7a7a" stroke-width="1"/><text x="394.3" y="586.8000000000001" font-size="10" text-anchor="end" fill="#666" font-weight="normal" >4</text><line x1="399.5" y1="615.5" x2="402.0" y2="615.5" stroke="#7a7a7a" stroke-width="1"/><text x="394.3" y="619.1" font-size="10" text-anchor="end" fill="#666" font-weight="normal" >2</text><line x1="399.5" y1="647.6" x2="402.0" y2="647.6" stroke="#7a7a7a" stroke-width="1"/><text x="394.3" y="651.2" font-size="10" text-anchor="end" fill="#666" font-weight="normal" >0</text>
<line x1="399.5" y1="647.8" x2="509.4" y2="647.8" stroke="#7a7a7a" stroke-width="1"/><line x1="414.9" y1="647.8" x2="414.9" y2="645.3" stroke="#7a7a7a" stroke-width="1"/><text x="414.9" y="658.7" font-size="10" text-anchor="middle" fill="#666" font-weight="normal" >2</text><line x1="446.2" y1="647.8" x2="446.2" y2="645.3" stroke="#7a7a7a" stroke-width="1"/><text x="446.2" y="658.7" font-size="10" text-anchor="middle" fill="#666" font-weight="normal" >4</text><line x1="477.9" y1="647.8" x2="477.9" y2="645.3" stroke="#7a7a7a" stroke-width="1"/><text x="477.9" y="658.7" font-size="10" text-anchor="middle" fill="#666" font-weight="normal" >6</text><line x1="509.2" y1="647.8" x2="509.2" y2="645.3" stroke="#7a7a7a" stroke-width="1"/><text x="509.2" y="658.7" font-size="10" text-anchor="middle" fill="#666" font-weight="normal" >8</text>
<path d="M414.90,599.60 L446.20,570.00 L509.00,522.30" stroke="#111" stroke-width="1.5" fill="none" stroke-linejoin="round"/>
<path d="M414.9,584.4V616.3M412.4,584.4H417.4M412.4,616.3H417.4" stroke="#111" stroke-width="1.4" fill="none"/>
<path d="M446.2,552.5V587.2M443.7,552.5H448.7M443.7,587.2H448.7" stroke="#111" stroke-width="1.4" fill="none"/>
<path d="M509,500V542.7M506.5,500H511.5M506.5,542.7H511.5" stroke="#111" stroke-width="1.4" fill="none"/>
<text x="420.8" y="638.8" font-size="11" fill="#444">p&lt;10<tspan font-size="7.9" dy="-4">-10</tspan></text>
<text x="0" y="0" font-size="11.4" text-anchor="middle" fill="#555" transform="translate(375,563.8) rotate(-90)">Spike rate (Hz)</text>
<text x="462.9" y="674" font-size="11.6" text-anchor="middle" fill="#555">Temp. Freq (cyc.s<tspan font-size="8.1" dy="-4">-1</tspan><tspan dy="4">)</tspan></text>
<line x1="570.7" y1="599.5" x2="661.9" y2="599.5" stroke="#c4c4c4" stroke-width="1.8"/>
<line x1="570.5" y1="531.5" x2="570.5" y2="614.5" stroke="#7a7a7a" stroke-width="1"/><line x1="570.5" y1="544" x2="573.0" y2="544" stroke="#7a7a7a" stroke-width="1"/><text x="567.8" y="547.4" font-size="9.8" text-anchor="end" fill="#666" font-weight="normal" >20</text><line x1="570.5" y1="558" x2="573.0" y2="558" stroke="#7a7a7a" stroke-width="1"/><line x1="570.5" y1="572" x2="573.0" y2="572" stroke="#7a7a7a" stroke-width="1"/><line x1="570.5" y1="586" x2="573.0" y2="586" stroke="#7a7a7a" stroke-width="1"/><line x1="570.5" y1="599.5" x2="573.0" y2="599.5" stroke="#7a7a7a" stroke-width="1"/><text x="567.8" y="602.9" font-size="9.8" text-anchor="end" fill="#666" font-weight="normal" >0</text>
<line x1="570.5" y1="614.5" x2="661.9" y2="614.5" stroke="#7a7a7a" stroke-width="1"/><line x1="591.1" y1="614.5" x2="591.1" y2="612.0" stroke="#7a7a7a" stroke-width="1"/><text x="591.1" y="625.7" font-size="10.2" text-anchor="middle" fill="#666" font-weight="normal" >0</text><line x1="640.4" y1="614.5" x2="640.4" y2="612.0" stroke="#7a7a7a" stroke-width="1"/><text x="640.4" y="625.7" font-size="10.2" text-anchor="middle" fill="#666" font-weight="normal" >0.5</text>
<text x="618.6" y="637.8" font-size="11.6" text-anchor="middle" fill="#555" font-weight="normal" >Time (s)</text>
<text x="0" y="0" font-size="11.4" text-anchor="middle" fill="#555" transform="translate(551.3,571.2) rotate(-90)">Spike rate (Hz)</text>
<text x="585" y="529.3" font-size="9.4" fill="#222">Temp. Freq. (cyc.s<tspan font-size="6.5" dy="-3">-1</tspan><tspan dy="3">)</tspan></text>
<line x1="651" y1="543.3" x2="665.8" y2="543.3" stroke="#222" stroke-width="1.7"/>
<text x="668.5" y="546.9" font-size="10" text-anchor="start" fill="#444" font-weight="normal" >2</text>
<line x1="651" y1="552.3" x2="665.8" y2="552.3" stroke="#4a66b8" stroke-width="1.7"/>
<text x="668.5" y="555.9" font-size="10" text-anchor="start" fill="#444" font-weight="normal" >4</text>
<line x1="651" y1="562" x2="665.8" y2="562" stroke="#e8262a" stroke-width="1.7"/>
<text x="668.5" y="565.6" font-size="10" text-anchor="start" fill="#444" font-weight="normal" >8</text>
<path d="M570.73,595.03 L571.86,596.14 L572.99,596.89 L574.12,598.09 L575.03,600.17 L575.93,601.79 L576.84,602.73 L577.74,604.74 L578.65,605.50 L579.78,605.58 L580.91,604.10 L582.04,602.99 L583.18,600.08 L584.31,596.80 L585.44,594.80 L586.57,593.32 L587.70,590.93 L588.83,591.57 L589.96,590.62 L591.09,590.28 L592.23,588.51 L593.36,587.66 L594.49,585.99 L595.62,584.37 L596.75,583.61 L597.88,583.08 L599.01,581.33 L600.15,582.46 L601.28,583.62 L602.41,584.04 L603.54,586.15 L604.67,588.23 L605.80,589.50 L606.93,589.76 L608.07,591.04 L609.20,591.79 L610.33,590.54 L611.46,589.57 L612.59,588.81 L613.72,589.73 L614.85,591.23 L615.99,592.18 L617.12,590.46 L618.25,589.06 L619.38,587.82 L620.51,585.16 L621.64,583.77 L622.77,582.17 L623.91,581.64 L625.04,580.82 L626.17,579.27 L627.30,580.03 L628.43,579.67 L629.56,580.20 L630.69,581.22 L631.82,582.60 L632.96,582.11 L634.09,580.75 L635.22,577.92 L636.35,575.17 L637.48,575.48 L638.61,577.13 L639.74,577.80 L640.88,577.72 L642.01,578.17 L643.14,578.88 L644.27,579.17 L645.40,580.82 L646.53,581.31 L647.44,582.40 L648.34,581.64 L649.25,582.27 L650.15,582.26 L651.06,582.39 L652.19,582.69 L653.32,584.23 L654.45,583.88 L655.58,590.64 L656.72,595.74 L657.85,596.27 L658.98,598.79 L660.11,598.28 L661.01,597.97 L661.92,598.25" stroke="#1a1a1a" stroke-width="1.2" fill="none" stroke-linejoin="round"/>
<path d="M570.73,588.06 L571.86,591.72 L572.99,596.15 L574.12,599.21 L575.26,602.00 L576.39,604.18 L577.52,602.79 L578.65,601.51 L579.78,600.29 L580.69,598.89 L581.59,597.51 L582.50,596.28 L583.40,596.45 L584.31,594.82 L585.21,593.94 L586.12,591.48 L587.02,590.89 L587.93,589.40 L588.83,588.36 L589.74,585.68 L590.64,583.96 L591.55,581.72 L592.45,579.61 L593.36,575.80 L594.49,574.31 L595.62,573.62 L596.75,572.26 L597.88,570.57 L599.01,569.43 L600.15,569.37 L601.28,570.44 L602.41,571.94 L603.54,573.97 L604.67,575.65 L605.80,577.12 L606.93,579.84 L608.07,581.93 L609.20,582.78 L610.33,584.84 L611.46,583.29 L612.59,582.66 L613.72,581.04 L614.63,581.01 L615.53,579.76 L616.44,578.75 L617.34,578.80 L618.25,578.05 L619.15,577.27 L620.06,575.84 L620.96,575.65 L621.87,575.61 L622.77,574.62 L623.68,572.82 L624.58,572.80 L625.49,571.29 L626.39,569.95 L627.30,568.63 L628.43,568.40 L629.56,568.30 L630.69,566.65 L631.82,568.67 L632.96,569.39 L634.09,571.29 L635.22,571.90 L636.35,572.62 L637.48,573.54 L638.61,576.00 L639.74,577.98 L640.88,578.45 L642.01,581.70 L643.14,582.84 L644.27,583.90 L645.40,587.53 L646.53,588.83 L647.66,591.17 L648.57,593.23 L649.47,594.09 L650.38,595.61 L651.28,597.45 L652.19,598.41 L653.32,598.19 L654.45,600.34 L655.58,601.04 L656.72,600.32 L657.85,599.55 L658.98,599.47 L659.96,598.67 L660.94,597.76 L661.92,597.12" stroke="#3d5cb5" stroke-width="1.2" fill="none" stroke-linejoin="round"/>
<path d="M570.73,592.87 L571.86,593.87 L572.99,594.54 L574.12,596.90 L575.26,596.40 L576.39,598.27 L577.52,599.81 L578.42,599.02 L579.33,598.32 L580.23,596.89 L581.14,597.54 L582.04,595.67 L582.95,595.29 L583.85,594.64 L584.76,593.96 L585.66,593.04 L586.57,593.32 L587.70,591.13 L588.83,590.05 L589.96,587.35 L591.09,584.96 L592.23,581.19 L593.36,578.08 L594.49,570.64 L595.62,563.39 L596.75,562.01 L597.88,560.96 L599.01,560.23 L600.15,559.52 L601.28,558.69 L602.41,555.66 L603.54,553.21 L604.67,548.09 L605.80,544.90 L606.93,542.09 L608.07,540.13 L609.20,542.20 L610.33,544.49 L611.46,549.48 L612.59,554.90 L613.57,557.24 L614.55,559.61 L615.53,561.88 L616.44,560.08 L617.34,556.44 L618.25,556.03 L619.38,550.58 L620.51,546.28 L621.42,543.69 L622.32,542.93 L623.45,547.24 L624.58,553.23 L625.49,556.15 L626.39,559.11 L627.30,561.97 L628.43,561.55 L629.56,561.15 L630.69,561.33 L631.82,558.69 L632.96,556.50 L633.94,557.12 L634.92,555.68 L635.90,554.84 L636.80,558.00 L637.71,561.68 L638.61,566.63 L639.74,570.75 L640.88,573.64 L642.01,577.35 L643.14,580.06 L644.27,582.48 L645.40,585.10 L646.53,586.88 L647.66,588.90 L648.80,591.78 L649.93,592.91 L651.06,594.57 L652.19,596.61 L653.32,600.36 L654.45,603.71 L655.58,607.30 L656.56,606.94 L657.55,607.64 L658.53,606.36 L659.43,603.29 L660.34,601.74 L661.24,600.51" stroke="#e8262a" stroke-width="1.2" fill="none" stroke-linejoin="round"/>
<text x="104.6" y="711" font-size="11.8" text-anchor="start" fill="#111" font-weight="bold" >Unit #8</text>
<line x1="92.5" y1="722.8" x2="92.5" y2="886.5" stroke="#7a7a7a" stroke-width="1"/><line x1="92.5" y1="722.8" x2="95.0" y2="722.8" stroke="#7a7a7a" stroke-width="1"/><text x="87.6" y="726.4" font-size="10" text-anchor="end" fill="#666" font-weight="normal" >12</text><line x1="92.5" y1="749.1" x2="95.0" y2="749.1" stroke="#7a7a7a" stroke-width="1"/><line x1="92.5" y1="776.7" x2="95.0" y2="776.7" stroke="#7a7a7a" stroke-width="1"/><text x="87.6" y="780.3000000000001" font-size="10" text-anchor="end" fill="#666" font-weight="normal" >8</text><line x1="92.5" y1="803.8" x2="95.0" y2="803.8" stroke="#7a7a7a" stroke-width="1"/><line x1="92.5" y1="831.5" x2="95.0" y2="831.5" stroke="#7a7a7a" stroke-width="1"/><text x="87.6" y="835.1" font-size="10" text-anchor="end" fill="#666" font-weight="normal" >4</text><line x1="92.5" y1="858.8" x2="95.0" y2="858.8" stroke="#7a7a7a" stroke-width="1"/><line x1="92.5" y1="886.2" x2="95.0" y2="886.2" stroke="#7a7a7a" stroke-width="1"/><text x="87.6" y="889.8000000000001" font-size="10" text-anchor="end" fill="#666" font-weight="normal" >0</text>
<line x1="92.5" y1="886.5" x2="270.2" y2="886.5" stroke="#7a7a7a" stroke-width="1"/><line x1="92.5" y1="886.5" x2="92.5" y2="884.0" stroke="#7a7a7a" stroke-width="1"/><line x1="151.8" y1="886.5" x2="151.8" y2="884.0" stroke="#7a7a7a" stroke-width="1"/><line x1="210.7" y1="886.5" x2="210.7" y2="884.0" stroke="#7a7a7a" stroke-width="1"/><line x1="270.2" y1="886.5" x2="270.2" y2="884.0" stroke="#7a7a7a" stroke-width="1"/>
<text x="91.4" y="899" font-size="10" text-anchor="middle" fill="#666" font-weight="normal" >0</text>
<text x="148.3" y="899" font-size="10" text-anchor="middle" fill="#666" font-weight="normal" >2</text>
<text x="210.8" y="899" font-size="10" text-anchor="middle" fill="#666" font-weight="normal" >4</text>
<text x="271.5" y="899" font-size="10" text-anchor="middle" fill="#666" font-weight="normal" >6</text>
<path d="M107.30,815.00 L126.60,762.30 L169.70,804.50 L269.20,871.80" stroke="#111" stroke-width="1.5" fill="none" stroke-linejoin="round"/>
<path d="M107.3,805.2V824.5M101.8,805.2H112.8M101.8,824.5H112.8" stroke="#111" stroke-width="1.4" fill="none"/>
<path d="M126.6,749.1V774.6M121.1,749.1H132.1M121.1,774.6H132.1" stroke="#111" stroke-width="1.4" fill="none"/>
<path d="M169.7,794V815.7M164.2,794H175.2M164.2,815.7H175.2" stroke="#111" stroke-width="1.4" fill="none"/>
<path d="M269.2,860.6V882.7M263.7,860.6H274.7M263.7,882.7H274.7" stroke="#111" stroke-width="1.4" fill="none"/>
<text x="105" y="875.4" font-size="11" fill="#444">p&lt;10<tspan font-size="7.9" dy="-4">-10</tspan></text>
<text x="0" y="0" font-size="11.5" text-anchor="middle" fill="#555" transform="translate(63.2,801.9) rotate(-90)">Spike rate (Hz)</text>
<text x="183.9" y="914.5" font-size="11.6" text-anchor="middle" fill="#555" font-weight="normal" >Sp. Freq (cyc.deg-1)</text>
<line x1="219.4" y1="776.2" x2="313.6" y2="776.2" stroke="#c4c4c4" stroke-width="1.8"/>
<line x1="219.5" y1="712" x2="219.5" y2="802.5" stroke="#7a7a7a" stroke-width="1"/><line x1="219.5" y1="723.6" x2="222.0" y2="723.6" stroke="#7a7a7a" stroke-width="1"/><text x="215.2" y="727.0" font-size="9.8" text-anchor="end" fill="#666" font-weight="normal" >20</text><line x1="219.5" y1="749.9" x2="222.0" y2="749.9" stroke="#7a7a7a" stroke-width="1"/><text x="215.2" y="753.3" font-size="9.8" text-anchor="end" fill="#666" font-weight="normal" >10</text><line x1="219.5" y1="775.5" x2="222.0" y2="775.5" stroke="#7a7a7a" stroke-width="1"/><text x="215.2" y="778.9" font-size="9.8" text-anchor="end" fill="#666" font-weight="normal" >0</text>
<line x1="219.5" y1="802.5" x2="313.6" y2="802.5" stroke="#7a7a7a" stroke-width="1"/><line x1="240.2" y1="802.5" x2="240.2" y2="800.0" stroke="#7a7a7a" stroke-width="1"/><text x="240.2" y="813" font-size="10.2" text-anchor="middle" fill="#666" font-weight="normal" >0</text><line x1="292.1" y1="802.5" x2="292.1" y2="800.0" stroke="#7a7a7a" stroke-width="1"/><text x="292.1" y="813" font-size="10.2" text-anchor="middle" fill="#666" font-weight="normal" >0.5</text>
<text x="266" y="825" font-size="12" text-anchor="middle" fill="#555" font-weight="normal" >Time (s)</text>
<text x="0" y="0" font-size="11.5" text-anchor="middle" fill="#555" transform="translate(198.8,748.2) rotate(-90)">Spike rate (Hz)</text>
<path d="M219.42,775.75 L220.51,777.61 L221.61,778.46 L222.70,778.90 L223.80,779.37 L224.89,778.46 L225.99,778.79 L227.08,778.69 L228.18,779.13 L229.27,778.83 L230.36,780.49 L231.46,780.10 L232.55,779.82 L233.65,779.30 L234.74,777.92 L235.84,777.40 L236.93,777.74 L238.03,777.12 L239.12,776.74 L240.22,776.51 L241.31,776.52 L242.41,775.86 L243.50,774.70 L244.60,775.11 L245.69,774.97 L246.79,774.32 L247.88,771.79 L248.98,767.28 L250.07,763.20 L251.17,759.82 L252.26,755.88 L253.36,752.81 L254.45,751.66 L255.55,750.69 L256.64,750.05 L257.74,748.83 L258.83,748.03 L259.93,744.82 L261.02,743.37 L262.12,742.07 L263.21,738.87 L264.31,735.27 L265.40,733.48 L266.50,732.47 L267.59,733.92 L268.69,734.27 L269.78,734.96 L270.88,735.23 L271.97,734.84 L273.07,734.72 L274.16,735.38 L275.26,733.80 L276.35,733.07 L277.45,734.11 L278.54,732.73 L279.64,735.03 L280.73,735.42 L281.82,737.97 L282.92,740.62 L284.01,743.85 L285.11,747.34 L286.20,750.72 L287.30,753.86 L288.39,756.24 L289.49,760.79 L290.58,763.96 L291.68,766.09 L292.77,768.70 L293.87,770.19 L294.96,771.66 L296.06,772.30 L297.15,771.99 L298.25,773.45 L299.34,774.17 L300.44,776.16 L301.53,776.50 L302.63,775.42 L303.72,775.30 L304.82,774.78 L305.91,775.48 L307.01,774.72 L308.10,773.82 L309.20,773.10 L310.29,771.95 L311.39,772.94 L312.48,774.68 L313.58,775.55" stroke="#1a1a1a" stroke-width="1.2" fill="none" stroke-linejoin="round"/>
<path d="M219.42,776.34 L220.51,776.64 L221.61,777.35 L222.70,777.57 L223.80,776.87 L224.89,775.86 L225.99,775.33 L227.08,774.28 L228.18,773.16 L229.27,772.56 L230.36,772.65 L231.46,774.36 L232.55,773.31 L233.65,775.74 L234.74,776.36 L235.84,777.58 L236.93,776.22 L238.03,775.19 L239.12,774.80 L240.22,774.15 L241.31,773.43 L242.41,772.29 L243.50,771.60 L244.60,772.11 L245.69,772.86 L246.79,772.47 L247.88,773.50 L248.98,773.44 L250.07,773.72 L251.17,774.83 L252.26,774.60 L253.36,773.60 L254.45,773.04 L255.55,771.89 L256.64,771.74 L257.74,771.25 L258.83,769.75 L259.93,770.62 L261.02,770.76 L262.12,771.65 L263.21,771.07 L264.31,770.92 L265.40,770.94 L266.50,770.68 L267.59,769.66 L268.69,768.64 L269.78,769.34 L270.88,769.60 L271.97,770.37 L273.07,770.43 L274.16,772.27 L275.26,771.94 L276.35,771.59 L277.45,770.71 L278.54,770.07 L279.64,769.16 L280.73,769.78 L281.82,768.60 L282.92,767.69 L284.01,768.32 L285.11,767.11 L286.20,767.33 L287.30,768.18 L288.39,771.01 L289.49,773.21 L290.58,773.50 L291.68,773.60 L292.77,774.16 L293.87,774.16 L294.96,773.48 L296.06,773.70 L297.15,774.14 L298.25,774.10 L299.34,773.85 L300.44,775.53 L301.53,776.29 L302.63,778.41 L303.72,778.97 L304.82,779.86 L305.91,780.94 L307.01,779.79 L308.10,777.73 L309.20,775.39 L310.29,773.64 L311.39,772.23 L312.48,768.35 L313.58,763.50" stroke="#6cc24f" stroke-width="1.2" fill="none" stroke-linejoin="round"/>
<path d="M219.42,775.31 L220.51,775.40 L221.61,775.32 L222.70,775.31 L223.80,773.48 L224.89,773.40 L225.99,772.94 L227.08,773.94 L228.18,774.75 L229.27,774.96 L230.36,776.22 L231.46,775.99 L232.55,777.45 L233.65,777.33 L234.74,778.25 L235.84,778.68 L236.93,778.79 L238.03,777.19 L239.12,775.74 L240.22,774.21 L241.31,774.09 L242.41,773.92 L243.50,774.79 L244.60,774.36 L245.69,774.62 L246.79,776.38 L247.88,778.72 L248.98,780.30 L250.07,781.13 L251.17,780.77 L252.26,780.64 L253.36,776.79 L254.45,771.79 L255.55,765.62 L256.64,761.69 L257.74,757.06 L258.83,752.11 L259.93,751.04 L261.02,750.75 L262.12,748.30 L263.21,744.74 L264.31,741.29 L265.40,737.63 L266.50,733.38 L267.59,729.01 L268.69,726.64 L269.78,723.09 L270.88,720.82 L271.97,718.31 L273.07,715.36 L274.16,713.53 L275.26,713.33 L276.35,715.76 L277.45,720.04 L278.54,719.90 L279.64,721.67 L280.73,722.77 L281.82,723.76 L282.92,725.29 L284.01,726.95 L285.11,729.34 L286.20,733.07 L287.30,737.76 L288.39,740.34 L289.49,745.04 L290.58,748.59 L291.68,752.48 L292.77,756.15 L293.87,758.70 L294.96,761.42 L296.06,764.60 L297.15,767.59 L298.25,772.20 L299.34,774.25 L300.44,778.86 L301.53,782.60 L302.63,785.33 L303.72,786.92 L304.82,789.36 L305.91,789.50 L307.01,789.04 L308.10,788.25 L309.20,788.12 L310.29,788.26 L311.39,786.70 L312.48,787.08 L313.58,785.40" stroke="#e8262a" stroke-width="1.2" fill="none" stroke-linejoin="round"/>
<path d="M219.42,787.35 L220.51,788.54 L221.61,789.55 L222.70,790.64 L223.80,788.08 L224.89,787.27 L225.99,786.08 L227.08,786.72 L228.18,787.16 L229.27,787.01 L230.36,786.63 L231.46,784.75 L232.55,784.56 L233.65,782.44 L234.74,781.53 L235.84,780.14 L236.93,777.14 L238.03,774.18 L239.12,770.81 L240.22,767.37 L241.31,763.69 L242.41,758.32 L243.50,757.27 L244.60,754.93 L245.69,749.99 L246.79,744.63 L247.88,741.86 L248.98,738.33 L250.07,736.61 L251.17,733.32 L252.26,730.27 L253.36,726.98 L254.45,724.35 L255.55,722.19 L256.64,722.27 L257.74,723.12 L258.83,723.64 L259.93,724.76 L261.02,725.94 L262.12,726.77 L263.21,726.49 L264.31,729.25 L265.40,733.25 L266.50,736.11 L267.59,737.77 L268.69,739.42 L269.78,739.33 L270.88,740.53 L271.97,740.02 L273.07,739.08 L274.16,737.62 L275.26,736.32 L276.35,733.28 L277.45,732.09 L278.54,727.57 L279.64,724.95 L280.73,721.68 L281.82,719.38 L282.92,717.62 L284.01,715.46 L285.11,716.20 L286.20,715.55 L287.30,715.86 L288.39,717.53 L289.49,721.31 L290.58,726.15 L291.68,731.31 L292.77,735.71 L293.87,739.00 L294.96,743.18 L296.06,747.81 L297.15,752.26 L298.25,757.60 L299.34,760.38 L300.44,765.72 L301.53,770.55 L302.63,774.38 L303.72,777.06 L304.82,780.61 L305.91,782.01 L307.01,782.84 L308.10,783.14 L309.20,782.83 L310.29,782.78 L311.39,781.95 L312.48,783.06 L313.58,782.12" stroke="#3d5cb5" stroke-width="1.2" fill="none" stroke-linejoin="round"/>
<text x="404.5" y="707" font-size="11.5" text-anchor="start" fill="#111" font-weight="bold" >Unit #8</text>
<line x1="399.5" y1="723.6" x2="399.5" y2="890.5" stroke="#7a7a7a" stroke-width="1"/><line x1="399.5" y1="741.6" x2="402.0" y2="741.6" stroke="#7a7a7a" stroke-width="1"/><text x="394" y="745.2" font-size="10" text-anchor="end" fill="#666" font-weight="normal" >7</text><line x1="399.5" y1="778.8" x2="402.0" y2="778.8" stroke="#7a7a7a" stroke-width="1"/><text x="394" y="782.4" font-size="10" text-anchor="end" fill="#666" font-weight="normal" >6</text><line x1="399.5" y1="816" x2="402.0" y2="816" stroke="#7a7a7a" stroke-width="1"/><text x="394" y="819.6" font-size="10" text-anchor="end" fill="#666" font-weight="normal" >5</text><line x1="399.5" y1="853.3" x2="402.0" y2="853.3" stroke="#7a7a7a" stroke-width="1"/><text x="394" y="856.9" font-size="10" text-anchor="end" fill="#666" font-weight="normal" >4</text><line x1="399.5" y1="890.4" x2="402.0" y2="890.4" stroke="#7a7a7a" stroke-width="1"/><text x="394" y="894.0" font-size="10" text-anchor="end" fill="#666" font-weight="normal" >3</text>
<line x1="399.5" y1="890.5" x2="538.5" y2="890.5" stroke="#7a7a7a" stroke-width="1"/><line x1="419.4" y1="890.5" x2="419.4" y2="888.0" stroke="#7a7a7a" stroke-width="1"/><text x="419.4" y="901" font-size="10" text-anchor="middle" fill="#666" font-weight="normal" >2</text><line x1="459.1" y1="890.5" x2="459.1" y2="888.0" stroke="#7a7a7a" stroke-width="1"/><text x="459.1" y="901" font-size="10" text-anchor="middle" fill="#666" font-weight="normal" >4</text><line x1="498.5" y1="890.5" x2="498.5" y2="888.0" stroke="#7a7a7a" stroke-width="1"/><text x="498.5" y="901" font-size="10" text-anchor="middle" fill="#666" font-weight="normal" >6</text><line x1="538" y1="890.5" x2="538" y2="888.0" stroke="#7a7a7a" stroke-width="1"/><text x="538" y="901" font-size="10" text-anchor="middle" fill="#666" font-weight="normal" >8</text>
<path d="M419.40,841.90 L458.80,765.00 L537.80,804.30" stroke="#111" stroke-width="1.5" fill="none" stroke-linejoin="round"/>
<path d="M419.4,810.7V874.3M415.9,810.7H422.9M415.9,874.3H422.9" stroke="#111" stroke-width="1.4" fill="none"/>
<path d="M458.8,733.2V796.6M455.3,733.2H462.3M455.3,796.6H462.3" stroke="#111" stroke-width="1.4" fill="none"/>
<path d="M537.8,772.4V837.8M534.3,772.4H541.3M534.3,837.8H541.3" stroke="#111" stroke-width="1.4" fill="none"/>
<text x="508.7" y="881.8" font-size="11" fill="#444">p&lt;10<tspan font-size="7.9" dy="-4">-10</tspan></text>
<text x="0" y="0" font-size="11.5" text-anchor="middle" fill="#555" transform="translate(375.5,804.1) rotate(-90)">Spike rate (Hz)</text>
<text x="473.4" y="916.6" font-size="11.6" text-anchor="middle" fill="#555">Temp. Freq (cyc.s<tspan font-size="8.1" dy="-4">-1</tspan><tspan dy="4">)</tspan></text>
<line x1="589.7" y1="823.5" x2="680.4" y2="823.5" stroke="#444" stroke-width="0.8"/>
<line x1="589.5" y1="753" x2="589.5" y2="836.5" stroke="#7a7a7a" stroke-width="1"/><line x1="589.5" y1="753" x2="592.0" y2="753" stroke="#7a7a7a" stroke-width="1"/><line x1="589.5" y1="767" x2="592.0" y2="767" stroke="#7a7a7a" stroke-width="1"/><text x="586" y="770.4" font-size="9.8" text-anchor="end" fill="#666" font-weight="normal" >20</text><line x1="589.5" y1="781" x2="592.0" y2="781" stroke="#7a7a7a" stroke-width="1"/><line x1="589.5" y1="795.4" x2="592.0" y2="795.4" stroke="#7a7a7a" stroke-width="1"/><text x="586" y="798.8" font-size="9.8" text-anchor="end" fill="#666" font-weight="normal" >10</text><line x1="589.5" y1="809.7" x2="592.0" y2="809.7" stroke="#7a7a7a" stroke-width="1"/><line x1="589.5" y1="823.2" x2="592.0" y2="823.2" stroke="#7a7a7a" stroke-width="1"/><text x="586" y="826.6" font-size="9.8" text-anchor="end" fill="#666" font-weight="normal" >0</text>
<line x1="589.5" y1="836.5" x2="680.4" y2="836.5" stroke="#7a7a7a" stroke-width="1"/><line x1="609.4" y1="836.5" x2="609.4" y2="834.0" stroke="#7a7a7a" stroke-width="1"/><text x="609.4" y="846.8" font-size="10.2" text-anchor="middle" fill="#666" font-weight="normal" >0</text><line x1="660.7" y1="836.5" x2="660.7" y2="834.0" stroke="#7a7a7a" stroke-width="1"/><text x="660.7" y="846.8" font-size="10.2" text-anchor="middle" fill="#666" font-weight="normal" >0.5</text>
<text x="638.4" y="856.5" font-size="11.6" text-anchor="middle" fill="#555" font-weight="normal" >Time (s)</text>
<text x="0" y="0" font-size="11.5" text-anchor="middle" fill="#555" transform="translate(572,796) rotate(-90)">Spike rate (Hz)</text>
<path d="M589.66,825.75 L590.83,826.14 L592.00,827.18 L593.18,828.17 L594.19,827.06 L595.20,826.39 L596.21,826.26 L597.23,826.58 L598.24,827.24 L599.25,827.16 L600.26,826.82 L601.28,828.41 L602.29,826.71 L603.30,826.88 L604.32,826.50 L605.33,826.54 L606.34,827.93 L607.35,827.78 L608.37,829.32 L609.38,830.62 L610.39,830.29 L611.41,831.11 L612.42,831.57 L613.43,831.22 L614.44,831.91 L615.46,833.15 L616.47,833.75 L617.48,834.63 L618.38,833.72 L619.28,831.33 L620.18,829.32 L621.08,825.20 L621.98,822.34 L622.88,817.97 L623.78,816.33 L624.68,813.45 L625.58,809.32 L626.48,806.09 L627.38,802.93 L628.28,799.24 L629.18,795.25 L630.09,791.66 L630.99,788.94 L631.89,784.77 L632.79,780.72 L633.69,777.68 L634.59,774.65 L635.49,771.37 L636.39,767.04 L637.74,765.52 L638.64,766.65 L639.54,768.12 L640.44,769.95 L641.34,771.17 L642.24,772.07 L643.14,772.30 L644.04,774.16 L644.94,775.45 L645.84,776.66 L646.74,777.61 L647.64,780.93 L648.54,783.08 L649.44,786.51 L650.34,788.49 L651.24,791.52 L652.14,795.03 L653.04,799.09 L653.94,802.46 L654.84,805.28 L655.74,808.19 L656.64,810.65 L657.54,811.92 L658.44,812.80 L659.34,814.31 L660.24,816.59 L661.14,816.99 L662.04,818.55 L663.06,818.96 L664.07,819.54 L665.08,819.00 L666.09,821.79 L667.11,821.17 L668.12,822.00 L669.13,823.66 L670.15,822.66 L671.16,823.06 L672.17,822.12 L673.18,820.87 L674.20,821.30 L675.10,821.58 L676.00,822.78 L676.90,823.53 L678.07,823.56 L679.24,823.84 L680.41,822.37" stroke="#1a1a1a" stroke-width="1.2" fill="none" stroke-linejoin="round"/>
<path d="M589.66,818.04 L590.74,820.73 L591.82,821.98 L592.73,822.94 L593.63,822.82 L594.53,823.69 L595.54,823.84 L596.55,823.17 L597.56,822.92 L598.58,822.40 L599.59,822.61 L600.60,824.21 L601.61,822.82 L602.63,823.79 L603.53,824.11 L604.43,822.34 L605.33,822.08 L606.23,820.44 L607.13,818.35 L608.03,816.91 L608.93,814.38 L609.83,811.54 L610.73,808.39 L611.63,808.46 L612.53,806.61 L613.43,805.83 L614.33,804.39 L615.23,802.24 L616.13,801.31 L617.03,799.02 L617.93,799.36 L618.83,798.15 L619.73,797.33 L620.63,797.50 L621.53,796.38 L622.43,795.28 L623.33,793.46 L624.23,791.92 L625.13,792.54 L626.03,790.48 L626.93,790.11 L627.83,791.59 L628.73,791.85 L629.64,792.06 L630.54,792.50 L631.44,792.34 L632.34,792.71 L633.24,794.14 L634.14,795.94 L635.04,797.95 L635.94,798.84 L636.84,799.84 L637.74,800.47 L638.64,800.14 L639.54,798.02 L640.44,797.44 L641.34,794.20 L642.24,790.73 L643.14,788.40 L644.04,783.89 L644.94,778.46 L645.84,775.22 L646.74,773.43 L647.64,770.56 L648.54,767.17 L649.44,768.35 L650.34,766.68 L651.24,766.77 L652.14,768.21 L653.04,768.98 L653.94,769.93 L654.84,772.79 L655.74,777.01 L656.64,780.04 L657.54,784.21 L658.44,787.66 L659.34,791.25 L660.24,795.56 L661.14,797.85 L662.04,802.05 L662.94,805.02 L663.84,809.44 L664.74,813.04 L665.64,815.25 L666.55,818.65 L667.45,821.07 L668.35,822.91 L669.25,827.61 L670.15,829.79 L671.05,830.75 L671.95,833.18 L672.85,835.43 L673.75,835.15 L674.65,835.60 L675.55,835.97 L676.45,834.12 L677.35,832.90 L678.25,832.05 L679.33,830.03 L680.41,827.77" stroke="#3d5cb5" stroke-width="1.2" fill="none" stroke-linejoin="round"/>
<path d="M589.66,831.75 L590.83,831.44 L592.00,830.38 L593.18,829.33 L594.08,827.83 L594.98,826.45 L595.88,825.03 L596.89,824.62 L597.90,823.44 L598.91,823.74 L599.93,822.99 L600.94,822.85 L601.95,823.58 L602.97,823.99 L603.98,823.70 L604.88,821.16 L605.78,819.63 L606.68,816.39 L607.58,813.78 L608.48,809.98 L609.38,805.86 L610.28,803.85 L611.18,803.63 L612.08,802.42 L612.98,800.50 L613.88,797.38 L614.78,796.88 L615.68,796.37 L616.58,795.82 L617.48,794.97 L618.38,793.77 L619.28,794.17 L620.18,792.65 L621.08,790.65 L621.98,790.46 L622.88,788.07 L623.78,788.40 L624.68,787.11 L625.58,787.13 L626.48,788.08 L627.38,789.90 L628.28,789.43 L629.18,790.94 L630.09,793.17 L630.99,794.54 L631.89,794.52 L632.79,794.65 L633.69,795.10 L634.59,794.18 L635.49,794.90 L636.39,794.32 L637.29,793.05 L638.19,791.69 L639.09,790.19 L639.99,789.52 L640.89,787.75 L641.79,788.14 L642.69,789.22 L643.59,790.57 L644.49,792.21 L645.39,792.12 L646.29,792.13 L647.19,791.57 L648.09,793.24 L648.99,795.05 L649.89,795.70 L650.79,794.52 L651.69,793.04 L652.59,790.93 L653.49,792.47 L654.39,793.93 L655.29,795.84 L656.19,797.49 L657.09,801.82 L657.99,803.13 L658.89,804.84 L659.79,806.80 L660.69,808.42 L661.59,808.48 L662.49,808.05 L663.39,808.37 L664.29,810.06 L665.19,813.43 L666.09,815.97 L667.00,817.63 L667.90,818.29 L668.80,821.24 L669.81,822.13 L670.82,822.57 L671.83,824.44 L672.85,825.68 L673.86,824.74 L674.87,823.74 L675.89,822.56 L676.90,822.63 L678.07,821.56 L679.24,821.69 L680.41,821.02" stroke="#e8262a" stroke-width="1.2" fill="none" stroke-linejoin="round"/>
</svg></body></html>
